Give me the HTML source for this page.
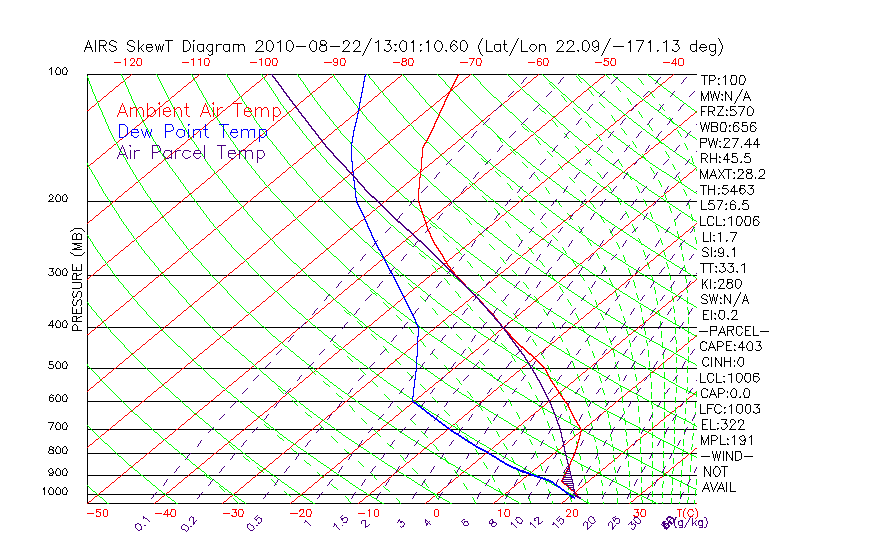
<!DOCTYPE html>
<html><head><meta charset="utf-8"><title>AIRS SkewT Diagram 2010-08-22/13:01:10.60 (Lat/Lon 22.09/-171.13 deg)</title>
<style>html,body{margin:0;padding:0;background:#fff;font-family:"Liberation Sans",sans-serif;}svg{display:block}</style>
</head><body>
<svg role="img" aria-label="AIRS SkewT Diagram" width="870" height="560" viewBox="0 0 870 560" shape-rendering="crispEdges" fill="none" stroke-width="1">
<rect width="870" height="560" fill="#fff" stroke="none"/>
<path id="frame-and-text" stroke="#000000" d="M99 40.5h6m6 0h3m15 0h4m32 0h8m10 0h5m5 0h2m63 0h3m7 0h3m17 0h3m21 0h2m7 0h4m20 0h3m7 0h3m27 0h6m11 0h2m33 0h2m14 0h2m7 0h3m94 0h3m7 0h3m12 0h3m8 0h2m39 0h8m29 0h6m-565 1h2m140 0h2m3 0h2m16 0h2m33 0h2m27 0h2m13 0h2m17 0h2m25 0h2m6 0h2m13 0h2m10 0h2m14 0h2m100 0h2m8 0h2m3 0h2m19 0h2m34 0h2m18 0h2m14 0h2m-390 1h2m96 0h2m34 0h3m12 0h3m199 0h3m17 0h3m12 0h2m-556 2h2m16 0h2m18 0h5m46 0h6m4 0h5m5 0h4m2 0h6m3 0h6m1 0h4m76 0h3m1 0h2m61 0h3m4 0h3m23 0h2m31 0h2m40 0h6m2 0h4m24 0h4m6 0h4m130 0h3m13 0h6m4 0h4m5 0h6m-617 1h7m5 0h2m16 0h2m85 0h2m20 0h2m81 0h5m213 0h2m-428 1h3m15 0h3m162 0h10m24 0h10m110 0h2m144 0h3m14 0h11m-539 1h7m54 0h7m441 0h2m103 0h8m-569 1h2m-26 2h2m71 0h2m13 0h2m7 0h2m15 0h2m37 0h2m18 0h2m36 0h2m57 0h2m8 0h3m23 0h2m23 0h2m14 0h2m36 0h2m76 0h2m4 0h2m11 0h2m59 0h2m13 0h2m21 0h2m7 0h2m8 0h2m-605 1h3m15 0h4m15 0h3m32 0h4m12 0h3m7 0h2m14 0h3m27 0h9m5 0h2m18 0h2m21 0h3m6 0h4m17 0h8m3 0h8m25 0h3m13 0h3m32 0h3m13 0h2m8 0h2m21 0h7m3 0h3m7 0h2m13 0h7m4 0h2m22 0h8m2 0h9m10 0h2m7 0h2m78 0h3m15 0h3m7 0h2m7 0h3m-503 3h2m-4 1h2m500 0h3m-657 12h2m5 0h2m-16 1h2m4 6h4m3 0h4m20 0h34m1 0h9m1 0h24m1 0h34m1 0h7m1 0h26m1 0h34m1 0h5m1 0h3m2 0h24m1 0h34m3 0h30m3 0h34m1 0h34m1 0h20m1 0h11m3 0h34m1 0h30m1 0h3m1 0h34m1 0h27m1 0h6m1 0h34m1 0h25m1 0h23m4 1h7m1 0h6m16 0h5m4 0h4m-20 1h2m-8 2h2m-11 2h5m4 4h2m11 0h5m4 0h4m-19 8h2m-26 1h2m4 0h2m5 0h2m9 0h2m-26 1h2m4 0h2m12 0h2m-22 1h2m41 2h6m-34 1h2m12 0h2m-11 1h2m7 0h2m-31 7h6m1 0h5m4 0h7m6 0h6m2 0h7m4 0h2m-38 1h2m17 2h2m-21 1h2m11 0h2m2 0h2m-31 1h4m3 0h5m4 4h7m2 0h2m2 0h5m13 0h4m-41 7h6m4 0h5m8 0h5m3 0h5m4 0h5m-52 2h2m23 1h2m4 0h2m5 0h5m5 0h2m-43 1h6m16 0h2m15 0h2m-36 1h2m-16 2h2m7 2h6m4 0h5m3 0h2m3 0h4m4 0h5m4 0h4m-55 7h7m17 0h5m3 0h7m9 1h2m6 0h2m-46 1h2m42 0h2m-39 1h2m-21 1h6m38 2h8m1 0h7m-50 1h2m7 1h2m2 1h7m-29 6h5m26 0h5m8 0h5m-24 1h2m-2 1h2m4 1h4m10 0h3m-30 1h2m23 0h2m-45 1h5m4 0h7m6 1h7m1 2h2m-14 1h2m11 0h5m3 0h2m3 0h5m-26 7h8m6 0h5m4 0h5m8 0h4m-64 2h2m4 0h2m-8 1h2m4 0h2m25 0h2m7 0h2m3 0h2m1 0h2m-46 1h2m39 0h4m-41 2h6m44 1h2m-29 2h2m2 0h7m3 0h5m6 0h7m-65 7h7m16 0h5m12 0h5m3 0h6m-21 1h2m-2 1h2m-17 1h2m2 0h5m12 0h5m6 0h3m-45 1h7m24 0h2m-2 1h2m-11 1h8m-20 2h2m2 0h2m16 0h2m-692 1h2m5 0h2m5 0h2m658 0h2m23 0h3m-702 5h2m657 1h5m3 0h6m9 0h2m9 0h5m-700 1h6m2 0h4m3 0h4m20 0h22m1 0h3m2 0h37m1 0h28m1 0h13m1 0h42m1 0h9m2 0h30m1 0h35m2 0h5m1 0h32m1 0h9m1 0h10m2 0h5m2 0h23m1 0h2m1 0h5m1 0h32m2 0h34m1 0h6m1 0h13m1 0h10m2 0h2m1 0h13m2 0h15m1 0h2m1 0h22m1 0h2m1 0h3m2 0h14m1 0h15m1 0h2m2 0h10m1 0h9m1 0h10m2 0h9m1 0h22m1 0h7m13 2h3m31 0h3m-39 1h2m15 0h2m3 0h5m7 0h2m-43 5h6m2 0h5m11 0h2m4 0h4m3 0h2m3 0h5m-40 7h5m24 0h4m4 0h5m4 0h5m-30 1h3m-9 2h2m30 0h2m-4 1h2m-55 5h6m2 0h5m3 0h6m1 0h2m12 0h4m4 0h5m4 0h4m-684 3h8m-11 2h2m657 2h7m-663 1h2m2 0h2m638 0h3m-645 1h2m2 0h2m631 1h2m-643 4h10m631 1h2m11 0h2m-25 1h6m-637 2h10m-8 1h3m0 1h3m0 1h2m-5 1h3m624 0h3m-633 1h3m642 0h2m12 0h2m-663 1h10m650 0h3m-32 2h3m8 0h2m-10 1h2m10 0h2m2 0h2m-653 1h2m647 0h2m-648 2h8m621 1h5m6 0h2m3 0h4m4 0h2m-29 7h14m6 0h5m3 0h6m8 1h3m-30 2h2m5 0h2m6 0h3m-684 2h5m3 0h2m5 0h2m6 2h10m-31 1h2m662 0h2m2 0h2m2 0h2m7 0h2m2 0h2m-17 1h2m6 0h3m-659 1h4m2 1h2m-32 1h4m3 0h4m3 0h4m9 0h3m8 0h4m2 0h22m1 0h43m1 0h3m1 0h47m1 0h15m1 0h31m1 0h35m1 0h11m1 0h47m1 0h6m2 0h28m2 0h5m1 0h4m1 0h25m1 0h20m6 0h22m1 0h18m3 0h16m1 0h29m1 0h3m1 0h14m1 0h14m1 0h13m1 0h37m2 0h9m1 0h6m1 0h17m1 0h21m2 0h4m-625 4h10m637 0h5m3 0h5m4 0h4m-668 3h9m623 0h2m8 0h2m11 0h5m-5 1h2m-27 1h2m-624 3h2m632 0h2m15 0h2m-661 1h8m638 0h7m3 0h3m6 0h2m-661 3h3m622 3h3m18 1h2m-651 1h2m647 0h2m-653 1h2m627 1h2m16 0h2m-643 1h2m623 0h3m-630 1h2m664 0h5m-19 1h2m-2 1h2m-29 1h5m13 0h2m-649 2h3m627 5h6m10 0h5m8 0h5m-665 3h10m632 0h2m-13 1h4m-634 2h4m3 0h2m-4 1h2m-4 1h2m636 0h2m3 0h2m6 0h2m-26 1h6m12 0h2m8 0h7m-681 1h2m5 0h2m-15 1h2m19 0h10m-8 3h2m-28 1h6m656 1h7m10 0h7m3 0h5m3 0h6m-695 1h4m3 0h4m20 0h9m1 0h10m1 0h51m1 0h4m1 0h46m1 0h20m1 0h31m1 0h35m1 0h15m1 0h26m1 0h19m1 0h3m2 0h34m1 0h4m1 0h9m3 0h14m1 0h13m1 0h2m1 0h18m2 0h9m1 0h19m4 0h18m1 0h12m1 0h17m1 0h5m1 0h9m1 0h4m2 0h4m1 0h13m1 0h8m1 0h16m1 0h5m1 0h9m1 0h3m1 0h16m1 0h15m1 0h4m2 0h6m1 0h8m35 2h2m-662 1h10m628 0h7m10 0h5m13 0h4m-50 1h9m52 0h9m-50 1h6m13 3h3m4 0h6m2 0h6m-57 6h3m12 0h5m4 0h6m17 0h2m5 0h5m-60 1h2m2 0h2m34 0h2m-2 1h2m-17 2h4m4 0h2m22 0h3m-44 1h5m-13 1h6m23 0h7m-43 3h4m20 0h6m2 0h2m12 0h4m4 0h4m-56 7h4m31 0h4m-28 1h2m-2 1h2m-668 2h4m4 0h2m5 0h2m658 0h7m-682 3h4m667 0h2m-19 1h2m2 0h2m11 0h2m-17 1h2m33 0h2m-693 2h4m3 0h4m3 0h4m20 0h3m1 0h23m2 0h30m1 0h35m2 0h18m1 0h47m1 0h6m2 0h54m1 0h3m2 0h40m1 0h8m2 0h15m2 0h29m1 0h7m1 0h22m1 0h5m2 0h25m1 0h40m1 0h9m2 0h2m1 0h8m2 0h3m1 0h38m4 0h5m1 0h19m1 0h16m1 0h11m2 0h8m2 0h5m1 0h12m1 0h10m1 0h9m11 5h5m24 0h4m4 0h5m4 0h5m-31 1h4m-9 2h2m28 0h5m-35 5h2m20 0h2m7 0h2m-56 1h6m3 0h3m4 0h6m16 0h2m7 0h2m-46 6h3m12 0h5m10 0h2m10 0h3m-42 1h2m10 4h5m-666 1h2m5 0h2m644 0h6m-664 1h2m-5 2h4m649 0h5m25 0h4m3 0h2m3 0h5m-699 4h3m3 0h4m3 0h4m20 0h35m1 0h19m2 0h37m1 0h28m1 0h25m1 0h2m1 0h37m3 0h13m1 0h3m2 0h43m1 0h2m2 0h9m2 0h35m1 0h18m4 0h9m1 0h10m1 0h11m1 0h25m1 0h6m2 0h24m3 0h22m1 0h5m1 0h4m1 0h4m2 0h14m2 0h4m1 0h15m1 0h3m2 0h13m1 0h3m1 0h6m2 0h4m1 0h8m1 0h6m1 0h10m2 0h10m1 0h13m1 0h8m3 0h10m10 3h7m2 0h4m17 0h5m4 0h4m4 0h6m-30 1h2m-8 2h2m30 0h2m-51 1h5m46 0h2m-45 4h2m2 0h2m3 0h2m11 0h2m14 0h2m2 0h3m-60 1h6m11 0h3m19 0h2m6 0h2m6 0h2m-55 6h6m13 0h6m4 0h3m6 0h2m-4 1h2m2 0h2m-696 2h6m3 0h2m5 0h2m651 1h2m5 0h3m-25 1h4m11 4h2m-663 1h4m3 0h4m20 0h4m1 0h17m1 0h42m1 0h23m2 0h33m1 0h2m1 0h29m1 0h10m1 0h14m1 0h3m1 0h37m1 0h6m1 0h4m1 0h10m1 0h34m1 0h9m1 0h16m1 0h5m1 0h23m1 0h19m4 0h7m1 0h2m1 0h25m1 0h27m1 0h3m2 0h3m2 0h25m1 0h8m1 0h11m2 0h6m4 0h7m2 0h20m1 0h11m1 0h13m5 0h7m1 0h15m1 0h6m1 0h9m3 0h10m5 0h6m2 0h6m6 0h3m4 0h7m2 0h7m-34 6h5m26 0h2m-11 1h2m5 0h2m8 0h2m-51 1h2m4 0h2m-8 1h2m4 0h2m-8 1h2m24 0h2m15 0h2m-35 1h5m27 0h3m-26 4h6m1 0h2m11 0h5m-695 2h2m5 0h2m5 0h2m-14 1h2m-5 2h4m-1 1h2m681 1h6m-15 1h2m-679 1h5m2 0h4m3 0h4m20 0h29m1 0h30m2 0h31m1 0h9m1 0h23m2 0h19m1 0h7m2 0h37m2 0h13m3 0h7m1 0h41m4 0h17m2 0h13m1 0h23m1 0h8m2 0h14m1 0h9m1 0h24m1 0h7m1 0h7m6 0h6m2 0h8m1 0h27m2 0h16m2 0h2m1 0h3m1 0h3m1 0h8m2 0h3m1 0h18m1 0h22m2 0h2m1 0h2m1 0h11m1 0h11m1 0h10m1 0h8m2 0h8m1 0h5m3 0h6m29 0h2m-27 3h9m34 0h9m-22 2h2m-2 1h2m6 0h2m-6 1h4m-24 6h3m3 0h7m-24 1h2m-656 1h2m5 0h2m5 0h2m638 0h2m-654 4h2m-4 1h2m657 1h2m-662 1h4m3 0h4m3 0h4m20 0h34m1 0h19m2 0h45m1 0h16m4 0h47m1 0h16m1 0h46m2 0h2m1 0h14m1 0h33m1 0h18m1 0h11m2 0h51m3 0h10m2 0h19m1 0h28m1 0h6m1 0h3m7 0h26m8 0h23m1 0h6m1 0h26m1 0h22m1 0h10m1 0h3m2 0h12m1 0h15m12 0h2m4 1h3m-668 11h2m5 0h2m5 0h2m-23 1h2m658 0h6m9 0h6m-681 1h2m685 2h6m-687 3h4m3 0h4m3 0h4m20 0h10m2 0h55m1 0h10m1 0h34m1 0h31m2 0h32m1 0h20m2 0h11m2 0h18m1 0h33m1 0h12m3 0h9m1 0h35m1 0h18m3 0h4m1 0h37m1 0h21m4 0h3m1 0h21m1 0h18m2 0h17m9 0h26m2 0h24m2 0h7m3 0h8m1 0h2m1 0h9m1 0h8m1 0h8m3 0h12m-607 9h19m2 0h45m1 0h21m2 0h44m1 0h15m1 0h6m1 0h44m1 0h22m2 0h43m1 0h23m2 0h16m1 0h24m1 0h24m2 0h23m1 0h17m1 0h11m1 0h13m2 0h31m1 0h8m1 0h26m2 0h13m1 0h13m1 0h11m2 0h21m1 0h3m2 0h4m1 0h8m1 0h7m1 0h14M44.5 487v1m0 2v5m4-221v1m0 92v1m0 83v2m0 17v2m0 18v3m1-424v1m0 125v2m0 3v1m0 123v1m0 37v2m0 32v1m0 1v3m0 46v2m0 1v1m0 18v1m0 2v1m0 1v1m0 13v2m0 3v1m1-172v2m0 71v1m0 32v2m1-363v1m0 1v6m0 319v1m0 31v2m1-233v1m0 1v2m0 70v2m0 49v1m0 1v3m0 1v2m0 96v2m0 43v2m0 3v1m0 13v1m1-293v1m0 75v3m0 90v3m0 30v3m0 22v1m0 24v1m0 2v2m0 18v1m0 1v1m0 15v5m2-424v3m0 124v3m0 71v3m0 49v3m0 38v3m0 30v3m0 25v3m0 21v3m0 19v3m0 16v3m1-425v2m0 3v1m0 121v2m0 3v1m0 68v2m0 3v1m0 46v2m0 3v1m0 35v2m0 3v1m0 27v2m0 3v1m0 22v2m0 3v1m0 18v2m0 3v1m0 16v2m0 3v1m0 13v2m0 3v1m3-426v1m0 126v1m0 73v1m0 51v1m0 40v1m0 32v1m0 27v1m0 23v1m0 21v1m0 18v1m1-420v5m0 122v5m0 69v5m0 47v5m0 36v5m0 28v5m0 23v5m0 19v5m0 17v5m0 14v5m2-425v5m0 122v5m0 69v5m0 47v5m0 36v5m0 28v5m0 23v5m0 19v5m0 17v5m0 14v5m1-426v1m0 126v1m0 73v1m0 51v1m0 40v1m0 32v1m0 27v1m0 23v1m0 21v1m0 18v1m3-421v2m0 2v2m0 121v2m0 2v2m0 68v2m0 2v2m0 46v2m0 2v2m0 35v2m0 2v2m0 27v2m0 2v2m0 22v2m0 2v2m0 18v2m0 2v2m0 16v2m0 2v2m0 13v2m0 2v2m1-424v2m0 125v2m0 72v2m0 50v2m0 39v2m0 31v2m0 26v2m0 22v2m0 20v2m0 17v2m3-261v1m0 20v1m2-18v4m0 25v6m0 5v4m0 14v3m0 5v3m0 3v6m0 4v4m0 5v4m1-101v1m0 4v1m0 19v1m0 19v1m0 16v2m0 3v1m0 2v2m0 3v1m0 20v1m3-91v4m0 28v3m0 4v1m0 1v3m0 15v2m0 6v3m0 4v4m0 4v1m0 1v2m0 4v1m1-34v2m0 7v1m0 24v4m3-33v1m0 7v1m1-71v4m0 25v6m0 3v1m0 9v4m0 5v5m0 3v5m0 2v6m1-84v1m0 24v1m1-25v1m0 22v1m1-204v2m0 179v1m0 20v1m1-205v2m1-5v2m1-5v3m0 30v1m0 2v32m0 1v52m0 2v2m0 1v33m0 1v21m0 1v11m0 1v39m0 1v3m0 1v22m0 1v24m0 1v6m0 1v29m0 2v2m0 1v22m0 1v9m0 1v23m0 1v3m0 1v17m0 1v5m0 1v21m0 1v9m0 1v8m0 1v8m1-463v2m1 0v3m1 0v2m1 1v2m1 0v2m3-12v12m4-11v4m0 1v6m4-6v2m1 0v1m1-8v1m0 2v1m0 4v2m1-9v2m0 7v1m3-10v2m0 5v1m1-9v1m0 8v1m5-4v1m1-6v1m0 5v2m11-8v2m0 5v1m1-9v1m0 8v1m5-10v1m0 8v1m1-9v1m0 4v3m4-10v8m0 1v3m2-5v1m1-2v1m0 1v2m1-5v1m0 4v1m1-7v1m0 6v1m3-7v2m0 1v2m1 0v1m4-6v1m0 4v1m1-5v1m0 2v1m3-6v2m1 0v4m1 0v2m1-6v4m1-6v2m1 0v4m1 0v2m1-6v4m1-6v2m5-5v11m15-11v10m5-10v1m1 0v2m0 4v2m1-6v4m3-7v1m0 2v8m4-7v5m1 0v1m5-6v5m0 1v1m3-5v2m0 426v1m1-431v2m0 2v1m1 0v1m0 3v1m4-10v5m0 1v3m4-10v1m0 1v6m7-7v5m1 0v1m5-6v5m0 1v1m4-7v7m5-6v6m5-7v1m1 0v6m12-10v2m0 6v1m1-2v1m1-2v1m1-2v1m1-2v1m1-2v1m1-4v3m4-3v8m1-9v1m4-1v1m0 8v1m1-9v2m0 4v2m1-6v4m7-8v1m0 1v10m6-10v8m1-9v1m4-1v1m0 8v1m1-9v2m0 4v2m1-6v4m5 405v1m11-410v4m1-6v2m0 4v2m1-9v1m0 8v1m4-1v1m1-9v8m3-3v3m1-9v3m0 2v1m0 3v1m5-10v1m1 0v2m0 2v4m7 24v1m10-33v2m0 6v1m1-2v1m1-2v1m1-2v1m1-2v1m1-6v1m0 2v2m1-4v2m4-2v2m1-3v1m0 8v1m1-2v1m1-2v1m1-2v1m1-2v1m1-5v4m3 9v1m1-3v2m1-4v2m1-4v2m1-4v2m0 25v1m1-30v2m1-4v2m1-4v2m1-4v2m1-3v1m7 1v1m0 1v10m6-3v1m4-7v1m1-3v2m0 7v1m1-6v2m0 2v1m1-3v2m4-4v1m0 5v1m4-8v4m1-6v2m0 4v2m1-9v1m0 8v1m4-1v1m1-9v8m7-10v1m0 2v9m6 275v1m1-283v1m0 5v1m8-12v1m0 2v9m6-8v4m1-6v2m0 4v2m1-9v1m0 8v1m4-1v1m1-9v2m0 4v2m1-6v4m4 3v1m4-8v2m0 1v2m1-7v2m0 5v1m1-9v1m0 3v1m0 4v1m1 224v1m2-231v1m0 4v1m1-9v1m0 3v1m0 2v1m1-3v2m1 426v1m2-434v8m1-9v1m4-1v1m0 8v1m1-9v2m0 4v2m1-6v4m4 26v1m7-30v4m1-6v2m0 4v3m1-11v2m0 9v2m1-15v2m0 13v1m1-17v1m0 16v1m4-16v11m1 402v1m7-409v5m1 0v1m5-6v5m0 1v1m2 442v1m2-455v4m0 1v5m0 277v1m1-278v1m3 350v1m1-347v1m1-3v2m1-4v2m1-4v2m1-4v2m1-4v2m1-4v2m1-4v2m1-4v2m1-3v1m3 1v11m8-4v2m1-4v2m0 2v1m1 0v1m3-1v1m1-6v1m0 3v1m1-4v3m3-5v1m0 1v6m5-7v1m1 0v6m12-10v2m0 6v1m1-2v1m1-2v1m1-2v1m1-2v1m1-6v1m0 2v2m1-4v2m4-2v2m0 6v1m1-2v1m1-2v1m1-2v1m0 446v1m1-449v1m1-2v1m1-4v3m5 6v1m4-10v8m0 379v1m1-389v1m4-1v1m0 8v1m1-9v2m0 4v2m1-6v4m1 320v1m2-327v4m0 3v1m1-4v1m0 3v1m4-10v1m1 0v4m0 1v3m3 5v1m1-3v2m1-4v2m1-4v2m1-4v2m1-4v2m1-4v2m1-4v2m1-4v2m1-3v1m20 1v1m0 2v9m8-2v2m1-4v2m1-4v2m0 381v1m1-386v2m1-4v2m1-3v1m7-2v1m0 2v9m7-1v1m9-12v1m0 1v10m6-3v1m4-7v1m1-3v2m0 7v1m1-6v2m0 2v1m1-3v2m2 445v1m4-66v1m5-385v5m1 0v1m4 452v1m1-464v4m0 1v5m0 1v1m0 442v1m3-447v1m1-4v2m0 2v1m0 72v3m0 14v3m0 1v5m0 21v2m0 2v6m0 37v9m0 118v6m0 24v9m0 22v9m1-363v1m0 40v2m0 3v5m0 6v4m0 1v4m0 9v4m0 25v4m0 1v4m0 37v9m0 87v2m0 4v1m0 46v1m0 40v6m0 39v2m0 3v5m1-315v2m0 41v2m0 74v2m0 4v1m0 23v5m0 1v4m0 6v1m0 64v4m0 25v1m0 6v1m0 23v4m0 1v4m0 61v2m1-396v3m0 28v2m0 46v2m0 9v9m0 37v9m0 7v1m0 15v9m0 38v3m0 1v4m0 39v2m0 4v1m0 75v3m0 46v1m1-414v9m0 14v2m0 24v2m0 50v2m0 104v1m0 159v2m0 21v1m0 2v8m0 9v2m1-443v1m0 51v2m0 23v2m0 35v2m0 13v3m0 104v1m0 2v2m0 155v2m0 41v2m1-440v1m0 2v1m0 45v2m0 28v4m0 10v3m0 12v1m0 2v1m0 3v1m0 118v1m0 5v2m0 7v1m0 4v1m0 42v1m0 4v2m0 89v2m0 28v2m0 11v2m1-355v3m0 23v2m0 5v1m0 6v2m0 3v5m0 39v6m0 24v1m0 4v1m0 25v1m0 8v1m0 7v1m0 4v2m0 72v5m0 10v1m0 4v2m0 8v3m0 1v5m0 57v1m0 12v3m1-396v2m0 2v6m0 6v4m0 1v4m0 9v4m0 9v3m0 44v4m0 1v5m0 8v1m0 4v1m0 8v1m0 6v1m0 24v1m0 4v2m0 93v2m0 7v2m0 4v1m0 9v1m0 5v2m0 53v2m0 2v6m0 27v2m0 13v1m0 1v1m1-445v5m0 26v4m0 1v4m0 37v3m0 16v4m0 32v2m0 22v2m0 91v3m0 49v1m0 1v1m0 47v2m0 92v2m1-442v1m0 3v1m0 36v3m0 52v2m0 5v5m0 1v4m0 13v1m0 55v10m0 22v9m0 6v10m0 8v4m0 26v3m0 1v5m0 7v3m0 47v1m0 1v1m0 23v10m0 37v8m0 2v1m0 5v2m1-390v4m0 25v3m0 1v4m0 12v2m0 28v2m0 72v10m0 44v3m0 6v10m0 21v2m0 14v10m0 23v3m0 43v4m0 1v4m0 39v3m1-389v3m0 11v2m0 27v2m0 28v2m0 124v4m0 42v2m0 36v1m0 6v2m0 61v3m0 33v3m1-396v4m0 16v1m0 23v2m0 29v2m0 33v1m0 12v2m0 4v2m0 69v3m0 48v2m0 27v2m0 3v2m0 9v2m0 62v4m0 11v5m0 16v2m1-438v1m0 21v1m0 2v1m0 11v2m0 15v2m0 5v1m0 25v4m0 26v3m0 11v4m0 1v5m0 10v4m0 32v1m0 46v1m0 8v4m0 47v1m0 43v2m0 13v4m0 47v3m0 7v1m0 5v1m0 13v2m1-445v5m0 1v3m0 23v2m0 15v2m0 49v3m0 26v1m0 1v1m0 73v1m0 4v1m0 45v3m0 10v1m0 4v1m0 29v2m0 6v1m0 2v7m0 28v1m0 9v2m0 4v1m0 42v4m0 9v1m0 7v1m0 10v2m1-392v2m0 43v4m0 8v5m0 1v4m0 14v2m0 37v9m0 42v1m0 4v1m0 24v4m0 26v3m0 43v9m0 14v2m0 38v1m0 2v1m0 11v3m0 30v2m1-387v2m0 22v3m0 2v3m0 7v3m0 153v3m0 45v4m0 1v4m0 9v1m0 68v1m0 7v2m0 15v4m0 24v2m0 6v2m1-454v1m0 16v1m0 23v1m0 3v1m0 10v4m0 15v2m0 54v1m0 8v1m0 15v1m0 13v2m0 39v3m0 3v1m0 24v2m0 32v3m0 17v2m0 25v2m0 26v4m0 1v4m0 60v3m0 6v1m0 7v1m0 13v1m1-451v2m0 13v1m0 36v3m0 18v1m0 43v1m0 4v1m0 8v2m0 4v2m0 28v2m0 62v1m0 16v1m0 23v3m0 3v1m0 15v1m0 29v1m0 90v4m0 10v2m0 3v2m0 11v2m1-447v2m0 9v2m0 56v2m0 12v7m0 16v1m0 24v1m0 2v1m0 28v2m0 26v1m0 1v8m0 43v2m0 10v1m0 4v1m0 27v2m0 73v1m0 29v9m0 7v3m0 16v3m0 11v2m1-443v2m0 4v3m0 57v1m0 13v1m0 49v2m0 27v2m0 43v1m0 36v1m0 43v2m0 27v7m0 2v1m0 39v1m0 4v1m0 15v2m0 53v2m1-439v4m0 46v1m0 4v1m0 6v2m0 63v1m0 2v1m0 11v1m0 4v1m0 8v1m0 46v1m0 34v1m0 42v2m0 14v1m0 2v1m0 138v3m1-410v1m0 92v2m0 4v2m0 8v1m0 62v3m0 1v3m0 8v2m0 14v3m0 35v1m0 9v3m0 12v2m0 44v1m0 2v1m0 58v10m0 26v1m0 1v1m1-351v2m0 5v1m0 10v2m0 19v1m0 41v1m0 3v1m0 42v1m0 26v1m0 2v7m0 7v7m0 13v1m0 1v1m0 23v4m0 1v5m0 15v1m0 7v2m0 16v1m0 4v1m0 53v10m0 13v2m1-417v1m0 1v8m0 6v1m0 2v7m0 22v2m0 3v3m0 13v2m0 10v1m0 111v3m0 63v2m0 85v2m0 5v1m1-320v1m0 4v1m0 10v3m0 15v1m0 49v1m0 9v1m0 4v1m0 32v1m0 43v2m0 10v1m0 44v3m0 1v4m0 70v1m0 3v1m0 2v1m0 23v1m0 2v7m0 21v10m1-398v1m0 47v1m0 10v1m0 2v3m0 1v3m0 26v1m0 2v1m0 62v1m0 14v1m0 9v2m0 2v1m0 2v1m0 10v2m0 27v3m0 1v5m0 55v2m0 3v2m0 27v2m0 11v1m0 4v1m1-349v2m0 44v1m0 28v9m0 11v2m0 26v1m0 52v1m0 28v1m0 18v1m0 134v1m1-358v1m0 28v1m0 3v1m0 8v2m0 265v1m0 48v2m1-378v3m0 25v3m0 4v1m0 87v2m0 1v4m0 85v7m0 2v1m0 53v4m0 1v5m0 25v3m0 25v3m0 5v1m0 28v1m0 24v9m1-415v3m0 3v2m0 7v7m0 2v1m0 88v2m0 10v1m0 14v1m0 1v8m0 39v1m0 17v1m0 28v1m0 18v2m0 40v1m0 1v8m0 7v2m0 3v2m0 7v1m0 1v8m0 12v2m1-274v2m0 1v1m0 30v1m0 51v2m0 22v1m0 15v2m0 2v3m0 24v1m0 6v1m0 14v2m0 54v1m0 35v1m0 11v1m0 13v7m0 2v1m1-337v2m0 1v4m0 16v1m0 90v2m0 27v4m0 35v1m0 10v1m0 9v2m0 6v1m0 88v1m1-322v1m0 6v1m0 12v1m0 21v2m0 26v1m0 3v1m0 7v1m0 2v3m0 1v3m0 6v1m0 34v2m0 9v1m0 2v7m0 47v2m0 10v1m0 27v1m0 4v1m0 10v2m0 3v2m0 53v1m0 2v1m0 11v1m0 1v8m1-362v1m0 17v2m0 8v1m0 2v1m0 28v2m0 57v1m0 2v4m0 25v2m0 44v7m0 15v2m0 11v1m0 73v1m0 6v1m0 24v2m0 29v8m1-384v7m0 16v2m0 11v2m0 27v2m0 14v1m0 60v7m0 8v1m0 53v1m0 12v2m0 9v4m0 12v7m0 40v7m0 9v6m0 10v6m1-315v2m0 27v1m0 12v2m0 17v4m0 55v1m0 54v1m0 25v2m0 34v1m0 26v3m0 17v1m0 23v1m1-310v1m0 26v1m0 3v1m0 1v2m0 39v2m0 5v1m0 118v2m0 61v2m0 3v1m0 56v2m1-346v7m0 10v2m0 32v1m0 47v1m0 14v1m0 16v1m0 78v1m0 6v2m0 49v2m0 11v1m0 6v1m0 62v1m0 8v2m1-363v1m0 15v2m0 20v2m0 59v1m0 10v2m0 4v1m0 31v1m0 55v1m0 4v2m0 5v2m0 50v1m0 36v1m0 14v1m0 29v2m0 11v1m0 3v1m0 8v1m1-363v2m0 20v2m0 15v1m0 16v2m0 13v1m0 12v1m0 42v2m0 3v2m0 41v1m0 15v4m0 42v1m0 5v2m0 39v1m0 4v2m0 31v1m0 12v1m0 14v1m0 12v6m1-370v1m0 20v2m0 11v2m0 1v1m0 3v1m0 39v1m0 2v1m0 20v1m0 8v1m0 4v1m0 10v3m0 80v2m0 24v1m0 3v1m0 8v1m0 2v3m0 1v3m0 14v1m0 9v4m0 26v7m0 12v1m0 16v1m1-359v1m0 15v2m0 7v2m0 61v1m0 21v1m0 7v2m0 96v1m0 1v1m0 56v7m0 27v3m0 26v3m1-348v2m0 3v2m0 13v1m0 1v1m0 8v1m0 48v1m0 4v1m0 24v1m0 2v1m0 2v1m0 27v3m0 40v1m0 1v8m0 23v3m0 77v4m0 9v3m0 3v2m0 39v2m0 4v2m1-366v3m0 12v3m0 47v1m0 10v2m0 34v2m0 25v3m0 3v2m0 69v2m0 31v3m0 1v4m0 39v2m0 4v1m0 25v6m0 26v1m0 2v1m1-351v2m0 49v1m0 27v2m0 2v4m0 118v3m0 46v3m0 57v1m0 6v1m1-320v2m0 13v7m0 11v5m0 9v2m0 50v1m0 11v1m0 94v1m0 1v1m0 41v2m0 3v2m1-255v2m0 10v1m0 85v1m0 11v4m0 93v2m0 38v1m0 46v1m0 6v1m1-299v1m0 39v1m0 1v4m0 1v3m0 9v1m0 66v1m0 156v1m0 8v6m0 16v1m0 24v1m1-339v2m0 23v2m0 1v4m0 27v4m0 55v7m0 150v7m0 24v7m1-305v1m0 15v1m0 46v2m0 2v1m0 2v1m0 9v1m0 154v1m0 92v1m0 1v8m1-337v1m0 4v2m0 60v2m0 9v1m0 6v1m0 149v7m1-241v4m0 76v4m0 25v2m0 1v4m0 101v9m0 39v2m0 1v4m0 30v1m1-286v1m0 15v2m0 73v1m1-95v1m0 3v1m0 1v2m0 10v1m0 35v2m0 170v1m1-222v1m0 253v1m1-245v1m0 2v3m0 1v3m0 72v1m0 160v1m0 24v1m1-190v1m0 3v1m0 1v2m0 149v1m0 2v1m0 2v1m0 24v1m1-236v2m0 5v1m0 44v1m0 120v2m0 33v2m0 29v3m1-70v1m0 3v1m0 2v1m1-3v2m1-174v1m1-2v1m1-5v4"/>
<path id="isotherms-ambient" stroke="#ff0000" d="M131 58.5h3m3 0h4m64 0h4m57 0h4m3 0h4m57 0h3m4 0h4m57 0h4m3 0h4m56 0h6m2 0h4m57 0h3m3 0h4m56 0h5m2 0h4m64 0h4m-559 1h2m65 0h3m4 0h3m58 0h3m412 0h2m-271 1h2m197 0h3m-205 1h4m131 0h4m66 0h2m-495 1h7m61 0h7m61 0h7m67 0h8m2 0h4m55 0h7m60 0h8m60 0h7m60 0h7m61 0h7m1 1h6m-276 1h2m200 0h2m-475 1h5m2 0h4m64 0h4m57 0h4m3 0h4m57 0h3m4 0h4m57 0h4m3 0h4m64 0h4m57 0h3m3 0h4m56 0h4m3 0h4m64 0h4m-226 10h2m-332 2h2m66 0h2m133 0h2m66 0h2m56 0h2m8 0h2m66 0h2m65 0h2m66 0h2m-216 2h2m-3 2h2m-335 1h2m66 0h2m66 0h2m65 0h2m66 0h2m66 0h2m66 0h2m65 0h2m66 0h2m-212 1h2m-3 2h2m-338 1h2m66 0h2m66 0h2m133 0h2m66 0h2m66 0h2m133 0h2m-342 1h2m131 0h2m136 0h2m-141 2h3m-3 1h2m-342 1h2m66 0h2m66 0h2m65 0h2m134 0h2m66 0h2m65 0h2m66 0h2m-206 1h2m-3 1h3m-3 2h2m-345 1h2m66 0h2m133 0h2m66 0h2m66 0h2m66 0h2m65 0h2m66 0h2m-202 1h2m-3 2h2m-349 2h2m66 0h2m66 0h2m65 0h2m66 0h2m66 0h2m5 0h2m59 0h2m133 0h2m-484 2h2m52 0h2m18 0h10m201 1h2m-353 2h2m66 0h2m66 0h2m133 0h2m66 0h2m9 0h2m122 0h2m-435 1h3m3 0h3m8 0h3m13 0h3m8 0h3m4 0h5m31 0h3m23 0h3m9 0h3m3 0h3m8 0h3m-148 1h3m25 0h2m4 0h2m83 0h2m22 0h2m166 0h2m-307 1h2m9 0h2m25 0h2m41 0h2m36 0h2m4 0h2m-176 1h2m65 0h3m66 0h2m201 0h2m12 0h2m187 0h2m-477 1h2m7 0h8m73 0h8m37 0h2m269 0h2m-443 1h7m76 0h7m230 0h2m-278 2h2m-18 1h4m66 0h2m26 0h2m26 0h2m77 0h2m66 0h2m16 0h2m48 0h2m133 0h2m66 0h2m-546 1h2m1 0h3m13 0h3m19 0h2m57 0h3m25 0h3m5 0h2m269 0h2m-119 1h2m-3 2h2m-295 1h2m66 0h2m65 0h2m66 0h2m66 0h2m66 0h2m65 0h2m66 0h2m66 0h2m-252 1h2m-3 2h2m-299 2h2m133 0h2m66 0h2m66 0h2m66 0h2m65 0h2m66 0h2m66 0h2m-248 1h2m-3 2h2m-234 1h2m133 0h2m66 0h2m66 0h2m201 0h2m-245 1h2m104 0h2m-109 2h2m-238 2h2m133 0h2m66 0h2m30 0h2m34 0h2m133 0h2m66 0h2m-410 1h2m269 0h2m-105 1h2m-3 2h2m-309 1h2m66 0h2m133 0h2m66 0h2m66 0h2m133 0h2m66 0h2m-410 1h2m170 0h2m97 0h2m-102 2h2m-3 1h2m-312 1h2m66 0h2m65 0h2m66 0h2m66 0h2m66 0h2m65 0h2m66 0h2m66 0h2m-235 1h2m-3 2h2m-315 1h2m66 0h2m133 0h2m66 0h2m66 0h2m133 0h2m66 0h2m-410 1h2m269 0h2m-413 4h2m201 0h2m66 0h2m66 0h2m133 0h2m66 0h2m-410 1h2m269 0h2m-89 3h2m-326 1h2m201 0h2m66 0h2m66 0h2m133 0h2m66 0h2m-410 1h2m269 0h2m-413 4h2m66 0h2m133 0h2m66 0h2m66 0h2m133 0h2m66 0h2m-410 1h2m269 0h2m-344 3h2m133 0h2m66 0h2m66 0h2m201 0h2m-411 2h2m199 0h2m68 0h2m-72 2h2m-274 1h2m133 0h2m66 0h2m201 0h2m134 0h2m-207 1h2m-345 4h2m133 0h2m66 0h2m66 0h2m4 0h2m195 0h2m66 0h2m-478 1h2m269 0h2m-345 4h2m133 0h2m66 0h2m66 0h2m133 0h2m66 0h2m-410 1h2m-74 4h2m133 0h2m66 0h2m66 0h2m133 0h2m66 0h2m66 0h2m-478 1h2m220 0h2m47 0h2m-344 3h2m133 0h2m66 0h2m66 0h2m133 0h2m66 0h2m66 0h2m-479 2h2m269 0h2m-344 3h2m133 0h2m66 0h2m66 0h2m133 0h2m66 0h2m66 0h2m-478 1h2m269 0h2m-345 4h2m133 0h2m66 0h2m66 0h2m133 0h2m66 0h2m-410 1h2m237 0h2m-1 3h2m-314 1h2m201 0h2m66 0h2m133 0h2m66 0h2m66 0h2m-478 1h2m269 0h2m-26 1h2m-320 2h2m133 0h2m66 0h2m66 0h2m133 0h2m66 0h2m66 0h2m-225 1h2m-256 1h2m269 0h2m-18 2h2m-328 1h2m133 0h2m66 0h2m66 0h2m133 0h2m66 0h2m66 0h2m-479 2h2m260 0h2m7 0h2m-344 3h2m133 0h2m66 0h2m66 0h2m61 0h2m70 0h2m66 0h2m66 0h2m-479 2h2m268 0h3m-3 1h2m-208 2h2m66 0h2m66 0h2m133 0h2m66 0h2m66 0h2m-478 1h2m269 0h2m3 0h2m-214 3h2m66 0h2m66 0h2m75 0h2m124 0h2m66 0h2m-479 2h2m269 0h2m11 0h2m256 0h2m-259 2h2m-223 1h2m66 0h2m66 0h2m133 0h2m66 0h2m66 0h2m-479 2h2m269 0h2m19 0h2m248 0h2m-251 2h2m-231 1h2m134 0h2m133 0h2m66 0h2m66 0h2m-179 1h2m-302 1h2m269 0h2m269 0h2m-243 1h2m-239 2h2m66 0h2m66 0h2m100 0h2m31 0h2m66 0h2m66 0h2m-170 1h2m-311 1h2m269 0h2m269 0h2m-234 1h2m-247 1h2m66 0h2m66 0h2m108 0h2m23 0h2m66 0h2m66 0h2m-479 2h2m269 0h2m44 0h2m-1 1h2m-256 2h2m66 0h2m66 0h2m117 0h2m14 0h2m66 0h2m66 0h2m-153 1h2m-328 1h2m269 0h2m269 0h2m-217 1h2m-265 2h2m66 0h2m66 0h2m126 0h2m5 0h2m66 0h2m66 0h2m-479 2h2m269 0h2m62 0h2m205 0h2m-208 1h3m-275 2h2m66 0h2m66 0h2m133 0h4m64 0h2m66 0h2m-479 2h2m269 0h2m71 0h2m196 0h2m-199 1h2m-1 1h2m-284 1h2m66 0h2m66 0h2m133 0h2m66 0h2m66 0h2m-126 1h2m-355 1h2m269 0h2m81 0h2m186 0h2m-189 1h2m-292 1h2m66 0h2m66 0h2m133 0h2m18 0h2m46 0h2m66 0h2m-480 3h2m269 0h2m269 0h2m-479 2h2m66 0h2m66 0h2m133 0h2m66 0h2m66 0h2m-208 2h2m269 0h2m-480 3h2m134 0h2m133 0h2m66 0h2m201 0h2m-343 2h2m269 0h2m-480 3h2m66 0h2m66 0h2m133 0h2m134 0h2m-208 2h2m-208 2h2m66 0h2m201 0h2m66 0h2m66 0h2m133 0h2m-344 3h2m269 0h2m-479 2h2m66 0h2m66 0h2m133 0h2m66 0h2m66 0h2m133 0h2m-73 3h2m-479 2h2m66 0h2m66 0h2m133 0h2m66 0h2m66 0h2m133 0h2m-343 2h2m269 0h2m-480 3h2m66 0h2m66 0h2m201 0h2m66 0h2m133 0h2m-343 2h2m269 0h2m-479 2h2m66 0h2m66 0h2m133 0h2m66 0h2m66 0h2m-209 3h2m269 0h2m-479 2h2m66 0h2m66 0h2m133 0h2m66 0h2m66 0h2m133 0h2m-344 3h2m269 0h2m-479 2h2m66 0h2m66 0h2m133 0h2m66 0h2m66 0h2m133 0h2m-73 3h2m-479 2h2m66 0h2m66 0h2m133 0h2m66 0h2m201 0h2m-73 3h2m-479 2h2m66 0h2m66 0h2m133 0h2m66 0h2m66 0h2m133 0h2m-343 2h2m269 0h2m-58 1h2m-423 1h2m66 0h2m66 0h2m133 0h2m66 0h2m81 0h2m118 0h2m-121 2h2m-225 1h2m222 0h2m45 0h2m-48 1h2m-365 1h2m66 0h2m133 0h2m66 0h2m91 0h2m108 0h2m66 0h2m-179 1h2m-1 1h2m-1 1h2m34 0h2m-37 1h2m-376 1h2m66 0h2m133 0h2m66 0h2m66 0h2m34 0h2m97 0h2m66 0h2m-168 1h2m-1 1h3m-248 1h2m244 0h3m22 0h2m-25 1h2m-388 1h2m66 0h2m133 0h2m66 0h2m66 0h2m46 0h2m85 0h2m66 0h2m-156 1h2m-1 1h2m-259 1h2m256 0h2m-397 1h2m66 0h2m133 0h2m134 0h2m55 0h3m75 0h2m-79 1h3m-1 1h2m-269 1h2m266 0h2m1 0h2m-4 1h2m-409 1h2m66 0h2m133 0h2m66 0h2m134 0h3m64 0h2m66 0h2m-135 1h2m-1 1h2m-280 1h2m269 0h2m6 0h2m-1 1h2m-420 1h2m66 0h2m133 0h2m66 0h2m66 0h2m78 0h2m53 0h2m-56 1h2m-1 1h2m-291 1h2m269 0h2m17 0h2m-1 1h2m-431 1h2m66 0h2m133 0h2m66 0h2m66 0h2m89 0h2m42 0h2m66 0h2m-113 2h2m-301 1h2m269 0h2m-410 1h2m66 0h2m201 0h2m66 0h2m96 0h2m35 0h2m66 0h2m-106 2h2m-309 2h2m269 0h2m35 0h2m-447 1h2m66 0h2m133 0h2m66 0h2m173 1h2m-1 2h2m-318 1h2m269 0h2m44 0h2m-456 1h2m66 0h2m133 0h2m66 0h2m66 0h2m133 0h2m66 0h2m-89 1h2m-1 1h2m-326 1h2m269 0h2m52 1h2m-465 1h2m66 0h2m133 0h2m66 0h2m66 0h2m123 0h2m76 0h2m-79 2h2m-335 1h2m269 0h2m61 0h2m-405 1h2m133 0h2m66 0h2m66 0h2m201 0h2m-72 1h2m-2 1h3m-344 2h2m269 0h2m70 0h2m-414 1h2m133 0h2m66 0h2m66 0h2m133 0h2m5 0h2m127 0h2m-130 2h2m-1 1h2m-354 1h2m269 0h2m-342 1h2m133 0h2m66 0h2m217 0h2m50 0h2m-53 1h2m-1 1h2m-363 2h2m269 0h2m89 0h2m-433 1h2m133 0h2m66 0h2m66 0h2m133 0h2m66 0h2m66 0h2m-112 1h2m-370 2h2m269 0h2m96 0h2m-441 2h2m133 0h2m66 0h2m201 0h2m32 0h2m32 0h2m66 0h2m-103 2h2m-379 1h2m269 0h2m-342 1h2m133 0h2m66 0h2m66 0h2m133 0h2m39 0h2m93 0h2m-96 2h2m-387 2h2m269 0h2m113 0h2m-457 1h2m133 0h2m134 0h2m133 0h2m48 0h2m16 0h2m66 0h2m-87 2h2m-396 2h2m269 0h2m122 0h2m-466 1h2m133 0h2m66 0h2m66 0h2m133 0h2m57 0h2m7 0h2m66 0h2m-78 2h2m-405 2h2m269 0h2m131 0h2m-475 1h2m133 0h2m66 0h2m66 0h2m133 0h2m134 0h2m-71 1h2m-3 1h2m-479 2h2m66 0h2m65 0h2m66 0h2m66 0h2m66 0h2m65 0h2m66 0h2m66 0h2m-67 1h2m-416 3h2m269 0h2m-342 1h2m133 0h2m66 0h2m66 0h2m133 0h2m66 0h2m6 0h2m58 0h2m-63 3h2m-420 1h2m269 0h2m-342 1h2m133 0h2m134 0h2m133 0h2m66 0h2m66 0h2m-58 2h2m-425 2h2m269 0h2m269 0h2m-478 1h2m66 0h2m66 0h2m201 0h2m15 0h2m49 0h2m-54 3h2m-429 1h2m65 0h2m66 0h2m66 0h2m66 0h2m65 0h2m66 0h2m66 0h2m-50 1h2m-3 3h2m-433 1h2m65 0h2m66 0h2m66 0h2m66 0h2m65 0h2m66 0h2m66 0h2m66 0h2m-114 1h2m-3 2h2m-436 1h2m269 0h2m269 0h2m-478 1h2m66 0h2m66 0h2m133 0h2m66 0h2m66 0h2m-42 1h2m-441 3h2m269 0h2m269 0h2m-478 1h2m66 0h2m66 0h2m133 0h2m66 0h2m30 0h2m34 0h2m-39 2h2m-444 2h2m65 0h2m66 0h2m66 0h2m133 0h2m101 0h2m31 0h2m66 0h2m-104 2h2m-3 2h2m-447 1h2m65 0h2m66 0h2m66 0h2m66 0h2m65 0h2m66 0h2m66 0h2m66 0h2m-100 1h2m-3 2h2m-451 2h2m65 0h2m66 0h2m66 0h2m66 0h2m65 0h2m66 0h2m42 0h2m22 0h2m-24 2h3m0 2h2m-463 1h2m65 0h2m66 0h2m66 0h2m66 0h2m65 0h2m66 0h2m66 0h2m66 0h2m-81 1h2m0 2h3m-473 1h2m269 0h2m269 0h2m-478 1h2m66 0h2m66 0h2m133 0h2m66 0h2m67 1h2m-482 3h2m65 0h2m66 0h2m66 0h2m66 0h2m65 0h2m66 0h2m134 0h2m-550 5h2m65 0h2m66 0h2m66 0h2m66 0h2m65 0h2m66 0h2m66 0h2m66 0h2m-537 8h5m3 0h3m64 0h4m57 0h5m2 0h4m57 0h4m3 0h4m64 0h3m57 0h3m67 0h4m58 0h3m4 0h3m57 0h5m2 0h4m32 0h5m7 0h4m-527 1h2m131 0h2m67 0h2m128 0h3m-405 1h3m0 1h2m133 0h3m399 0h3m-552 1h7m61 0h7m61 0h7m60 0h8m60 0h7m-202 1h8m60 1h2m400 0h2m-539 1h4m4 0h3m64 0h4m57 0h4m3 0h4m56 0h6m2 0h4m64 0h3m57 0h3m67 0h4m57 0h5m3 0h3m57 0h4m3 0h4m44 0h4M87.5 167v1m0 55v1m0 55v1m0 111v1m0 55v1m0 55v1m1-282v1m0 55v1m0 111v1m0 55v1m0 55v1m1-394v1m0 55v1m0 55v1m0 55v1m0 55v1m0 55v1m0 55v1m1-338v1m0 55v1m0 111v1m0 55v1m0 55v1m1-282v1m0 223v1m0 168v1m1-282v1m0 223v1m0 55v1m1-338v1m0 55v1m0 55v1m0 111v1m0 55v1m0 55v1m1-394v1m0 55v1m0 55v1m0 55v1m0 55v1m0 55v1m0 55v1m0 55v1m1-394v1m0 55v1m0 55v1m0 55v1m0 55v1m0 55v1m0 55v1m1-338v1m0 55v1m0 111v1m0 55v1m0 55v1m0 126v1m0 1v1m0 2v1m1-190v1m0 168v1m1-282v1m0 223v1m0 55v1m1-338v1m0 55v1m0 55v1m0 111v1m0 111v1m1-394v1m0 55v1m0 55v1m0 55v1m0 55v1m0 55v1m0 55v1m0 55v1m0 20v3m1-417v1m0 55v1m0 55v1m0 55v1m0 55v1m0 55v1m0 55v1m1-338v1m0 55v1m0 111v1m0 55v1m0 55v1m1-282v1m0 223v1m0 168v1m0 19v6m1-307v1m0 223v1m0 55v1m1-338v1m0 55v1m0 55v1m0 111v1m0 55v1m0 55v1m1-394v1m0 55v1m0 55v1m0 111v1m0 55v1m0 55v1m1-338v1m0 55v1m0 111v1m0 55v1m0 55v1m0 135v6m1-423v1m0 55v1m0 111v1m0 55v1m0 55v1m0 112v1m1-395v1m0 112v1m0 110v1m0 112v1m0 55v1m1-282v1m0 223v1m0 55v1m1-338v1m0 55v1m0 55v1m0 111v1m0 55v1m0 55v1m1-394v1m0 55v1m0 55v1m0 55v1m0 55v1m0 55v1m0 55v1m1-338v1m0 55v1m0 111v1m0 55v1m0 55v1m1-282v1m0 167v1m0 55v1m0 168v1m1-395v1m0 112v1m0 110v1m0 112v1m0 55v1m1-282v1m0 167v1m0 55v1m0 55v1m1-365v2m0 25v1m0 55v1m0 55v1m0 111v1m0 55v1m0 55v1m1-394v1m0 27v2m0 26v1m0 55v1m0 55v1m0 55v1m0 55v1m0 55v1m1-338v1m0 25v2m0 28v1m0 111v1m0 55v1m0 55v1m1-282v1m0 23v3m0 141v1m0 55v1m0 168v1m1-372v2m0 88v1m0 223v1m0 55v1m1-373v2m0 33v1m0 55v1m0 167v1m0 55v1m0 55v1m1-394v1m0 23v2m0 86v1m0 55v1m0 55v1m0 55v1m0 55v1m0 55v1m1-367v3m0 82v1m0 55v1m0 55v1m0 55v1m0 55v1m1-359v1m0 1v6m0 13v1m0 30v2m0 23v1m0 111v1m0 55v1m0 55v1m1-282v1m0 34v2m0 19v1m0 167v1m0 168v1m1-357v2m0 73v1m0 223v1m0 55v1m1-338v1m0 55v1m0 55v1m0 111v1m0 55v1m0 55v1m1-394v1m0 55v1m0 55v1m0 55v1m0 55v1m0 55v1m0 55v1m0 55v1m1-410v2m0 14v1m0 31v1m0 1v8m0 14v1m0 111v1m0 55v1m0 55v1m1-292v1m0 9v1m0 167v1m0 55v1m0 55v1m1-292v1m0 122v1m0 223v1m0 55v1m1-405v1m0 122v1m0 223v1m0 55v1m1-407v3m0 66v1m0 55v1m0 55v1m0 111v1m0 55v1m0 55v1m1-338v1m0 55v1m0 111v1m0 55v1m0 55v1m0 55v1m1-403v3m0 44v1m0 1v7m0 9v1m0 111v1m0 55v1m0 55v1m1-292v2m0 3v1m0 172v1m0 55v1m1-186v1m0 183v1m0 112v1m0 55v1m1-338v1m0 55v1m0 167v1m0 55v1m0 55v1m1-338v1m0 55v1m0 55v1m0 111v1m0 55v1m0 55v1m1-401v6m0 57v1m0 55v1m0 55v1m0 55v1m0 55v1m0 55v1m1-295v2m0 11v1m0 111v1m0 55v1m0 55v1m1-236v7m0 115v1m0 55v1m0 168v1m1-282v1m0 223v1m0 55v1m1-338v1m0 55v1m0 167v1m0 55v1m0 55v1m1-338v1m0 55v1m0 55v1m0 55v1m0 55v1m0 55v1m0 55v1m1-352v6m0 1v5m0 2v1m0 55v1m0 55v1m0 55v1m0 55v1m0 55v1m1-170v1m0 55v1m0 55v1m1-233v1m0 118v1m0 55v1m0 168v1m1-282v1m0 223v1m0 55v1m1-338v1m0 55v1m0 167v1m0 55v1m0 55v1m1-338v1m0 55v1m0 55v1m0 55v1m0 55v1m0 55v1m0 55v1m1-342v1m0 3v1m0 2v1m0 52v1m0 55v1m0 55v1m0 55v1m0 55v1m1-284v1m0 4v1m0 108v1m0 55v1m0 55v1m0 167v1m1-392v2m0 164v1m0 168v1m0 54v1m1-337v1m0 223v1m0 55v1m1-338v1m0 55v1m0 55v1m0 111v1m0 55v1m0 55v1m1-282v1m0 55v1m0 55v1m0 55v1m0 55v1m0 55v1m0 55v1m1-399v1m0 1v1m0 2v1m0 1v8m0 102v1m0 55v1m0 55v1m0 167v1m1-282v1m0 55v1m0 223v1m1-337v1m0 110v1m0 112v1m0 55v1m0 54v1m1-393v1m0 55v1m0 167v1m0 55v1m0 55v1m1-338v1m0 4v2m0 1v2m0 46v1m0 55v1m0 111v1m0 55v1m0 55v1m1-338v1m0 55v1m0 55v1m0 55v1m0 55v1m0 55v1m0 111v1m0 17v1m1-412v1m0 12v1m0 42v1m0 55v1m0 55v1m0 55v1m0 184v2m1-300v1m0 55v1m0 223v1m1-337v1m0 223v1m0 55v1m0 71v1m0 1v3m0 1v2m1-417v1m0 55v1m0 167v1m0 55v1m0 55v1m1-329v2m0 5v1m0 39v1m0 55v1m0 55v1m0 55v1m0 55v1m0 55v1m0 55v1m1-394v1m0 11v1m0 3v1m0 39v1m0 55v1m0 55v1m0 55v1m0 55v1m0 111v1m0 21v2m1-417v1m0 111v1m0 55v1m0 55v1m0 167v1m0 20v2m0 3v1m1-363v1m0 54v1m0 55v1m0 168v1m0 54v1m1-337v1m0 223v1m0 55v1m1-338v1m0 11v2m0 1v7m0 34v1m0 167v1m0 55v1m0 55v1m1-338v1m0 111v1m0 55v1m0 55v1m0 55v1m0 55v1m0 55v1m0 23v6m1-423v1m0 14v1m0 40v1m0 55v1m0 55v1m0 55v1m0 55v1m0 111v1m1-394v1m0 111v1m0 55v1m0 55v1m0 167v1m1-282v1m0 55v1m0 168v1m0 54v1m1-337v1m0 223v1m0 55v1m1-338v1m0 17v2m0 36v1m0 167v1m0 55v1m0 55v1m1-338v1m0 20v7m0 28v1m0 55v1m0 55v1m0 55v1m0 55v1m0 55v1m0 55v1m1-394v1m0 111v1m0 55v1m0 55v1m0 167v1m1-394v1m0 111v1m0 55v1m0 55v1m0 167v1m1-337v1m0 54v1m0 55v1m0 112v1m0 55v1m0 54v1m1-337v1m0 223v1m0 55v1m1-338v1m0 17v4m0 1v7m0 26v1m0 167v1m0 55v1m0 55v1m1-338v1m0 30v1m0 24v1m0 55v1m0 55v1m0 55v1m0 55v1m0 55v1m0 55v1m1-394v1m0 111v1m0 55v1m0 55v1m0 167v1m1-282v1m0 279v1m1-337v1m0 110v1m0 112v1m0 55v1m0 54v1m1-393v1m0 55v1m0 167v1m0 55v1m0 55v1m1-338v1m0 55v1m0 55v1m0 111v1m0 55v1m0 55v1m1-359v1m0 1v6m0 13v1m0 111v1m0 55v1m0 55v1m0 55v1m0 55v1m0 55v1m1-394v1m0 111v1m0 55v1m0 55v1m0 167v1m1-282v1m0 55v1m0 223v1m1-337v1m0 223v1m0 55v1m1-338v1m0 55v1m0 167v1m0 55v1m0 55v1m1-338v1m0 55v1m0 55v1m0 55v1m0 55v1m0 55v1m0 55v1m0 55v1m1-394v1m0 111v1m0 55v1m0 55v1m0 55v1m0 55v1m0 55v1m1-409v1m0 1v6m0 49v2m0 68v1m0 55v1m0 55v1m0 167v1m1-353v2m0 69v1m0 55v1m0 223v1m1-355v2m0 16v1m0 223v1m0 55v1m1-302v3m0 17v1m0 167v1m0 55v1m0 55v1m1-349v6m0 40v2m0 19v1m0 55v1m0 55v1m0 55v1m0 55v1m0 55v1m0 55v1m1-360v2m0 76v1m0 55v1m0 55v1m0 167v1m1-357v2m0 18v1m0 54v1m0 55v1m0 55v1m0 167v1m1-354v3m0 14v1m0 54v1m0 55v1m0 112v1m0 55v1m0 54v1m1-401v1m0 3v2m0 45v2m0 11v1m0 223v1m0 55v1m1-344v3m0 50v2m0 7v1m0 167v1m0 55v1m0 55v1m1-288v2m0 4v1m0 55v1m0 55v1m0 55v1m0 55v1m0 55v1m0 55v1m1-282v1m0 55v1m0 55v1m0 167v1m1-282v1m0 55v1m0 223v1m1-354v1m0 1v1m0 2v10m0 2v1m0 54v1m0 55v1m0 112v1m0 55v1m0 54v1m1-337v1m0 54v1m0 112v1m0 55v1m0 55v1m1-282v1m0 167v1m0 55v1m0 55v1m1-226v1m0 111v1m0 55v1m0 55v1m0 55v1m1-346v2m0 1v5m0 1v1m0 54v1m0 55v1m0 55v1m0 167v1m1-282v1m0 55v1m0 223v1m1-343v1m0 5v1m0 167v1m0 55v1m0 55v1m1-282v1m0 167v1m0 55v1m0 55v1m1-282v1m0 55v1m0 55v1m0 55v1m0 111v1m0 55v1m1-338v1m0 55v1m0 55v1m0 55v1m0 55v1m0 55v1m0 55v1m0 55v1m1-338v1m0 55v1m0 55v1m0 167v1m0 55v1m1-338v1m0 55v1m0 223v1m1-337v1m0 223v1m1-226v1m0 167v1m0 55v1m0 55v1m0 111v1m1-394v1m0 55v1m0 55v1m0 55v1m0 55v1m0 55v1m0 55v1m0 55v1m1-338v1m0 55v1m0 55v1m0 111v1m0 55v1m0 55v1m1-338v1m0 55v1m0 55v1m0 167v1m0 55v1m1-393v1m0 54v1m0 55v1m0 112v1m0 110v1m1-337v1m0 223v1m0 55v1m1-114v1m0 55v1m0 55v1m0 111v1m1-394v1m0 111v1m0 55v1m0 55v1m0 55v1m0 55v1m1-226v1m0 55v1m0 167v1m0 55v1m1-282v1m0 223v1m0 73v2m1-412v1m0 54v1m0 55v1m0 112v1m0 55v1m0 54v1m0 77v3m1-417v1m0 4v13m0 150v1m0 55v1m0 55v1m0 111v1m1-394v1m0 167v1m0 55v1m0 55v1m0 111v1m0 19v6m1-419v1m0 111v1m0 55v1m0 55v1m0 55v1m0 55v1m0 55v1m1-282v1m0 55v1m0 167v1m0 55v1m1-393v1m0 54v1m0 55v1m0 223v1m1-337v1m0 223v1m0 55v1m0 134v1m0 3v2m1-422v1m0 111v1m0 55v1m0 55v1m0 55v1m0 111v1m0 24v3m1-421v1m0 15v2m0 1v3m0 90v1m0 55v1m0 55v1m0 55v1m0 55v1m0 55v1m1-394v1m0 15v1m0 39v1m0 55v1m0 111v1m0 55v1m0 55v1m0 55v1m1-338v1m0 55v1m0 55v1m0 167v1m0 55v1m1-338v1m0 55v1m0 223v1m1-337v1m0 54v1m0 168v1m0 55v1m1-282v1m0 167v1m0 111v1m0 111v1m1-394v1m0 20v1m0 5v1m0 84v1m0 55v1m0 55v1m0 55v1m0 55v1m0 55v1m1-394v1m0 22v1m0 3v1m0 28v1m0 55v1m0 55v1m0 55v1m0 55v1m0 55v1m0 55v1m1-338v1m0 55v1m0 55v1m0 167v1m0 55v1m1-338v1m0 55v1m0 223v1m1-337v1m0 223v1m1-226v1m0 22v2m0 1v7m0 135v1m0 55v1m0 55v1m0 111v1m1-394v1m0 55v1m0 55v1m0 55v1m0 55v1m0 55v1m0 55v1m0 55v1m1-368v1m0 29v1m0 55v1m0 55v1m0 111v1m0 55v1m0 55v1m1-338v1m0 55v1m0 55v1m0 167v1m0 55v1m1-393v1m0 110v1m0 112v1m0 110v1m1-337v1m0 223v1m0 55v1m1-303v1m0 1v6m0 13v1m0 28v1m0 1v7m0 130v1m0 55v1m0 55v1m0 111v1m1-394v1m0 55v1m0 55v1m0 55v1m0 55v1m0 55v1m0 55v1m0 55v1m1-363v1m0 24v1m0 55v1m0 55v1m0 111v1m0 55v1m0 55v1m1-393v1m0 110v1m0 223v1m1-354v6m0 11v1m0 54v1m0 168v1m1-226v1m0 167v1m0 55v1m0 55v1m0 111v1m1-394v1m0 33v2m0 20v1m0 111v1m0 55v1m0 55v1m0 55v1m0 55v1m1-357v7m0 12v1m0 55v1m0 55v1m0 55v1m0 55v1m0 55v1m0 55v1m1-407v1m0 3v2m0 63v1m0 55v1m0 55v1m0 167v1m0 55v1m1-405v3m0 64v1m0 55v1m0 55v1m0 167v1m1-282v1m0 168v1m0 55v1m1-293v6m0 173v1m0 55v1m0 55v1m0 111v1m1-356v1m0 1v6m0 1v5m0 60v1m0 55v1m0 55v1m0 55v1m0 55v1m0 55v1m1-338v1m0 55v1m0 55v1m0 55v1m0 55v1m0 55v1m0 55v1m1-338v1m0 55v1m0 55v1m0 167v1m0 55v1m1-401v1m0 3v2m0 57v1m0 55v1m0 223v1m1-343v3m0 58v1m0 168v1m0 55v1m1-239v1m0 6v1m0 117v1m0 55v1m0 55v1m0 111v1m1-349v2m0 3v1m0 61v1m0 55v1m0 55v1m0 55v1m0 55v1m0 55v1m1-346v3m0 5v1m0 55v1m0 55v1m0 111v1m0 55v1m0 55v1m1-338v1m0 55v1m0 55v1m0 167v1m0 55v1m1-338v1m0 55v1m0 112v1m0 55v1m0 54v1m1-113v1m0 55v1m1-114v1m0 55v1m0 55v1m0 111v1m1-338v1m0 55v1m0 55v1m0 55v1m0 55v1m0 55v1m0 55v1m1-338v1m0 55v1m0 55v1m0 111v1m0 55v1m0 55v1m1-338v1m0 55v1m1-58v1m0 55v1m0 112v1m0 110v1m1-169v1m0 55v1m0 55v1m0 111v1m1-226v1m0 55v1m0 55v1m0 111v1m0 55v1m1-394v1m0 111v1m0 55v1m0 55v1m0 55v1m0 55v1m0 55v1m1-394v1m0 55v1m0 55v1m0 111v1m0 55v1m0 55v1m1-338v1m0 55v1m0 223v1m0 55v1m1-338v1m0 168v1m0 223v1m1-282v1m0 55v1m0 55v1m0 111v1m0 55v1m1-394v1m0 55v1m0 111v1m0 55v1m0 55v1m0 55v1m0 55v1m1-394v1m0 55v1m0 55v1m0 55v1m0 55v1m0 55v1m0 55v1m0 55v1m1-394v1m0 55v1m0 55v1m0 111v1m0 55v1m0 55v1m1-338v1m0 55v1m0 223v1m0 127v1m1-410v1m0 168v1m0 223v1m0 19v1m1-302v1m0 55v1m0 167v1m0 55v1m0 19v1m1-358v1m0 55v1m0 55v1m0 111v1m0 55v1m0 55v1m0 19v1m1-414v1m0 55v1m0 55v1m0 167v1m0 55v1m0 73v3m1-414v1m0 55v1m0 55v1m0 167v1m0 55v1m1-338v1m0 55v1m0 112v1m0 55v1m0 54v1m0 112v1m1-395v1m0 168v1m0 55v1m0 167v1m0 19v6m1-307v1m0 55v1m0 55v1m0 111v1m0 55v1m1-338v1m0 55v1m0 55v1m0 111v1m0 55v1m0 55v1m1-394v1m0 55v1m0 55v1m0 111v1m0 55v1m0 55v1m1-338v1m0 55v1m0 223v1m0 135v1m0 3v2m1-423v1m0 55v1m0 112v1m0 110v1m0 112v1m0 24v3m1-422v1m0 112v1m0 55v1m0 55v1m0 54v1m0 56v1m0 55v1m1-282v1m0 55v1m0 55v1m0 111v1m0 55v1m1-338v1m0 55v1m0 55v1m0 55v1m0 55v1m0 55v1m0 55v1m1-394v1m0 55v1m0 55v1m0 111v1m0 111v1m1-338v1m0 55v1m0 223v1m1-282v1m0 168v1m0 223v1m1-282v1m0 55v1m0 55v1m0 111v1m0 55v1m1-338v1m0 55v1m0 55v1m0 55v1m0 55v1m0 55v1m0 55v1m1-394v1m0 55v1m0 111v1m0 55v1m0 55v1m0 55v1m0 55v1m1-394v1m0 55v1m0 55v1m0 111v1m0 55v1m0 55v1m1-338v1m0 279v1m0 55v1m1-338v1m0 168v1m0 223v1m1-282v1m0 55v1m0 55v1m0 111v1m0 55v1m1-338v1m0 55v1m0 55v1m0 55v1m0 55v1m0 55v1m0 55v1m1-394v1m0 55v1m0 55v1m0 55v1m0 55v1m0 55v1m0 55v1m0 55v1m1-394v1m0 55v1m0 55v1m0 111v1m0 55v1m0 55v1m1-338v1m0 55v1m0 223v1m1-282v1m0 168v1m0 223v1m1-282v1m0 55v1m0 55v1m0 111v1m0 55v1m1-338v1m0 55v1m0 55v1m0 55v1m0 55v1m0 55v1m0 55v1m1-394v1m0 55v1m0 55v1m0 111v1m0 55v1m0 55v1m1-354v3m0 2v1m0 66v1m0 167v1m0 55v1m1-282v1m0 55v1m0 112v1m0 110v1m0 112v1m1-282v1m0 55v1m0 55v1m0 111v1m0 55v1m1-282v1m0 55v1m0 55v1m0 111v1m0 55v1m1-407v3m0 1v2m0 119v1m0 55v1m0 55v1m0 55v1m0 55v1m0 55v1m1-338v1m0 55v1m0 111v1m0 55v1m0 55v1m1-282v1m0 223v1m1-292v6m0 173v1m0 223v1m1-282v1m0 55v1m0 55v1m0 111v1m0 55v1m1-338v1m0 55v1m0 55v1m0 55v1m0 111v1m0 55v1m1-338v1m0 55v1m0 55v1m0 55v1m0 55v1m0 55v1m0 55v1m1-401v1m0 3v2m0 57v1m0 55v1m0 111v1m0 55v1m0 55v1m1-343v3m0 58v1m0 223v1m1-113v1m0 223v1m1-282v1m0 55v1m0 55v1m0 111v1m0 55v1m1-338v1m0 55v1m0 55v1m0 55v1m0 55v1m0 55v1m0 55v1m1-338v1m0 55v1m0 55v1m0 55v1m0 55v1m0 55v1m0 55v1m1-338v1m0 167v1m0 55v1m0 55v1m1-282v1m0 223v1m1-113v1m0 223v1m1-226v1m0 55v1m0 111v1m0 55v1m1-338v1m0 55v1m0 55v1m0 55v1m0 55v1m0 55v1m0 55v1m1-338v1m0 55v1m0 111v1m0 55v1m0 55v1m1-282v1m0 55v1m0 111v1m0 55v1m0 55v1m1-282v1m0 112v1m0 110v1m0 112v1m1-226v1m0 223v1m0 55v1m1-394v1m0 55v1m0 55v1m0 55v1m0 111v1m0 55v1m0 55v1m1-394v1m0 55v1m0 55v1m0 55v1m0 55v1m0 55v1m0 55v1m1-338v1m0 55v1m0 111v1m0 55v1m0 55v1m1-282v1m0 223v1m0 168v1m1-282v1m0 223v1m0 55v1m1-338v1m0 111v1m0 111v1m0 55v1m0 55v1m1-394v1m0 55v1m0 55v1m0 55v1m0 55v1m0 55v1m0 55v1m0 55v1m1-394v1m0 111v1m0 55v1m0 55v1m0 55v1m0 55v1m1-338v1m0 55v1m0 111v1m0 55v1m0 55v1m1-282v1m0 223v1m0 168v1m1-282v1m0 223v1m0 55v1m0 14v1m0 1v6m1-360v1m0 55v1m0 55v1m0 111v1m0 55v1m0 55v1m1-394v1m0 55v1m0 55v1m0 55v1m0 55v1m0 55v1m0 55v1m0 55v1m1-394v1m0 55v1m0 55v1m0 55v1m0 55v1m0 55v1m0 55v1m1-338v1m0 55v1m0 111v1m0 55v1m0 55v1m1-282v1m0 223v1m0 168v1m0 19v6m1-83v1m0 55v1m1-338v1m0 55v1m0 55v1m0 111v1m0 111v1m1-394v1m0 55v1m0 55v1m0 55v1m0 55v1m0 55v1m0 55v1m1-338v1m0 55v1m0 111v1m0 55v1m0 55v1m0 135v6m1-423v1m0 55v1m0 111v1m0 55v1m0 55v1m0 112v1m1-395v1m0 112v1m0 110v1m0 112v1m0 55v1m1-58v1m0 55v1m1-394v1m0 55v1m0 55v1m0 55v1m0 111v1m0 55v1m0 55v1m1-394v1m0 55v1m0 55v1m0 111v1m0 55v1m0 55v1m1-338v1m0 55v1m0 111v1m0 55v1m0 55v1m1-282v1m0 167v1m0 55v1m0 168v1m1-395v1m0 112v1m0 110v1m0 112v1m0 55v1m1-338v1m0 55v1m0 167v1m0 55v1m0 55v1m1-338v1m0 55v1m0 55v1m0 111v1m0 55v1m0 55v1m1-394v1m0 55v1m0 55v1m0 55v1m0 55v1m0 55v1m0 55v1m1-338v1m0 55v1m0 111v1m0 55v1m0 55v1m1-282v1m0 167v1m0 55v1m0 168v1m1-282v1m0 223v1m0 55v1m1-338v1m0 55v1m0 111v1m0 55v1m0 55v1m0 55v1m1-394v1m0 55v1m0 55v1m0 55v1m0 55v1m0 55v1m0 55v1m0 55v1m1-394v1m0 55v1m0 55v1m0 55v1m0 55v1m0 55v1m0 55v1m1-338v1m0 55v1m0 111v1m0 55v1m0 55v1m0 112v1m1-395v1m0 223v1m0 168v1m1-282v1m0 223v1m0 55v1m1-338v1m0 55v1m0 55v1m0 111v1m0 55v1m0 55v1m1-394v1m0 55v1m0 55v1m0 55v1m0 55v1m0 55v1m0 55v1m0 55v1m1-406v1m0 11v1m0 55v1m0 111v1m0 55v1m0 55v1m0 55v1m1-353v2m0 1v1m0 67v1m0 111v1m0 55v1m0 55v1m1-169v1m0 223v1m0 55v1m1-282v1m0 167v1m0 55v1m0 55v1m1-338v1m0 55v1m0 55v1m0 111v1m0 55v1m0 55v1m1-406v1m0 2v3m0 62v1m0 55v1m0 55v1m0 55v1m0 55v1m0 55v1m0 55v1m1-338v1m0 111v1m0 55v1m0 55v1m1-292v6m0 172v1m0 55v1m1-113v1m0 110v1m0 112v1m0 55v1m1-282v1m0 167v1m0 55v1m0 55v1m1-338v1m0 55v1m0 55v1m0 111v1m0 55v1m0 55v1m1-401v1m0 3v2m0 57v1m0 55v1m0 111v1m0 55v1m0 55v1m1-343v3m0 58v1m0 111v1m0 55v1m0 55v1m1-114v1m0 55v1m0 112v1m0 55v1m1-282v1m0 223v1m0 55v1m1-338v1m0 55v1m0 167v1m0 55v1m0 55v1m1-338v1m0 55v1m0 55v1m0 167v1m0 55v1m1-338v1m0 55v1m0 15v13m0 27v1m0 55v1m0 55v1m0 55v1m1-282v1m0 61v10m0 15v2m0 23v1m0 55v1m0 55v1m1-171v1m0 1v5m0 29v2m0 19v1m0 55v1m0 168v1m1-295v11m0 40v2m0 184v1m0 55v1m1-338v1m0 33v9m0 13v1m0 41v2m0 124v1m0 55v1m0 55v1m1-338v1m0 32v1m0 22v1m0 45v2m0 8v1m0 55v1m0 55v1m0 55v1m0 55v1m1-338v1m0 31v1m0 23v1m0 49v2m0 4v1m0 55v1m0 55v1m0 55v1m1-282v1m0 109v1m0 57v1m0 55v1m0 167v1m1-363v1m0 82v2m0 52v1m0 168v1m0 54v1m1-364v1m0 26v1m0 60v2m0 161v1m0 55v1m1-338v1m0 27v1m0 27v1m0 55v1m0 8v1m0 158v1m0 55v1m1-338v1m0 26v1m0 28v1m0 55v1m0 11v1m0 43v1m0 55v1m0 55v1m0 55v1m0 55v1m1-394v1m0 25v1m0 85v1m0 14v2m0 39v1m0 55v1m0 167v1m1-369v1m0 86v1m0 18v1m0 36v1m0 223v1m1-370v1m0 32v1m0 76v1m0 33v1m0 112v1m0 55v1m0 54v1m1-393v1m0 21v1m0 33v1m0 79v1m0 87v1m0 55v1m0 55v1m1-338v1m0 19v2m0 34v1m0 55v1m0 26v1m0 84v1m0 55v1m0 55v1m0 69v6m1-413v1m0 18v1m0 36v1m0 55v1m0 55v1m0 55v1m0 55v1m0 55v1m1-338v1m0 17v1m0 93v1m0 31v1m0 79v1m1-209v1m0 94v1m0 55v1m0 223v1m1-378v1m0 40v1m0 91v1m0 131v1m0 55v1m0 72v6m1-416v1m0 12v2m0 41v1m0 167v1m0 55v1m0 55v1m1-338v1m0 11v1m0 43v1m0 55v1m0 40v1m0 14v1m0 55v1m0 111v1m0 55v1m1-394v1m0 10v1m0 44v1m0 55v1m0 55v1m0 55v1m0 55v1m0 111v1m1-394v1m0 9v1m0 101v1m0 45v1m0 9v1m0 55v1m0 55v1m0 111v1m1-385v1m0 102v1m0 48v1m0 175v1m0 54v1m1-387v2m0 48v1m0 106v1m0 172v1m1-338v1m0 4v1m0 50v1m0 167v1m0 111v1m1-338v1m0 3v1m0 51v1m0 55v1m0 55v1m0 55v1m0 55v1m0 55v1m0 55v1m1-391v1m0 52v1m0 55v1m0 58v1m0 52v1m0 55v1m1-280v1m0 109v1m0 55v1m0 55v1m1-114v1m0 55v1m0 223v1m1-337v1m0 54v1m0 65v1m0 102v1m0 55v1m1-340v1m0 57v1m0 167v1m0 55v1m0 55v1m1-341v1m0 58v1m0 111v1m0 111v1m0 111v1m1-398v1m0 3v1m0 167v1m0 55v1m0 167v1m1-399v1m0 4v1m0 167v1m0 17v1m0 37v1m0 167v1m1-400v1m0 62v1m0 54v1m0 55v1m0 19v1m0 92v1m0 110v1m1-401v1m0 63v1m0 132v1m0 90v1m0 55v1m1-347v1m0 8v1m0 55v1m0 134v1m0 32v1m0 55v1m0 55v1m1-348v1m0 9v1m0 55v1m0 55v1m0 55v1m0 24v1m0 30v1m0 55v1m0 55v1m1-338v1m0 111v1m0 82v1m0 28v1m0 167v1m1-282v1m0 55v1m0 28v1m0 194v1m1-337v1m0 110v1m0 30v1m0 81v1m0 55v1m0 54v1m1-393v1m0 55v1m0 143v1m0 23v1m0 55v1m0 55v1m1-338v1m0 55v1m0 55v1m0 89v1m0 21v1m0 55v1m0 55v1m1-338v1m0 55v1m0 55v1m0 55v1m0 35v1m0 19v1m0 55v1m0 55v1m1-338v1m0 111v1m0 55v1m0 37v1m0 17v1m0 167v1m1-282v1m0 55v1m0 112v1m0 110v1m1-337v1m0 223v1m0 55v1m1-338v1m0 55v1m0 167v1m0 55v1m0 55v1m1-338v1m0 55v1m0 55v1m0 55v1m0 55v1m0 55v1m0 55v1m0 55v1m1-403v1m0 8v1m0 55v1m0 55v1m0 55v1m0 55v1m0 55v1m0 55v1m0 55v1m1-404v2m0 176v1m0 55v1m0 167v1m1-405v2m0 121v1m0 55v1m0 223v1m1-406v2m0 67v1m0 223v1m0 55v1m1-282v1m0 55v1m0 167v1m0 55v1m1-282v1m0 55v1m0 55v1m0 55v1m0 55v1m0 55v1m0 55v1m1-404v6m0 116v1m0 55v1m0 223v1m1-282v1m0 55v1m0 55v1m0 167v1m1-337v1m0 54v1m0 55v1m0 112v1m0 110v1m1-337v1m0 223v1m0 55v1m1-345v1m0 3v2m0 57v1m0 167v1m0 9v1m0 45v1m0 55v1m1-343v3m0 58v1m0 55v1m0 55v1m0 55v1m0 11v1m0 43v1m0 55v1m0 55v1m1-282v1m0 111v1m0 13v1m0 153v1m1-282v1m0 111v1m0 15v1m0 151v1m1-337v1m0 54v1m0 168v1m0 55v1m0 54v1m1-337v1m0 223v1m0 55v1m1-282v1m0 111v1m0 111v1m0 55v1m1-282v1m0 55v1m0 55v1m0 55v1m0 55v1m0 55v1m1-226v1m0 55v1m0 55v1m0 25v1m0 29v1m0 111v1m1-282v1m0 55v1m0 83v1m0 139v1m1-337v1m0 196v1m0 26v1m0 55v1m0 54v1m1-337v1m0 167v1m0 30v1m0 24v1m0 55v1m1-282v1m0 55v1m0 55v1m0 55v1m0 32v1m0 22v1m0 55v1m0 55v1m1-338v1m0 55v1m0 55v1m0 55v1m0 34v1m0 20v1m0 55v1m0 55v1m0 55v1m1-394v1m0 111v1m0 55v1m0 36v1m0 130v1m0 55v1m1-338v1m0 55v1m0 95v1m0 16v1m0 110v1m1-128v1m0 14v1m0 55v1m1-114v1m0 42v1m0 12v1m0 55v1m0 111v1m1-338v1m0 55v1m0 55v1m0 55v1m0 55v1m0 55v1m0 55v1m1-338v1m0 55v1m0 55v1m0 167v1m0 55v1m1-393v1m0 54v1m0 55v1m0 55v1m0 167v1m0 55v1m0 11v1m0 1v6m1-412v1m0 54v1m0 55v1m0 107v1m0 4v1m0 110v1m1-113v1m0 55v1m1-282v1m0 167v1m0 223v1m1-394v1m0 55v1m0 55v1m0 55v1m0 55v1m0 55v1m0 55v1m0 73v3m1-358v1m0 55v1m0 55v1m0 55v1m0 3v1m0 107v1m0 55v1m0 16v2m0 3v1m1-360v1m0 55v1m0 117v1m0 105v1m1-337v1m0 54v1m0 175v1m0 48v1m0 54v1m1-337v1m0 167v1m0 55v1m0 8v1m0 46v1m0 111v1m1-394v1m0 167v1m0 55v1m0 55v1m0 111v1m0 19v6m1-419v1m0 55v1m0 55v1m0 55v1m0 55v1m0 13v1m0 41v1m0 55v1m0 55v1m1-338v1m0 55v1m0 55v1m0 167v1m0 55v1m1-282v1m0 223v1m1-337v1m0 54v1m0 224v1m1-282v1m0 167v1m0 55v1m0 55v1m0 111v1m1-394v1m0 111v1m0 55v1m0 55v1m0 55v1m0 55v1m0 55v1m1-394v1m0 55v1m0 55v1m0 55v1m0 55v1m0 55v1m0 55v1m0 55v1m1-338v1m0 55v1m0 55v1m0 167v1m0 55v1m1-338v1m0 55v1m0 223v1m1-337v1m0 54v1m0 168v1m0 55v1m1-282v1m0 167v1m0 55v1m0 167v1m1-282v1m0 111v1m0 55v1m0 55v1m0 55v1m1-394v1m0 55v1m0 55v1m0 55v1m0 55v1m0 55v1m0 55v1m0 55v1m1-338v1m0 55v1m0 55v1m0 167v1m0 55v1m1-338v1m0 55v1m0 223v1m1-337v1m0 223v1m0 55v1m1-282v1m0 167v1m0 55v1m0 55v1m0 111v1m1-394v1m0 55v1m0 55v1m0 55v1m0 55v1m0 111v1m0 55v1m1-338v1m0 111v1m0 167v1m0 55v1m1-338v1m0 55v1m0 55v1m0 167v1m1-337v1m0 54v1m0 55v1m0 112v1m0 110v1m0 55v1m1-393v1m0 223v1m0 55v1m1-282v1m0 167v1m0 55v1m0 55v1m0 111v1m1-394v1m0 55v1m0 55v1m0 55v1m0 55v1m0 111v1m0 55v1m1-282v1m0 55v1m0 167v1m0 55v1m1-338v1m0 55v1m0 223v1m1-337v1m0 54v1m0 168v1m1-242v2m0 1v3m0 10v1m0 167v1m0 55v1m0 55v1m0 111v1m1-394v1m0 111v1m0 55v1m0 55v1m0 55v1m0 55v1m0 55v1m1-338v1m0 55v1m0 55v1m0 55v1m0 55v1m0 55v1m0 55v1m1-338v1m0 55v1m0 55v1m0 167v1m1-350v1m0 2v3m0 62v1m0 55v1m0 168v1m0 54v1m1-282v1m0 168v1m0 55v1m1-293v6m0 173v1m0 55v1m0 55v1m0 111v1m1-282v1m0 55v1m0 55v1m0 55v1m0 55v1m0 55v1m1-338v1m0 55v1m0 55v1m0 55v1m0 55v1m0 20v1m0 34v1m0 55v1m1-338v1m0 55v1m0 55v1m0 135v1m0 31v1m0 55v1m1-401v1m0 3v2m0 57v1m0 55v1m0 194v1m0 28v1m1-343v3m0 58v1m0 168v1m0 55v1m0 28v1m0 25v1m1-225v1m0 55v1m0 55v1m0 55v1m0 31v1m0 79v1m1-282v1m0 55v1m0 55v1m0 55v1m0 34v1m0 20v1m0 55v1m1-338v1m0 55v1m0 55v1m0 111v1m0 55v1m0 55v1m1-338v1m0 55v1m0 55v1m0 151v1m0 15v1m0 55v1m1-338v1m0 55v1m0 112v1m0 110v1m1-113v1m0 55v1m0 43v1m1-158v1m0 55v1m0 55v1m0 111v1m1-338v1m0 55v1m0 55v1m0 55v1m0 55v1m0 48v1m0 6v1m0 55v1m1-338v1m0 55v1m0 55v1m0 111v1m0 55v1m1-282v1m0 55v1m0 221v1m1-280v1m0 55v1m0 112v1m1-58v1m0 55v1m0 113v1m0 53v1m1-282v1m0 55v1m0 55v1m0 55v1m0 55v1m0 55v1m0 33v1m0 21v1m1-394v1m0 55v1m0 55v1m0 55v1m0 55v1m0 55v1m0 6v1m0 48v1m0 55v1m1-394v1m0 55v1m0 55v1m0 111v1m0 55v1m0 93v1m1-376v1m0 55v1m0 223v1m0 11v1m1-294v1m0 168v1m0 110v1m0 112v1m1-282v1m0 55v1m0 55v1m0 111v1m0 55v1m0 10v2m1-350v1m0 55v1m0 55v1m0 55v1m0 55v1m0 17v1m0 37v1m0 55v1m0 16v1m1-411v1m0 55v1m0 55v1m0 55v1m0 55v1m0 55v1m0 20v1m0 34v1m0 55v1m0 16v1m1-411v1m0 55v1m0 55v1m0 167v1m0 23v1m0 31v1m0 24v2m0 46v1m1-411v1m0 55v1m0 223v1m0 26v1m0 51v2m0 25v1m0 20v3m1-411v1m0 168v1m0 55v1m0 84v1m0 47v1m1-191v1m0 55v1m0 87v1m0 23v1m0 19v1m1-358v1m0 55v1m0 111v1m0 111v1m0 34v1m0 20v1m0 17v2m0 53v6m1-416v1m0 55v1m0 55v1m0 111v1m0 55v1m0 37v1m0 17v1m0 16v1m1-355v1m0 55v1m0 55v1m0 167v1m0 55v1m0 14v2m0 40v1m1-395v1m0 55v1m0 112v1m0 110v1m0 42v1m0 25v2m0 42v1m0 2v1m1-398v1m0 168v1m0 55v1m0 54v1m0 45v1m0 19v3m0 44v1m0 4v1m0 14v6m1-307v1m0 55v1m0 55v1m0 111v1m0 6v2m0 47v1m1-338v1m0 55v1m0 111v1m0 55v1m0 49v1m0 9v3m0 49v1m1-394v1m0 55v1m0 55v1m0 111v1m0 55v1m0 52v1m0 4v2m1-341v1m0 55v1m0 223v1m0 55v1m1-338v1m0 55v1m0 112v1m0 110v1m0 112v1m1-395v1m0 112v1m0 55v1m0 55v1m0 111v1m0 55v1m1-226v1m0 55v1m0 111v1m0 55v1m1-338v1m0 55v1m0 55v1m0 55v1m0 55v1m0 55v1m0 55v1m1-394v1m0 55v1m0 55v1m0 111v1m0 55v1m0 55v1m1-338v1m0 279v1m1-282v1m0 168v1m0 223v1m1-282v1m0 55v1m0 55v1m0 111v1m0 55v1m1-338v1m0 55v1m0 55v1m0 55v1m0 111v1m0 55v1m1-338v1m0 55v1m0 55v1m0 55v1m0 55v1m0 55v1m0 55v1m1-394v1m0 55v1m0 55v1m0 111v1m0 55v1m0 55v1m1-338v1m0 55v1m0 223v1m1-282v1m0 168v1m0 223v1m1-282v1m0 55v1m0 167v1m0 55v1m1-338v1m0 55v1m0 55v1m0 55v1m0 111v1m0 55v1m1-394v1m0 55v1m0 55v1m0 55v1m0 167v1m0 55v1m1-394v1m0 111v1m0 111v1m0 55v1m0 55v1m1-338v1m0 55v1m0 223v1m1-282v1m0 336v1m1-226v1m0 55v1m0 55v1m0 111v1m0 55v1m1-338v1m0 55v1m0 55v1m0 55v1m0 55v1m0 55v1m0 55v1m1-394v1m0 55v1m0 55v1m0 111v1m0 55v1m0 55v1m1-354v1m0 1v1m0 13v1m0 55v1m0 223v1m1-226v1m0 112v1m0 110v1m0 112v1m1-282v1m0 55v1m0 55v1m0 167v1m1-338v1m0 111v1m0 55v1m0 111v1m0 55v1m1-404v3m0 63v1m0 55v1m0 55v1m0 55v1m0 55v1m0 55v1m0 55v1m1-338v1m0 55v1m0 111v1m0 55v1m0 55v1m1-347v3m0 62v1m0 223v1m1-292v2m0 3v1m0 173v1m0 223v1m1-282v1m0 55v1m0 55v1m0 111v1m0 55v1m1-338v1m0 55v1m0 55v1m0 55v1m0 55v1m0 55v1m0 55v1m1-338v1m0 55v1m0 55v1m0 55v1m0 55v1m0 55v1m1-345v6m0 57v1m0 55v1m0 111v1m0 55v1m0 55v1m1-282v1m0 167v1m0 55v1m1-113v1m0 223v1m1-282v1m0 55v1m0 55v1m0 111v1m0 55v1m1-338v1m0 55v1m0 55v1m0 55v1m0 55v1m0 55v1m0 55v1m1-338v1m0 55v1m0 55v1m0 55v1m0 55v1m0 55v1m0 55v1m1-338v1m0 55v1m0 111v1m0 55v1m0 55v1m1-282v1m0 55v1m0 167v1m1-113v1m0 167v1m1-226v1m0 55v1m0 55v1m0 111v1m0 55v1m1-282v1m0 55v1m0 55v1m0 55v1m0 55v1m0 55v1m1-338v1m0 55v1m0 111v1m0 55v1m0 55v1m1-282v1m0 55v1m0 111v1m0 55v1m0 55v1m1-282v1m0 112v1m0 223v1m1-226v1m0 223v1m0 55v1m1-338v1m0 55v1m0 55v1m0 111v1m0 55v1m1-338v1m0 55v1m0 55v1m0 55v1m0 55v1m0 55v1m0 55v1m1-338v1m0 55v1m0 111v1m0 55v1m0 55v1m1-58v1m0 168v1m1-282v1m0 279v1m1-394v1m0 55v1m0 55v1m0 55v1m0 111v1m0 111v1m1-394v1m0 111v1m0 55v1m0 55v1m0 111v1m0 55v1m1-394v1m0 111v1m0 55v1m0 55v1m0 55v1m0 55v1m0 69v2m1-409v1m0 223v1m0 55v1m0 129v3m1-414v1m0 223v1m0 168v1m1-282v1m0 279v1m0 17v3m1-358v1m0 111v1m0 111v1m0 55v1m0 55v1m0 16v2m0 3v1m1-416v1m0 55v1m0 55v1m0 55v1m0 55v1m0 55v1m0 55v1m0 55v1m1-282v1m0 55v1m0 111v1m0 55v1m1-338v1m0 55v1m0 111v1m0 55v1m0 55v1m1-282v1m0 223v1m0 55v1m0 112v1m0 19v6m1-307v1m0 223v1m0 55v1m1-338v1m0 55v1m0 55v1m0 223v1m1-394v1m0 55v1m0 55v1m0 55v1m0 55v1m0 111v1m1-338v1m0 55v1m0 111v1m0 55v1m0 55v1m1-282v1m0 55v1m0 111v1m0 55v1m0 168v1m1-395v1m0 112v1m0 110v1m0 112v1m0 55v1m1-282v1m0 223v1m1-282v1m0 55v1m0 55v1m0 111v1m0 55v1m0 55v1m1-394v1m0 55v1m0 55v1m0 55v1m0 55v1m0 55v1m0 55v1m0 55v1m1-394v1m0 55v1m0 55v1m0 55v1m0 55v1m0 55v1m1-282v1m0 167v1m0 55v1m1-226v1m0 223v1m0 112v1m0 55v1m1-338v1m0 223v1m0 55v1m0 55v1m1-338v1m0 55v1m0 55v1m0 55v1m0 55v1m0 55v1m0 55v1m1-394v1m0 167v1m0 55v1m0 55v1m0 55v1m1-338v1m0 55v1m0 111v1m0 55v1m0 55v1m1-282v1m0 167v1m0 55v1m0 55v1m0 112v1m1-282v1m0 223v1m1-282v1m0 111v1m0 111v1m0 55v1m0 55v1m1-394v1m0 55v1m0 55v1m0 55v1m0 55v1m0 55v1m0 55v1m0 55v1m1-394v1m0 55v1m0 55v1m0 55v1m0 55v1m0 55v1m0 55v1m1-338v1m0 55v1m0 111v1m0 55v1m0 55v1m1-282v1m0 223v1m0 168v1m1-282v1m0 223v1m0 55v1m1-338v1m0 55v1m0 55v1m0 111v1m0 55v1m0 55v1m1-394v1m0 55v1m0 55v1m0 55v1m0 55v1m0 55v1m0 55v1m0 55v1m1-407v1m0 12v1m0 55v1m0 111v1m0 55v1m0 55v1m1-296v2m0 12v1m0 55v1m0 111v1m0 55v1m0 55v1m1-169v1m0 110v1m0 112v1m0 55v1m1-409v1m0 1v3m0 1v2m0 119v1m0 279v1m1-338v1m0 55v1m0 55v1m0 167v1m0 55v1m1-338v1m0 55v1m0 55v1m0 111v1m0 55v1m0 55v1m1-405v6m0 117v1m0 111v1m0 55v1m1-114v1m0 55v1m0 216v7m1-225v1m0 112v1m0 55v1m1-338v1m0 55v1m0 167v1m0 55v1m0 55v1m1-338v1m0 55v1m0 55v1m0 111v1m0 111v1m1-401v6m0 57v1m0 55v1m0 55v1m0 55v1m0 55v1m0 164v6m1-396v1m0 111v1m0 55v1m0 55v1m0 163v2m0 6v1m1-286v1m0 55v1m0 112v1m0 55v1m0 50v1m0 9v1m1-343v1m0 279v1m1-338v1m0 55v1m0 111v1m0 55v1m0 55v1m0 55v1m0 56v2m1-396v1m0 55v1m0 55v1m0 55v1m0 111v1m0 55v1m0 55v2m0 2v2m1-399v1m0 55v1m0 55v1m0 55v1m0 55v1m0 55v1m1-282v1m0 111v1m0 55v1m0 55v1m0 112v1m1-227v1m0 55v1m0 168v1m1-282v1m0 54v1m0 168v1m0 55v1m0 58v1m0 4v1m1-402v1m0 55v1m0 167v1m0 55v1m0 55v1m0 60v1m0 2v1m1-402v1m0 55v1m0 55v1m0 55v1m0 55v1m0 55v1m0 55v1m1-338v1m0 55v1m0 55v1m0 55v1m0 55v1m0 55v1m0 115v1m0 9v1m1-408v1m0 111v1m0 55v1m0 55v1m0 167v1m0 5v2m0 6v1m1-7v6"/>
<path id="adiabats" stroke="#00ff00" d="M649 76.5h2m-36 1h2m-36 1h2m71 2h2m-106 2h2m69 0h2m36 2h2m-71 2h2m35 1h2m35 1h2m2 3h2m-73 1h2m34 0h2m-108 2h2m34 0h2m72 1h2m-145 2h2m107 0h2m71 0h2m-36 2h2m36 1h2m-147 1h2m34 0h2m36 1h2m35 0h2m36 1h2m-72 3h2m35 0h2m35 0h2m-112 1h2m-37 1h2m110 1h2m35 0h2m-75 1h2m-79 1h2m-34 1h2m72 0h2m73 0h2m-37 2h2m37 1h2m-113 1h2m36 1h2m37 1h2m36 0h2m0 1h2m0 2h2m-77 1h2m36 0h2m36 0h2m-1 1h2m-152 1h2m36 0h2m112 0h2m-77 1h2m36 0h2m-152 2h2m189 0h2m-156 2h2m78 0h2m36 0h2m38 1h2m-154 1h2m76 1h2m36 0h2m2 3h2m37 0h2m-195 1h2m76 0h2m37 0h2m-118 1h2m38 0h2m153 0h2m-196 1h3m153 0h3m-40 1h2m37 0h2m-79 1h2m76 0h2m-1 1h2m-234 1h2m37 0h2m76 0h2m76 0h2m36 0h2m-1 1h3m-79 1h2m39 1h2m-119 1h2m155 0h2m-118 1h2m38 1h2m38 0h2m38 1h2m-78 2h2m38 0h2m-120 1h2m38 0h2m-79 2h2m117 0h2m38 0h2m37 0h2m1 2h2m-160 1h2m38 0h2m38 0h2m38 0h3m-1 1h2m37 0h2m-79 2h2m38 0h2m-164 1h2m42 1h2m38 0h2m40 1h2m38 0h2m38 0h2m-120 2h2m39 0h2m38 0h2m38 0h2m-202 1h2m38 0h2m-82 1h2m161 0h2m38 0h2m-244 1h2m160 0h2m-41 1h2m80 0h2m38 0h2m-163 1h2m79 0h2m81 1h2m-205 1h2m80 0h2m80 0h2m39 0h2m-164 1h2m79 0h2m42 1h2m38 0h2m-247 1h2m121 0h2m39 0h2m41 1h2m39 0h2m-207 1h2m40 0h2m121 0h2m-83 1h2m39 0h2m40 0h2m-41 2h2m40 0h2m39 0h2m-166 1h2m39 0h2m124 1h3m-210 1h2m123 0h2m40 0h2m-84 1h2m123 0h2m-42 1h2m-252 1h2m40 0h2m82 0h2m81 0h2m82 0h2m-125 2h2m124 0h2m-85 1h2m-127 1h2m167 0h2m40 0h2m-169 1h2m40 0h2m41 1h2m41 0h2m40 0h2m-126 2h2m40 0h2m41 0h2m-171 1h2m41 0h2m-86 1h2m168 0h2m41 0h2m-86 1h2m-171 1h2m126 0h2m82 0h3m41 0h2m-172 1h2m84 0h2m85 1h2m-129 1h2m83 0h2m43 1h2m-173 1h2m127 0h2m-86 1h2m41 0h2m84 0h2m-44 1h2m43 1h2m-303 1h2m41 0h2m41 0h2m41 0h2m42 0h2m41 0h2m41 0h2m43 1h2m-222 1h2m176 0h2m-87 1h2m41 0h2m85 0h2m-175 1h2m129 0h2m-44 1h2m85 0h2m-219 1h2m86 0h2m85 0h2m43 1h2m-176 1h2m86 0h2m-176 1h2m130 0h2m41 0h2m86 0h2m-89 1h3m-133 1h2m174 0h2m42 0h2m-177 1h2m43 0h2m129 0h2m-88 1h2m42 0h2m42 0h2m-176 2h2m43 0h2m42 0h2m42 0h2m-222 1h2m42 0h2m133 1h2m42 0h2m-267 1h2m131 0h2m43 0h2m87 0h2m-227 1h2m46 0h2m132 0h2m-45 1h2m87 0h2m-313 1h2m87 0h2m87 0h2m88 0h2m44 1h2m-180 1h2m88 0h2m43 0h2m-91 1h2m133 0h2m-270 1h2m223 0h2m43 0h2m-226 1h2m43 0h2m44 1h2m89 0h2m43 0h2m-91 1h2m-46 1h2m89 0h2m43 0h2m-227 1h2m43 0h2m180 0h2m-92 1h2m44 0h2m43 0h2m-273 1h2m134 0h2m135 0h2m-183 1h2m89 0h2m44 0h2m-273 2h2m89 0h2m89 0h2m90 0h2m-47 1h2m90 0h2m-279 1h2m93 0h2m135 0h3m-93 1h2m44 0h2m90 0h2m-276 1h2m228 0h2m44 0h2m-231 1h2m44 0h2m45 1h2m44 0h2m45 0h2m44 0h2m-184 2h2m44 0h2m44 0h2m45 0h2m-232 1h2m44 0h2m184 0h2m-279 1h2m183 0h2m44 0h2m-93 1h2m91 0h2m45 0h2m-187 1h2m91 0h2m-140 1h2m91 0h2m91 0h2m45 0h2m-327 1h2m86 0h2m237 0h2m-188 1h2m91 0h2m45 0h2m-94 1h2m139 0h2m-235 1h2m138 0h2m45 0h2m-141 1h2m45 0h2m44 0h2m46 0h2m45 0h2m-96 1h3m93 0h2m-48 1h2m-331 1h2m93 0h2m45 0h2m45 0h2m45 0h2m45 0h2m93 0h2m-48 1h2m-48 1h2m93 0h2m-190 1h2m45 0h2m93 0h2m46 0h2m-238 1h2m140 0h2m46 0h2m-96 1h2m141 0h2m-286 1h2m93 0h2m93 0h2m46 0h2m47 1h3m-240 1h2m93 0h2m94 0h2m46 0h2m-97 1h2m-48 1h2m94 0h2m46 0h2m-288 1h2m189 0h2m47 0h2m-193 1h2m46 0h2m190 0h2m-145 1h2m46 0h2m47 0h2m46 0h2m-240 2h2m46 0h2m46 0h3m45 0h2m47 0h2m-291 1h2m47 0h2m143 0h2m46 0h2m47 0h3m-99 1h2m96 0h2m-341 1h2m192 0h2m95 0h2m-49 1h2m96 0h2m-244 1h2m95 0h2m95 0h2m-244 1h2m193 0h2m47 0h2m47 0h2m-147 1h2m96 0h2m-50 1h2m47 0h2m47 0h2m-245 1h2m243 0h2m-344 1h2m194 0h2m47 0h2m47 0h2m-246 1h2m244 0h2m47 0h2m-197 1h2m47 0h2m47 0h2m97 0h2m-395 1h2m146 0h2m195 0h2m-148 1h2m47 0h2m47 0h2m97 0h2m-300 1h2m1 0h2m245 0h2m48 0h2m-100 1h2m48 0h2m-298 1h2m147 0h2m47 0h2m147 0h2m-100 1h2m48 0h2m48 0h2m-150 1h2m-150 1h2m98 0h2m97 0h2m48 0h2m48 0h2m-250 1h2m98 0h2m98 0h2m-51 1h2m98 0h2m-200 1h2m148 0h2m48 0h2m-351 1h2m198 0h2m48 0h2m98 0h2m-301 1h2m48 0h2m199 0h2m48 0h2m-201 1h2m48 0h2m48 0h2m49 0h2m48 0h2m-251 2h2m49 0h2m48 0h2m48 0h2m49 0h2m48 0h2m-353 1h2m48 0h2m200 0h2m49 0h2m-355 1h2m251 0h2m-102 1h2m100 0h2m48 0h2m49 0h2m-254 1h2m100 0h2m99 0h2m49 0h2m-204 1h2m100 0h2m100 0h2m-408 1h2m100 0h2m252 0h2m-306 1h2m46 0h2m52 0h2m100 0h2m49 0h2m100 0h2m-205 1h2m151 0h2m50 0h2m-154 1h2m49 0h2m49 0h2m49 0h2m-256 1h2m49 0h2m101 0h2m100 0h2m-308 1h2m152 0h2m100 0h2m50 0h2m-103 1h2m49 0h2m50 0h2m-361 1h2m101 0h2m49 0h2m50 0h2m51 1h2m49 0h2m50 0h2m-310 1h2m153 0h2m101 0h2m50 0h2m-259 1h2m49 0h2m102 0h2m-52 1h2m50 0h2m49 0h2m50 0h3m-209 1h2m206 0h2m-364 1h2m206 0h2m50 0h2m102 0h2m-417 1h2m102 0h2m258 0h2m-157 1h2m103 0h2m-157 1h2m102 0h2m102 0h2m51 0h2m-210 1h2m103 0h2m50 0h2m-314 1h2m207 0h2m51 0h3m101 0h2m-315 1h2m51 0h2m156 0h2m49 0h2m51 0h2m-211 1h2m51 0h2m51 0h2m50 0h2m50 0h3m-315 2h2m51 0h2m50 0h2m51 0h2m51 0h2m50 0h2m51 0h2m-369 1h2m209 0h2m51 0h2m50 0h2m51 0h2m-476 1h2m51 0h2m157 0h2m50 0h2m105 0h2m50 0h2m-265 1h2m104 0h2m51 0h2m104 0h2m-318 1h2m104 0h2m104 0h2m51 0h2m51 0h2m-266 1h2m104 0h2m105 0h2m-160 1h2m104 0h2m-267 1h2m211 0h2m105 0h2m51 0h2m-427 1h2m105 0h2m51 0h2m52 0h2m104 0h2m52 0h2m51 0h2m-161 1h2m52 0h2m52 0h2m51 0h2m-268 1h2m52 0h2m212 0h2m-162 1h2m52 0h2m52 0h2m-430 1h2m105 0h2m52 0h2m159 0h2m52 0h2m52 0h2m51 0h2m-327 1h2m56 0h2m52 0h2m212 0h3m-162 1h2m52 0h2m52 0h2m52 0h2m-432 1h2m106 0h2m52 0h2m52 0h2m106 0h2m52 0h2m52 0h2m-163 1h2m107 0h2m52 0h2m-380 1h2m161 0h2m106 0h2m107 0h2m-272 1h2m106 0h2m107 0h2m-272 1h2m107 0h2m106 0h2m53 0h2m52 0h2m-272 1h2m106 0h2m53 0h3m106 0h2m-436 1h2m216 0h2m52 0h2m107 0h2m53 0h2m-383 1h2m53 0h2m216 0h2m53 0h2m53 0h2m-274 1h2m53 0h2m52 0h2m53 0h2m53 0h2m53 0h2m-328 2h2m53 0h2m53 0h2m52 0h2m53 0h2m53 0h2m53 0h2m-385 1h2m218 0h2m53 0h2m53 0h2m53 0h2m-440 1h2m218 0h2m217 0h3m-331 1h2m163 0h2m53 0h2m109 0h2m-221 1h2m108 0h2m53 0h2m54 0h2m-388 1h2m109 0h2m219 0h2m-443 1h2m164 0h2m219 0h2m54 0h2m-56 1h2m54 0h2m-334 1h2m165 0h2m53 0h2m54 0h2m-334 1h2m109 0h2m276 0h2m-223 1h2m54 0h2m53 0h2m54 0h2m54 0h2m-112 1h2m54 0h2m54 0h2m-336 1h2m54 0h2m54 0h2m54 0h2m55 1h2m54 0h2m54 0h2m-224 1h2m54 0h2m54 0h2m54 0h2m54 0h2m-393 1h2m110 0h2m279 0h2m-338 1h2m167 0h3m53 0h2m54 0h2m-169 1h2m167 0h2m54 0h2m-282 1h2m111 0h2m167 0h3m-453 1h2m111 0h2m111 0h2m54 0h2m55 0h2m111 0h2m-170 1h2m111 0h2m55 0h2m-284 1h2m55 0h2m111 0h2m55 0h2m-341 1h2m225 0h2m168 0h2m-341 1h2m224 0h3m55 0h2m55 0h2m-285 1h2m55 0h2m55 0h2m55 0h2m55 0h2m55 0h2m-349 1h2m6 1h2m55 0h2m55 0h2m55 0h2m55 0h2m55 0h2m55 0h2m-400 1h2m227 0h2m55 0h2m54 0h3m55 0h2m-458 1h2m170 0h2m55 0h2m113 0h2m55 0h2m55 0h2m-516 1h2m170 0h2m113 0h2m55 0h2m113 0h2m55 0h2m-287 1h2m113 0h2m55 0h2m56 0h2m55 0h2m-403 1h2m286 0h2m113 0h2m-346 1h2m171 0h2m113 0h2m56 0h2m-462 1h2m171 0h2m56 0h2m56 0h2m55 0h2m56 0h2m56 0h2m-405 1h2m56 0h2m229 0h2m56 0h2m56 0h2m-290 1h2m56 0h2m56 0h2m56 0h2m56 0h2m56 0h3m-233 1h2m56 0h2m114 0h2m-301 1h2m8 0h2m56 0h2m172 0h2m57 0h2m-466 1h2m56 0h2m56 0h2m173 0h2m56 0h2m56 0h2m-233 1h2m56 0h2m173 0h2m56 0h2m-175 1h2m56 0h2m115 0h2m-234 1h2m57 0h2m56 0h2m56 0h2m57 0h2m-352 1h2m57 0h2m291 0h2m-411 1h2m174 0h2m57 0h2m56 0h2m57 0h2m57 0h2m-118 1h2m-236 1h2m57 0h2m116 0h2m115 0h2m57 0h2m-236 1h2m116 0h2m57 0h2m57 0h2m-472 1h2m175 0h2m116 0h2m57 0h2m116 0h2m-414 1h2m175 0h2m58 0h2m115 0h2m58 0h2m-356 1h2m234 0h3m57 0h2m58 0h3m-298 1h2m57 0h2m58 0h2m57 0h2m57 0h2m58 0h2m-356 2h2m58 0h2m57 0h2m58 0h2m57 0h2m57 0h2m58 0h2m-417 1h2m237 0h2m57 0h2m57 0h2m58 0h2m-477 1h2m177 0h2m57 0h2m118 0h2m57 0h2m58 0h2m-538 1h2m177 0h2m118 0h2m58 0h2m117 0h2m58 0h2m-367 1h2m66 0h2m237 0h2m-360 1h2m298 0h2m58 0h2m58 0h2m-361 1h2m179 0h2m118 0h2m58 0h2m-481 1h2m178 0h2m58 0h2m59 0h2m58 0h2m58 0h2m58 0h2m-422 1h2m58 0h2m300 0h2m58 0h3m-303 1h2m58 0h2m59 0h2m58 0h2m58 0h2m59 0h2m-242 1h2m59 0h2m58 0h2m57 0h3m59 0h2m-364 1h2m59 0h2m180 0h3m57 0h2m59 0h2m-546 1h2m59 0h2m58 0h2m180 0h2m59 0h2m119 0h2m-304 1h2m59 0h2m180 0h2m59 0h2m58 0h3m-244 1h2m59 0h2m59 0h2m59 0h2m58 0h2m-304 1h2m59 0h2m59 0h2m59 0h2m59 0h2m-371 1h2m2 0h2m59 0h2m304 0h2m-245 1h2m59 0h2m59 0h2m59 0h2m59 0h2m-122 1h2m120 0h2m-368 1h2m59 0h2m244 0h2m59 0h2m-246 1h2m183 0h2m59 0h2m-492 1h2m182 0h2m121 0h2m60 0h2m121 0h2m-431 1h2m182 0h2m60 0h2m183 0h2m-371 1h2m245 0h2m60 0h2m60 0h2m-310 1h2m60 0h2m60 0h2m60 0h2m60 0h3m58 0h3m-371 2h2m60 0h2m60 0h2m60 0h2m60 0h2m60 0h2m60 0h2m-434 1h2m54 0h2m190 0h2m60 0h2m60 0h2m60 0h2m-497 1h2m184 0h2m60 0h2m123 0h2m60 0h2m60 0h2m-374 1h2m123 0h2m60 0h2m123 0h2m60 0h2m-312 1h2m185 0h2m61 0h2m59 0h3m-437 1h2m60 0h2m373 0h2m-563 1h2m248 0h2m123 0h2m61 0h2m61 0h2m60 0h2m-501 1h2m123 0h2m123 0h2m61 0h2m61 0h2m61 0h2m60 0h2m-439 1h2m249 0h2m186 0h2m-284 1h2m30 0h2m124 0h2m61 0h2m61 0h2m-378 1h2m61 0h2m61 0h2m61 0h2m61 0h2m61 0h2m61 0h2m-189 1h2m61 0h2m61 0h2m61 0h2m-505 1h2m61 0h2m61 0h2m61 0h2m61 0h2m188 0h2m61 0h2m-190 1h2m61 0h3m61 0h2m61 0h2m-390 1h2m8 0h2m61 0h2m61 0h2m62 0h2m61 0h2m62 0h2m60 0h3m-339 1h2m83 0h2m124 0h3m62 0h2m61 0h2m-445 1h2m125 0h2m125 0h2m189 0h2m-509 1h2m125 0h2m125 0h2m62 0h2m61 0h2m126 0h2m-319 1h2m253 0h2m61 0h3m-575 1h2m126 0h2m62 0h2m125 0h2m62 0h2m126 0h2m62 0h2m-320 1h2m190 0h2m62 0h2m-320 1h2m125 0h2m63 0h2m126 0h2m-449 1h2m57 0h2m131 0h2m62 0h3m190 0h2m-386 1h2m191 0h2m62 0h2m62 0h2m63 0h2m-322 1h2m62 0h2m62 0h2m63 0h3m61 0h2m63 0h2m-195 1h2m64 0h2m126 0h2m-387 1h2m49 0h2m12 0h2m62 0h2m61 0h3m63 0h2m62 0h2m63 0h2m-452 1h2m256 0h2m63 0h2m62 0h2m63 0h2m-518 1h2m193 0h2m62 0h2m63 0h2m63 0h2m61 0h3m63 0h2m-389 1h2m128 0h2m128 0h2m62 0h2m63 0h2m-324 1h2m127 0h2m128 0h2m63 0h2m-455 1h2m193 0h2m128 0h2m128 0h2m-391 1h2m259 0h2m63 0h2m63 0h2m-522 1h2m123 0h2m69 0h2m128 0h2m64 0h2m63 0h2m63 0h2m-457 1h2m63 0h2m194 0h2m64 0h2m63 0h2m63 0h2m-327 1h2m63 0h2m64 0h2m129 0h2m-197 1h2m129 0h2m64 0h3m62 0h2m-394 1h2m64 0h2m129 0h2m64 0h2m64 0h2m63 0h2m-526 1h2m64 0h2m111 0h2m82 0h2m64 0h2m195 0h2m-395 1h2m64 0h2m130 0h2m129 0h2m64 0h2m-464 1h2m198 0h2m196 0h2m64 0h2m-330 1h2m64 0h2m64 0h2m130 0h2m63 0h3m-198 1h2m130 0h2m64 0h2m-530 1h2m197 0h2m64 0h2m65 0h2m196 0h2m-132 1h2m64 0h2m64 0h3m-466 1h2m64 0h2m131 0h2m65 0h2m65 0h2m64 0h2m64 0h2m-333 1h2m132 0h2m131 0h2m64 0h2m-400 1h2m131 0h2m132 0h2m65 0h2m64 0h2m-534 1h2m198 0h2m132 0h2m132 0h2m-402 1h2m266 0h2m132 0h2m63 0h3m-402 1h2m43 0h2m20 0h2m65 0h2m66 0h2m132 0h2m64 0h2m0 1h3m-471 1h2m65 0h2m65 0h2m25 0h2m38 0h2m66 0h2m132 0h2m-471 1h2m200 0h2m65 0h2m66 0h2m132 0h2m-539 1h2m200 0h2m201 0h3m131 0h2m-405 1h2m133 0h2m65 0h2m67 0h2m132 0h2m-473 1h2m133 0h2m133 0h2m66 0h2m66 0h2m65 0h2m-406 1h2m53 0h2m78 0h2m65 0h3m66 0h2m66 0h2m65 0h2m-339 1h2m66 0h2m134 0h2m66 0h2m65 0h2m-407 1h2m270 0h2m133 0h2m-544 1h2m66 0h2m134 0h2m66 0h2m66 0h2m67 0h2m133 0h2m-272 1h2m-137 1h2m66 0h2m134 0h2m67 0h2m67 0h2m65 0h2m-478 1h2m203 0h2m66 0h2m67 0h2m134 0h3m-411 1h2m66 0h2m135 0h2m67 0h2m66 0h2m66 0h2m-274 1h2m204 0h3m65 0h2m-549 1h2m67 0h2m135 0h2m67 0h2m66 0h2m67 0h2m67 0h2m66 0h2M87.5 76v2m0 85v2m0 70v1m0 66v1m0 61v2m0 59v1m0 59v1m1-408v3m0 84v2m0 69v2m0 65v2m0 61v1m0 59v1m0 59v1m1-406v3m0 83v2m0 69v1m0 66v1m0 61v1m0 59v1m0 59v1m1-404v2m0 83v1m0 69v2m0 65v1m0 61v1m0 59v1m0 59v1m1-403v3m0 81v2m0 69v1m0 65v2m0 60v1m0 59v1m0 59v1m1-401v3m0 80v2m0 68v2m0 65v1m0 60v1m0 59v1m0 59v1m1-399v2m0 80v1m0 69v2m0 64v1m0 60v1m0 59v1m1-338v2m0 79v2m0 69v1m0 64v1m0 60v1m0 59v1m1-337v3m0 78v2m0 68v2m0 63v1m0 60v1m0 59v1m0 58v1m1-394v2m0 78v1m0 69v1m0 63v2m0 59v1m0 59v1m0 58v1m1-393v2m0 77v2m0 68v2m0 63v1m0 59v1m0 59v1m0 58v1m1-392v3m0 76v2m0 68v1m0 63v1m0 59v1m0 59v1m0 58v1m1-390v2m0 76v2m0 67v1m0 63v1m0 59v2m0 58v1m0 58v1m1-389v2m0 76v1m0 67v2m0 62v1m0 60v1m0 58v1m1-329v2m0 75v2m0 67v1m0 62v2m0 59v1m0 58v1m1-328v3m0 74v2m0 66v2m0 62v1m0 59v1m0 58v1m0 57v1m1-384v2m0 74v2m0 66v1m0 62v1m0 59v1m0 58v1m0 57v1m1-383v2m0 74v1m0 66v1m0 62v1m0 59v1m0 58v1m0 57v1m1-382v3m0 72v2m0 65v2m0 61v2m0 58v1m0 116v1m1-380v2m0 72v1m0 66v1m0 62v1m0 58v1m0 116v1m1-379v2m0 71v2m0 65v2m0 61v1m0 58v1m0 57v1m1-319v3m0 70v1m0 66v1m0 61v1m0 58v1m0 57v1m1-317v2m0 69v2m0 65v1m0 61v1m0 58v1m0 57v1m1-316v2m0 69v2m0 64v2m0 60v2m0 57v1m0 57v1m1-315v2m0 69v1m0 65v1m0 61v1m0 57v1m0 57v1m1-314v2m0 68v2m0 64v2m0 60v1m0 57v1m0 57v1m1-313v2m0 68v1m0 65v1m0 60v1m0 57v1m0 57v1m1-312v2m0 67v2m0 64v1m0 60v1m0 57v1m0 57v1m1-311v1m0 68v1m0 64v2m0 59v1m0 57v1m0 57v1m1-311v2m0 67v2m0 64v1m0 59v1m0 57v1m0 57v1m1-310v2m0 67v1m0 64v1m0 59v1m0 57v1m0 57v1m1-309v2m0 66v2m0 63v2m0 58v1m0 57v1m0 57v1m1-308v2m0 66v2m0 63v1m0 58v1m0 57v1m1-181v1m0 63v1m0 58v1m0 57v1m1-326v2m0 75v2m0 66v2m0 62v1m0 58v1m0 57v1m0 56v1m1-382v2m0 75v1m0 67v1m0 62v1m0 58v1m0 57v1m0 56v1m1-381v2m0 75v2m0 65v2m0 61v2m0 57v1m0 57v1m0 56v1m1-380v2m0 75v1m0 66v1m0 62v1m0 57v2m0 56v1m0 56v1m1-379v3m0 73v2m0 65v1m0 62v1m0 58v1m0 56v1m0 56v1m1-377v2m0 73v2m0 64v2m0 61v1m0 58v1m0 56v1m0 56v1m1-376v2m0 73v2m0 64v1m0 61v1m0 58v1m0 56v1m0 56v1m1-375v3m0 72v1m0 64v2m0 60v2m0 57v1m0 56v1m0 56v1m1-373v2m0 71v2m0 64v1m0 61v1m0 57v1m0 56v1m1-315v2m0 71v2m0 63v1m0 61v1m0 57v1m0 56v1m1-314v3m0 70v1m0 63v2m0 60v1m0 57v1m0 56v1m0 55v1m1-368v2m0 69v2m0 63v1m0 60v2m0 56v1m0 56v1m0 55v1m1-367v2m0 69v2m0 62v2m0 60v1m0 56v1m0 56v1m0 55v1m1-366v2m0 69v1m0 63v1m0 60v1m0 56v1m0 56v1m0 55v1m1-365v2m0 68v2m0 62v1m0 60v1m0 56v1m1-251v1m0 69v2m0 61v2m0 59v1m0 56v1m1-249v1m0 68v1m0 62v1m0 59v2m0 55v1m0 55v1m0 55v1m1-361v2m0 67v2m0 61v2m0 59v1m0 55v1m0 55v1m0 55v1m1-360v2m0 67v1m0 62v1m0 59v1m0 55v1m0 55v1m0 55v1m1-359v2m0 66v2m0 61v1m0 59v1m0 55v1m0 55v1m0 55v1m1-358v2m0 66v1m0 61v2m0 58v1m0 55v1m0 55v1m1-301v2m0 65v2m0 61v1m0 58v1m0 55v1m0 55v1m1-300v2m0 65v2m0 60v1m0 58v1m0 55v1m0 55v1m0 54v1m1-354v2m0 65v1m0 60v2m0 57v1m0 55v1m0 55v1m0 54v1m1-353v2m0 64v2m0 60v1m0 57v1m0 55v1m0 110v1m1-352v1m0 65v1m0 60v1m0 57v2m0 54v1m0 110v1m1-352v2m0 64v2m0 59v1m0 58v1m0 54v1m0 54v1m1-295v2m0 64v1m0 59v1m0 58v1m0 54v1m0 54v1m1-294v2m0 63v1m0 59v2m0 57v1m0 54v1m0 54v1m0 54v1m1-284v2m0 59v1m0 57v1m0 54v1m0 54v1m0 54v1m1-348v2m0 63v1m0 59v1m0 57v1m0 54v1m0 54v1m0 54v1m1-347v2m0 62v2m0 58v1m0 57v1m0 54v1m0 54v1m0 54v1m1-346v2m0 62v1m0 58v1m0 57v1m0 54v1m0 54v1m1-290v1m0 62v1m0 58v2m0 56v1m0 54v1m0 54v1m1-290v2m0 61v2m0 58v1m0 56v1m0 54v1m0 108v1m1-413v1m0 69v1m0 62v1m0 58v1m0 56v1m0 54v1m0 108v1m1-413v2m0 69v2m0 60v2m0 57v1m0 56v1m0 54v1m0 53v1m0 54v1m1-412v2m0 69v2m0 60v1m0 57v2m0 55v1m0 54v1m0 53v1m0 54v1m1-411v2m0 69v1m0 60v1m0 58v1m0 55v2m0 53v1m0 53v1m1-355v2m0 68v2m0 59v2m0 57v1m0 56v1m0 53v1m0 53v1m1-354v2m0 68v1m0 60v1m0 57v1m0 56v1m0 53v1m0 53v1m0 53v1m1-407v2m0 67v2m0 59v2m0 56v1m0 56v1m0 53v1m0 53v1m0 53v1m1-406v2m0 67v1m0 60v1m0 56v2m0 55v1m0 53v1m1-297v2m0 66v2m0 59v1m0 57v1m0 55v1m0 53v1m1-296v2m0 66v2m0 58v2m0 56v1m0 55v1m0 53v1m0 52v1m0 53v1m1-402v2m0 66v1m0 59v1m0 56v1m0 55v1m0 106v1m0 53v1m1-401v2m0 65v2m0 58v1m0 56v1m0 55v1m0 106v1m0 53v1m1-400v2m0 65v1m0 58v2m0 55v1m0 55v1m0 52v1m0 53v1m1-345v2m0 64v2m0 58v1m0 55v2m0 54v1m0 52v1m1-290v2m0 64v1m0 58v1m0 56v1m0 54v1m0 52v1m0 106v1m1-396v2m0 63v1m0 58v1m0 56v1m0 54v1m0 52v1m0 52v1m0 53v1m1-395v2m0 62v2m0 57v2m0 55v1m0 54v1m0 52v1m0 52v1m1-340v2m0 62v1m0 58v1m0 55v1m0 54v1m0 52v1m0 52v1m1-276v1m0 58v1m0 55v1m0 54v1m0 52v1m0 52v1m0 52v1m1-391v1m0 61v2m0 57v2m0 54v1m0 54v1m0 52v1m0 105v1m1-391v2m0 61v1m0 58v1m0 54v1m0 54v1m1-231v2m0 60v1m0 58v1m0 54v1m0 54v1m0 104v1m1-335v2m0 59v2m0 57v1m0 54v2m0 105v1m0 52v1m1-334v2m0 59v1m0 57v2m0 54v1m0 105v1m0 52v1m1-333v1m0 59v2m0 57v1m0 54v1m0 52v1m0 52v1m0 52v1m1-333v2m0 59v1m0 57v1m0 54v1m0 52v1m0 52v1m1-279v2m0 58v1m0 57v1m0 54v1m0 52v1m0 52v1m1-278v2m0 57v2m0 56v2m0 53v1m0 52v1m0 52v1m0 51v1m1-329v1m0 58v1m0 57v1m0 53v1m0 52v1m0 52v1m0 51v1m1-329v2m0 57v2m0 56v1m0 53v1m0 52v1m0 52v1m0 51v1m1-328v2m0 57v1m0 56v2m0 52v2m0 51v1m1-222v2m0 56v1m0 57v1m0 53v1m0 51v1m1-164v2m0 56v1m0 53v1m0 51v1m0 51v1m1-273v2m0 56v1m0 56v1m0 53v1m0 51v1m0 51v1m0 51v1m1-324v1m0 56v1m0 56v1m0 53v1m0 51v1m0 51v1m0 51v1m1-388v1m0 63v2m0 55v2m0 55v1m0 53v1m0 51v1m0 51v1m0 51v1m1-388v2m0 63v1m0 56v1m0 55v2m0 52v1m0 51v1m0 51v1m0 51v1m1-387v2m0 62v1m0 56v1m0 56v1m0 52v1m0 51v1m0 51v1m1-334v2m0 61v2m0 55v2m0 55v1m0 52v1m0 51v1m1-281v1m0 62v1m0 56v1m0 55v1m0 52v1m0 51v1m0 102v1m1-384v2m0 61v2m0 55v1m0 55v1m0 52v1m0 51v1m0 50v1m0 51v1m1-383v2m0 61v1m0 55v2m0 54v1m0 52v1m0 51v1m0 50v1m0 51v1m1-382v2m0 60v2m0 55v1m0 54v1m0 52v1m0 102v1m1-329v2m0 116v1m0 54v1m0 52v1m0 102v1m1-328v1m0 116v2m0 53v1m0 52v1m0 50v1m0 102v1m1-379v2m0 60v1m0 55v1m0 53v2m0 51v1m0 50v1m0 102v1m1-378v2m0 59v2m0 54v1m0 54v1m0 51v1m0 50v1m0 50v1m1-325v2m0 59v1m0 54v2m0 53v1m0 51v1m0 50v1m0 50v1m1-324v1m0 115v1m0 53v1m0 51v2m0 49v1m0 50v1m0 50v1m0 1v1m1-377v2m0 59v2m0 53v1m0 53v1m0 52v1m0 49v1m0 50v1m0 50v1m0 1v1m1-376v2m0 59v1m0 53v2m0 52v1m0 52v1m0 49v1m0 101v1m0 1v1m1-375v2m0 58v2m0 53v1m0 52v1m0 52v1m0 49v1m1-270v1m0 59v1m0 53v1m0 52v1m0 52v1m0 49v1m0 49v1m1-320v2m0 58v1m0 53v2m0 51v2m0 51v1m0 49v1m0 49v1m0 50v1m0 1v1m1-372v1m0 58v2m0 53v1m0 52v1m0 51v1m0 49v1m0 49v1m0 50v1m0 1v1m1-372v2m0 58v1m0 53v1m0 52v1m0 51v1m0 49v1m0 49v1m0 50v1m1-369v2m0 57v1m0 53v1m0 52v1m0 51v1m0 150v1m1-310v1m0 53v2m0 51v1m0 51v1m0 98v1m1-316v2m0 56v2m0 53v1m0 51v1m0 51v1m0 48v1m0 49v1m0 50v1m1-366v1m0 57v1m0 53v1m0 51v1m0 51v1m0 48v1m0 49v1m0 50v1m1-366v2m0 56v1m0 53v1m0 51v1m0 51v1m0 48v1m0 49v1m1-314v2m0 55v1m0 53v1m0 51v1m0 51v1m0 48v1m0 49v1m1-313v1m0 55v2m0 52v1m0 51v1m0 51v1m0 48v1m0 99v1m1-363v2m0 55v1m0 52v2m0 50v1m0 51v1m0 48v1m0 99v1m0 1v1m1-364v1m0 55v1m0 53v1m0 50v1m0 100v1m0 48v1m0 50v1m0 1v1m1-363v1m0 54v1m0 53v1m0 50v1m0 100v1m0 48v1m0 52v1m1-363v1m0 54v2m0 52v1m0 50v1m0 50v1m0 98v1m0 52v1m1-307v1m0 52v1m0 50v1m0 50v1m0 98v1m0 49v1m0 2v1m1-362v2m0 53v1m0 52v1m0 50v1m0 50v1m0 48v1m0 99v1m0 2v1m1-361v1m0 53v1m0 52v2m0 49v1m0 50v1m0 48v1m1-316v1m0 57v2m0 52v2m0 52v1m0 49v1m0 50v1m0 48v1m0 48v1m1-365v2m0 57v1m0 53v1m0 52v1m0 49v2m0 98v1m0 48v1m0 49v1m1-414v1m0 57v2m0 52v1m0 52v1m0 50v1m0 147v1m0 49v1m1-414v2m0 57v1m0 52v2m0 51v1m0 50v1m0 48v1m0 100v1m1-365v2m0 56v2m0 52v1m0 51v1m0 50v1m0 48v1m0 48v1m0 51v1m1-364v1m0 57v1m0 52v1m0 51v2m0 49v1m0 48v1m0 48v1m0 48v1m0 2v1m0 46v1m1-411v2m0 56v1m0 52v1m0 52v1m0 49v1m0 48v1m0 48v1m0 48v1m0 2v1m1-363v1m0 56v2m0 51v2m0 51v1m0 49v1m0 48v1m0 48v1m0 51v1m0 49v1m1-413v2m0 56v1m0 52v1m0 51v1m0 49v1m0 48v1m0 100v1m0 45v1m0 3v1m1-412v2m0 55v2m0 51v1m0 51v1m0 49v1m0 145v1m0 53v1m1-411v1m0 56v1m0 51v1m0 51v1m0 49v1m0 96v1m0 48v1m0 53v1m1-411v2m0 55v2m0 50v1m0 51v1m0 49v1m0 47v1m0 48v1m0 48v1m0 48v1m0 4v1m1-410v1m0 56v1m0 50v2m0 50v1m0 49v1m0 47v1m0 48v1m0 97v1m0 4v1m1-410v2m0 107v1m0 50v1m0 49v1m0 47v1m0 48v1m1-306v1m0 55v2m0 50v1m0 50v1m0 49v1m0 47v1m0 96v1m1-354v2m0 55v1m0 50v1m0 50v1m0 49v1m0 47v1m0 96v1m0 48v1m1-402v2m0 54v1m0 50v1m0 50v1m0 49v1m0 95v1m0 48v1m1-352v1m0 54v1m0 50v2m0 49v1m0 49v1m0 95v1m0 51v1m1-355v2m0 53v2m0 50v1m0 49v1m0 49v1m0 46v1m0 48v1m0 51v1m0 44v1m1-399v1m0 54v1m0 50v1m0 49v1m0 49v1m0 46v1m0 48v1m0 47v1m0 3v1m0 44v1m1-399v2m0 53v1m0 50v1m0 49v1m0 49v1m0 46v1m0 96v1m1-295v2m0 49v2m0 48v1m0 96v1m1-252v2m0 53v1m0 50v1m0 48v2m0 95v1m0 47v1m0 51v1m1-351v1m0 53v1m0 50v1m0 49v1m0 47v1m0 95v1m0 47v1m0 3v1m1-350v1m0 52v1m0 50v1m0 49v1m0 47v1m0 95v1m0 47v1m1-346v1m0 52v2m0 49v1m0 49v1m0 47v1m0 46v1m0 48v1m0 47v1m1-345v1m0 52v1m0 49v2m0 48v1m0 47v1m0 46v1m1-248v2m0 51v1m0 50v1m0 48v1m0 47v1m0 46v1m1-247v2m0 50v1m0 50v1m0 48v1m0 47v1m0 46v1m0 47v1m0 47v1m1-342v1m0 50v2m0 49v1m0 48v1m0 47v1m0 46v1m0 47v1m0 47v1m1-342v2m0 50v1m0 49v1m0 48v1m0 47v1m0 46v1m0 47v1m1-293v1m0 50v1m0 49v1m0 48v1m0 47v1m0 145v1m1-344v1m0 50v1m0 49v1m0 48v1m0 47v1m0 141v1m0 3v1m1-344v2m0 49v2m0 48v1m0 48v1m0 47v1m0 45v1m0 47v1m0 47v1m0 3v1m1-343v1m0 50v1m0 48v1m0 48v1m0 47v1m0 45v1m0 47v1m1-345v1m0 53v1m0 50v1m0 48v2m0 47v1m0 47v1m0 45v1m1-297v2m0 53v1m0 49v1m0 49v1m0 47v1m0 93v1m0 94v1m0 3v1m1-395v1m0 53v1m0 49v1m0 49v1m0 47v1m0 93v1m0 46v1m0 47v1m0 3v1m1-395v2m0 52v2m0 48v2m0 48v1m0 47v1m0 46v1m0 93v1m0 2v1m1-345v1m0 53v1m0 49v1m0 48v1m0 47v1m0 46v1m0 93v1m0 2v1m1-345v1m0 103v1m0 48v1m0 47v1m0 46v1m0 45v1m0 50v1m0 43v1m1-389v2m0 52v2m0 48v1m0 48v1m0 47v1m0 46v1m0 45v1m1-293v1m0 53v1m0 48v1m0 48v1m0 47v1m0 46v1m0 45v1m0 46v1m1-340v2m0 52v1m0 48v1m0 48v1m0 47v1m0 46v1m0 45v1m0 46v1m0 2v1m0 43v1m1-386v1m0 52v1m0 48v2m0 47v1m0 47v1m0 46v1m0 45v1m0 46v1m0 2v1m0 43v1m1-386v2m0 51v1m0 49v1m0 47v1m0 47v1m0 46v1m0 45v1m0 98v1m1-390v1m0 51v2m0 48v1m0 47v1m0 47v1m0 46v1m0 144v1m1-390v2m0 51v1m0 48v1m0 47v1m0 47v1m0 138v1m0 46v1m0 5v1m1-389v1m0 51v1m0 48v1m0 47v2m0 46v1m0 91v1m0 46v1m0 52v1m1-389v2m0 50v1m0 48v1m0 48v1m0 92v1m0 45v1m1-288v1m0 50v2m0 47v1m0 48v1m0 92v1m0 45v1m0 92v1m0 6v1m1-388v2m0 50v1m0 47v1m0 48v1m0 45v1m0 46v1m0 45v1m0 45v1m0 3v1m0 42v1m1-380v2m0 49v1m0 47v1m0 48v1m0 45v1m0 46v1m0 47v1m0 43v1m0 3v1m1-336v1m0 49v1m0 47v1m0 48v1m0 45v1m0 94v1m0 43v1m0 3v1m0 41v1m1-378v2m0 48v2m0 46v2m0 47v1m0 45v1m0 91v1m0 2v1m0 89v1m1-377v1m0 49v1m0 47v1m0 47v1m0 45v1m0 45v1m0 45v1m0 2v1m0 89v1m1-377v1m0 49v1m0 47v1m0 47v1m0 45v1m0 45v1m0 45v1m0 2v1m0 42v1m0 3v1m1-334v2m0 48v1m0 47v1m0 47v1m0 45v1m0 45v1m0 48v1m0 42v1m0 3v1m1-333v1m0 48v2m0 46v1m0 47v1m0 45v1m0 45v1m0 137v1m0 7v1m1-383v1m0 49v1m0 46v1m0 47v1m0 45v1m0 90v1m0 100v1m1-383v2m0 48v1m0 46v1m0 47v1m0 45v1m0 136v1m0 54v1m1-382v1m0 48v2m0 45v1m0 47v1m0 45v1m0 44v1m0 91v1m0 45v1m1-373v1m0 49v1m0 45v1m0 47v1m0 45v1m0 44v1m0 137v1m1-373v2m0 48v1m0 45v1m0 47v1m0 45v1m0 44v1m0 44v1m0 100v1m1-380v1m0 48v1m0 45v1m0 47v1m0 45v1m0 44v1m0 44v1m0 45v1m0 54v1m1-380v1m0 48v1m0 45v1m0 47v1m0 45v1m0 89v1m0 51v1m0 39v1m1-371v2m0 47v1m0 45v1m0 47v1m0 45v1m0 92v1m0 48v1m1-330v1m0 47v1m0 45v2m0 46v1m0 89v1m0 48v1m0 41v1m0 6v1m1-330v1m0 47v1m0 46v1m0 136v1m0 44v1m0 3v1m0 87v1m1-369v2m0 46v1m0 46v1m0 91v1m0 44v1m0 44v1m0 3v1m1-280v1m0 46v2m0 45v1m0 45v1m0 45v1m0 44v1m0 44v1m0 3v1m0 40v1m0 6v1m1-379v1m0 50v1m0 47v1m0 45v1m0 45v1m0 45v1m0 93v1m0 40v1m0 6v1m0 38v1m1-418v2m0 49v1m0 47v1m0 45v1m0 45v1m0 45v1m1-236v1m0 49v2m0 46v1m0 45v1m0 45v1m0 89v1m0 44v1m1-325v2m0 49v1m0 46v1m0 45v1m0 45v1m0 89v1m0 44v1m0 44v1m0 45v1m1-415v1m0 49v1m0 46v1m0 45v1m0 45v1m0 44v1m0 44v1m1-279v1m0 49v2m0 45v1m0 45v1m0 45v1m0 44v1m1-234v2m0 49v1m0 45v1m0 45v1m0 45v1m0 44v1m0 88v1m0 44v1m0 45v1m1-413v1m0 49v1m0 45v1m0 45v1m0 45v1m0 44v1m0 43v1m0 44v1m0 53v1m1-376v2m0 48v1m0 45v1m0 45v1m0 45v1m0 44v1m0 43v1m0 44v1m0 4v1m0 48v1m1-375v1m0 48v2m0 44v2m0 44v1m0 45v1m0 88v1m0 49v1m0 38v1m0 9v1m0 35v1m1-411v2m0 48v1m0 45v1m0 44v1m0 45v1m0 138v1m0 38v1m1-364v1m0 48v1m0 45v1m0 44v1m0 45v1m0 43v1m0 88v1m1-319v2m0 47v1m0 45v1m0 44v1m0 45v1m0 43v1m0 43v1m0 44v1m0 53v1m0 35v1m1-408v1m0 47v1m0 45v1m0 44v1m0 45v1m0 43v1m0 43v1m0 2v1m0 46v1m0 38v1m0 9v1m1-372v1m0 47v2m0 44v1m0 44v1m0 45v1m0 43v1m0 46v1m0 46v1m1-323v2m0 47v1m0 44v2m0 43v1m0 45v1m0 43v1m0 46v1m0 40v1m0 89v1m1-406v1m0 47v1m0 45v1m0 43v1m0 132v1m0 3v1m0 40v1m0 43v1m1-360v2m0 46v1m0 45v1m0 43v1m0 132v1m0 3v1m1-274v1m0 46v2m0 44v1m0 43v1m0 44v1m0 43v1m0 43v1m0 3v1m1-274v1m0 47v1m0 44v1m0 43v1m0 44v1m0 43v1m0 87v1m0 43v1m1-358v2m0 46v1m0 44v1m0 43v1m0 44v1m0 43v1m0 87v1m0 43v1m0 11v1m1-369v1m0 46v1m0 44v1m0 43v1m0 44v1m0 43v1m0 42v1m0 100v1m1-369v1m0 46v1m0 44v1m0 43v1m0 44v1m0 86v1m0 50v1m0 49v1m1-369v2m0 45v2m0 43v1m0 43v1m0 44v1m0 86v1m0 43v1m0 6v1m0 36v1m1-355v1m0 46v1m0 43v1m0 43v1m0 87v1m0 94v1m1-318v1m0 46v1m0 43v1m0 43v1m0 87v1m0 94v1m0 48v1m1-367v1m0 46v1m0 43v1m0 43v1m0 43v1m0 43v1m0 42v1m0 4v1m0 38v1m0 7v1m0 35v1m0 12v1m1-367v1m0 46v1m0 43v1m0 43v1m0 43v1m0 43v1m0 42v1m0 4v1m0 38v1m0 7v1m1-318v2m0 45v1m0 43v1m0 43v1m0 43v1m0 91v1m1-270v1m0 45v2m0 42v1m0 43v1m0 43v1m0 173v1m1-352v1m0 46v1m0 42v1m0 43v1m0 43v1m0 42v1m0 42v1m0 43v1m1-308v1m0 46v1m0 42v1m0 43v1m0 43v1m0 42v1m0 42v1m0 4v1m1-269v2m0 45v1m0 42v1m0 43v1m0 129v1m0 4v1m0 81v1m1-350v1m0 45v1m0 42v1m0 43v1m0 172v1m0 43v1m1-350v1m0 45v1m0 42v1m0 43v1m0 42v1m0 42v1m0 86v1m0 9v1m0 47v1m1-411v1m0 46v1m0 45v1m0 42v1m0 43v1m0 42v1m0 42v1m0 42v1m0 53v1m0 47v1m1-411v1m0 46v2m0 44v1m0 42v1m0 43v1m0 42v1m0 42v1m0 2v1m0 39v1m0 53v1m0 32v1m0 14v1m1-411v2m0 46v1m0 44v1m0 42v1m0 86v1m0 45v1m0 82v1m0 10v1m1-362v1m0 46v1m0 44v1m0 42v1m0 86v1m0 45v1m0 82v1m0 10v1m1-362v1m0 46v1m0 44v1m0 42v1m0 42v1m0 43v1m0 41v1m0 42v1m0 6v1m0 47v1m0 31v1m0 14v1m1-409v2m0 45v2m0 43v1m0 42v1m0 42v1m0 85v1m0 42v1m0 6v1m0 47v1m0 46v1m1-408v1m0 46v1m0 43v1m0 42v1m0 42v1m0 85v1m0 2v1m0 46v1m0 35v1m1-349v1m0 46v1m0 43v1m0 42v1m0 42v1m0 42v1m0 45v1m0 125v1m1-392v2m0 45v2m0 42v1m0 42v1m0 42v1m0 42v1m0 84v1m1-304v1m0 46v1m0 42v1m0 42v1m0 42v1m0 42v1m0 41v1m0 42v1m0 6v1m0 35v1m1-347v1m0 46v1m0 42v1m0 42v1m0 42v1m0 42v1m0 41v1m0 49v1m0 35v1m0 42v1m1-390v2m0 45v1m0 42v1m0 42v1m0 42v1m1-175v1m0 45v1m0 42v1m0 42v1m0 42v1m0 44v1m0 81v1m0 56v1m1-359v1m0 45v1m0 42v1m0 42v1m0 42v1m0 41v1m0 2v1m0 38v1m0 85v1m0 13v1m0 28v1m0 16v1m1-405v2m0 44v1m0 42v1m0 42v1m0 42v1m0 41v1m0 2v1m0 38v1m0 99v1m0 45v1m1-404v1m0 44v1m0 42v1m0 42v1m0 42v1m0 41v1m0 41v1m0 3v1m0 37v1m0 103v1m1-404v1m0 44v1m0 42v1m0 42v1m0 42v1m0 41v1m0 45v1m0 37v1m0 42v1m0 42v1m0 17v2m1-405v1m0 44v1m0 42v1m0 42v1m0 42v1m0 43v1m0 43v1m0 46v1m0 47v1m0 28v1m0 18v1m1-405v2m0 43v2m0 41v1m0 129v1m0 38v1m0 4v1m0 46v1m0 47v1m0 47v1m1-404v1m0 86v1m0 84v1m0 41v1m0 41v1m0 4v1m0 36v1m0 9v1m0 32v1m1-341v1m0 44v1m0 41v1m0 41v1m0 42v1m0 41v1m0 46v1m0 46v2m0 74v1m1-384v2m0 43v1m0 41v1m0 41v1m0 42v1m0 41v1m0 94v1m1-308v1m0 43v1m0 41v1m0 41v1m0 42v1m0 41v1m0 40v1m0 41v1m0 11v1m0 30v1m1-339v1m0 43v1m0 83v1m0 42v1m0 82v1m0 41v1m0 85v1m1-382v1m0 43v1m0 41v1m0 41v1m0 42v1m1-171v2m0 42v1m0 41v1m0 41v1m0 42v1m0 40v1m0 2v1m0 122v1m1-294v1m0 41v1m0 41v1m0 42v1m0 40v1m0 2v1m0 37v1m0 41v1m0 42v1m0 15v1m0 26v1m1-380v1m0 42v1m0 41v1m0 41v1m0 83v1m0 2v1m0 37v1m0 6v1m0 34v1m0 58v1m1-353v1m0 42v1m0 41v1m0 41v1m0 86v1m0 44v1m0 76v1m0 16v1m1-353v1m0 42v1m0 41v1m0 41v1m0 41v1m0 44v1m0 44v1m0 47v1m0 45v1m1-353v2m0 41v1m0 41v1m0 41v1m0 41v1m0 40v1m0 3v1m0 36v1m0 7v1m0 33v1m0 13v1m0 45v1m1-352v1m0 41v1m0 41v1m0 41v1m0 41v1m0 40v1m0 3v1m0 36v1m0 7v1m0 47v1m0 27v1m0 17v1m0 24v1m1-377v1m0 41v2m0 40v1m0 41v1m0 41v1m0 40v1m0 48v1m0 47v1m1-306v1m0 42v1m0 40v1m0 124v1m0 48v1m0 32v1m0 14v1m1-306v2m0 41v1m0 40v1m0 164v1m0 41v1m0 14v1m0 26v1m0 42v1m1-420v1m0 44v1m0 41v1m0 40v1m0 40v1m0 41v1m0 81v1m1-293v1m0 44v1m0 41v1m0 40v1m0 40v1m0 41v1m0 40v1m1-252v2m0 43v1m0 41v1m0 40v1m0 40v1m0 41v1m0 40v1m0 81v1m0 41v1m1-375v1m0 43v1m0 41v1m0 40v1m0 40v1m0 41v1m0 1v1m0 38v1m0 39v1m1-291v1m0 43v1m0 41v1m0 40v1m0 40v1m0 43v1m0 38v1m0 3v1m0 35v1m0 102v1m0 22v1m1-417v1m0 43v1m0 41v1m0 81v1m0 43v1m0 42v1m0 45v1m0 30v1m0 41v1m0 19v1m1-394v1m0 43v1m0 41v1m0 81v1m0 40v1m0 45v1m0 45v1m0 92v1m1-394v2m0 42v1m0 41v1m0 39v1m0 41v1m0 40v1m0 40v1m0 4v1m0 34v1m0 10v1m0 46v1m0 45v2m1-394v1m0 42v2m0 40v1m0 39v1m0 41v1m0 40v1m0 1v1m0 38v1m0 4v1m0 34v1m0 10v1m0 29v1m0 16v1m0 24v1m0 21v1m1-394v1m0 43v1m0 40v1m0 39v1m0 84v1m0 43v1m0 45v1m0 46v1m0 46v1m0 19v1m1-414v1m0 43v1m0 40v1m0 39v1m0 174v1m0 46v1m1-347v2m0 42v1m0 40v1m0 39v1m0 40v1m0 40v1m0 40v1m0 39v1m0 40v1m0 17v1m0 23v1m1-370v1m0 42v1m0 40v1m0 39v1m0 40v1m0 40v1m0 40v1m0 39v1m0 40v1m0 17v1m0 65v1m1-412v1m0 42v1m0 40v1m0 39v1m0 40v1m0 40v1m0 139v1m1-346v1m0 42v1m0 40v1m0 39v1m0 40v1m0 40v1m0 162v1m1-369v1m0 42v1m0 40v1m0 39v1m0 40v1m0 80v1m0 39v1m0 40v1m1-327v2m0 41v1m0 40v1m0 39v1m0 84v1m0 43v1m0 32v1m0 106v1m1-392v1m0 41v1m0 40v1m0 39v1m0 80v1m0 3v1m0 43v1m0 46v1m0 67v1m0 24v1m1-392v1m0 41v1m0 40v1m0 39v1m0 39v1m0 40v1m0 3v1m0 35v1m0 7v1m0 46v1m0 25v1m0 66v1m1-392v1m0 41v1m0 40v1m0 39v1m0 39v1m0 40v1m0 3v1m0 35v1m0 7v2m0 30v1m0 14v1m1-299v1m0 41v1m0 40v1m0 39v1m0 39v1m0 40v1m0 3v1m0 44v1m0 30v1m0 14v1m0 45v1m0 20v1m1-366v1m0 41v1m0 40v1m0 39v1m0 39v1m0 44v1m0 44v1m0 45v1m0 24v1m0 20v1m0 45v1m1-391v2m0 40v2m0 39v1m0 39v1m0 84v1m0 34v1m0 55v1m0 45v1m0 45v1m1-390v1m0 41v1m0 39v1m0 39v1m0 79v1m0 79v1m1-282v1m0 41v1m0 39v1m0 78v1m0 40v1m0 119v1m1-322v1m0 41v1m0 118v1m0 40v1m0 38v1m0 101v1m0 19v1m1-363v1m0 41v1m0 78v1m0 39v1m0 79v1m0 39v1m0 61v1m1-343v1m0 41v1m0 38v1m0 39v1m0 199v1m1-321v1m0 41v1m0 38v1m0 39v1m0 39v1m0 2v1m0 36v1m0 50v1m0 109v1m1-362v2m0 40v1m0 38v1m0 39v1m0 42v1m0 36v1m0 5v1m0 32v1m0 11v1m0 27v1m0 109v1m1-389v1m0 40v1m0 38v1m0 39v1m0 42v1m0 42v1m0 44v1m0 44v1m0 22v1m0 40v1m0 28v1m1-389v1m0 40v1m0 38v1m0 39v1m0 38v1m0 3v1m0 42v1m0 44v1m0 44v1m0 22v1m0 40v1m0 28v1m1-389v1m0 40v1m0 38v1m0 78v1m0 3v1m0 35v1m0 6v1m0 31v1m0 12v1m0 26v1m0 17v1m0 92v2m1-390v1m0 40v1m0 38v1m0 78v1m0 3v1m0 35v1m0 6v1m0 31v1m0 12v1m0 26v1m0 17v1m0 45v1m0 47v1m1-390v1m0 40v1m0 38v1m0 38v1m0 39v1m0 46v1m0 89v1m0 21v1m0 23v1m1-383v1m0 40v1m0 40v1m0 38v1m0 38v1m0 176v1m0 45v1m1-383v1m0 40v2m0 39v1m0 38v1m0 38v1m0 78v1m0 38v1m0 39v1m0 64v2m0 14v1m1-399v1m0 41v1m0 39v1m0 38v1m0 38v1m0 38v1m0 39v1m0 118v1m0 25v1m1-384v1m0 41v1m0 39v1m0 77v1m0 38v1m0 184v1m1-384v2m0 40v1m0 39v1m0 77v1m0 2v1m0 35v1m0 77v1m0 39v1m0 80v1m1-397v1m0 40v1m0 39v1m0 37v1m0 42v1m0 35v1m0 38v1m0 38v1m0 15v1m0 63v1m1-356v1m0 40v1m0 39v1m0 37v1m0 42v1m0 39v1m0 34v1m0 8v1m0 45v1m1-292v1m0 40v1m0 39v1m0 37v1m0 38v1m0 43v1m0 43v1m0 45v1m0 22v1m1-315v1m0 40v1m0 39v1m0 37v1m0 38v1m0 38v1m0 4v1m0 43v1m0 28v1m0 16v1m0 62v1m1-355v1m0 40v1m0 39v1m0 76v1m0 2v1m0 35v1m0 4v1m0 33v1m0 9v2m0 44v1m0 43v1m0 58v1m1-395v1m0 40v1m0 39v1m0 37v1m0 38v1m0 2v1m0 35v1m0 4v1m0 33v1m0 10v1m0 44v1m0 43v1m0 46v1m1-383v2m0 39v2m0 38v1m0 37v1m0 38v1m0 43v1m0 44v1m0 26v1m0 61v1m0 46v1m1-382v1m0 40v1m0 76v1m0 154v1m0 61v1m0 46v1m0 10v1m1-393v1m0 40v1m0 153v1m0 38v1m0 38v1m0 38v1m0 22v1m0 16v1m0 29v1m1-382v1m0 40v1m0 37v1m0 115v1m0 186v1m1-382v1m0 40v1m0 37v1m0 37v1m0 38v1m0 38v1m0 76v1m0 78v1m0 30v1m0 9v1m1-392v1m0 40v1m0 37v1m0 37v1m0 38v1m0 76v1m0 77v1m0 39v1m1-351v2m0 39v1m0 37v1m0 37v1m0 38v1m0 3v1m0 72v1m0 77v1m1-310v1m0 39v1m0 75v1m0 38v1m0 3v1m0 33v1m0 7v1m0 30v1m0 12v1m0 24v1m0 18v1m0 100v1m1-390v1m0 39v1m0 37v1m0 37v1m0 42v1m0 33v1m0 7v1m0 43v1m0 43v1m0 45v1m0 13v1m1-349v1m0 39v1m0 152v1m0 7v1m0 43v1m0 23v1m0 19v1m0 19v1m0 25v1m0 53v1m1-389v1m0 39v1m0 113v1m0 46v1m0 29v1m0 13v2m0 22v1m0 19v1m0 45v1m0 47v1m1-383v1m0 39v1m0 36v1m0 38v1m0 37v1m0 3v1m0 42v1m0 29v1m0 14v1m0 22v1m0 19v1m0 45v1m0 47v1m1-383v2m0 38v1m0 36v1m0 76v1m0 3v1m0 33v1m0 8v1m0 44v1m0 42v1m0 18v1m0 26v1m0 47v1m0 4v1m1-387v1m0 75v1m0 114v1m0 142v1m0 11v1m0 35v2m1-383v1m0 75v1m0 37v1m0 76v1m0 37v1m0 37v1m0 66v1m0 48v1m1-383v1m0 75v1m0 37v1m0 37v1m0 38v1m0 37v1m0 76v1m0 76v1m1-383v1m0 37v1m0 37v1m0 37v1m0 37v1m0 192v1m1-345v1m0 37v1m0 37v1m0 37v1m0 2v1m0 34v1m0 37v1m0 75v1m0 118v1m1-385v1m0 37v1m0 37v1m0 37v1m0 2v1m0 72v1m0 37v1m0 76v1m1-305v1m0 37v1m0 37v1m0 37v1m0 2v1m0 39v1m0 32v1m0 9v1m0 44v1m0 43v1m1-289v1m0 37v1m0 37v1m0 74v1m0 5v1m0 42v1m0 44v1m0 19v1m0 23v1m0 45v1m1-335v1m0 37v1m0 112v1m0 5v1m0 42v1m0 26v1m0 17v1m0 19v1m0 23v1m0 45v1m0 7v1m1-343v1m0 37v1m0 74v1m0 2v1m0 34v1m0 5v2m0 30v1m0 10v2m0 43v1m0 43v1m0 45v1m0 48v1m1-384v1m0 37v1m0 36v1m0 37v1m0 2v1m0 41v1m0 30v1m0 11v1m0 43v1m0 43v1m0 13v1m0 31v2m0 47v2m1-424v1m0 38v1m0 37v1m0 36v1m0 37v1m0 44v1m0 30v1m0 11v1m0 24v1m0 18v1m0 18v1m0 24v1m0 46v1m0 5v1m0 39v1m0 2v1m1-424v1m0 38v1m0 37v1m0 36v1m0 37v1m0 36v1m0 151v1m0 33v1m0 45v1m0 2v1m1-424v1m0 76v1m0 36v1m0 74v1m0 151v1m1-341v1m0 38v1m0 37v1m0 36v1m0 74v1m0 37v1m0 74v1m0 77v1m1-380v1m0 38v1m0 37v1m0 36v1m0 36v1m0 75v1m1-227v1m0 38v1m0 37v1m0 36v1m0 36v1m0 188v1m0 78v1m1-419v1m0 38v1m0 37v1m0 36v1m0 36v1m0 4v1m0 31v1m0 52v1m0 21v1m0 37v1m1-301v1m0 38v1m0 37v1m0 36v1m0 36v1m0 4v1m0 31v1m0 8v1m0 28v1m0 14v1m0 42v1m0 16v1m0 27v1m0 46v1m1-376v2m0 37v1m0 37v1m0 78v1m0 31v1m0 8v1m0 28v1m0 14v1m0 42v1m0 44v1m0 46v1m1-375v1m0 37v1m0 37v1m0 78v1m0 40v1m0 43v1m0 20v1m0 21v1m0 44v1m1-328v1m0 37v1m0 37v1m0 35v1m0 36v1m0 5v1m0 40v2m0 42v1m0 20v1m0 21v2m0 14v1m0 28v1m0 8v1m1-337v1m0 37v1m0 73v1m0 36v1m0 5v1m0 41v1m0 26v1m0 15v1m0 43v1m0 43v1m1-328v1m0 37v1m0 37v1m0 35v1m0 36v1m0 36v1m0 10v1m0 42v1m0 43v1m0 43v1m0 86v1m1-415v1m0 37v1m0 37v1m0 35v1m0 73v1m0 73v1m0 37v1m0 37v1m1-298v1m0 37v1m0 35v1m0 110v1m1-223v1m0 37v1m0 37v1m0 71v1m0 74v1m1-223v1m0 37v1m0 72v1m0 3v1m0 32v1m0 36v1m0 73v1m1-259v1m0 37v1m0 72v1m0 3v1m0 32v1m0 36v1m0 192v1m1-378v1m0 37v1m0 36v1m0 35v1m0 3v1m0 32v1m0 49v1m0 23v1m0 73v1m0 33v1m0 3v1m0 38v1m0 4v2m1-379v1m0 37v1m0 36v1m0 35v1m0 42v1m0 43v1m0 41v1m0 17v1m0 25v1m0 45v1m0 48v1m1-379v1m0 37v1m0 36v1m0 35v1m0 42v1m0 29v1m0 13v1m0 41v1m0 43v1m0 10v1m0 34v2m0 47v2m1-380v1m0 37v1m0 36v1m0 38v1m0 32v1m0 6v1m0 29v1m0 13v2m0 21v1m0 18v1m0 43v1m0 10v1m0 35v1m0 1v1m0 38v1m0 7v1m1-380v2m0 36v1m0 75v1m0 32v1m0 6v2m0 28v1m0 14v1m0 21v1m0 18v1m0 16v1m0 26v2m0 45v1m0 1v1m1-332v1m0 36v1m0 71v1m0 36v1m0 7v1m0 43v1m0 40v1m0 44v1m0 85v1m1-370v1m0 36v1m0 35v1m0 35v1m0 36v1m0 7v1m0 84v1m0 44v1m0 8v1m0 37v1m1-331v1m0 36v1m0 35v1m0 35v1m0 109v1m0 35v1m1-255v1m0 36v1m0 35v1m0 35v1m0 109v1m0 161v1m1-381v1m0 36v1m0 35v1m0 35v1m0 35v1m0 235v2m1-382v1m0 36v1m0 107v1m0 108v1m0 77v1m0 49v1m1-382v1m0 112v1m0 31v1m0 72v1m0 72v1m0 37v1m0 2v1m0 49v2m1-383v1m0 71v1m0 35v1m0 4v1m0 41v1m0 42v1m0 86v1m0 46v2m0 33v1m0 15v1m1-383v1m0 35v1m0 35v1m0 35v1m0 4v1m0 41v1m0 24v1m0 17v1m0 41v1m0 12v1m0 31v1m0 47v1m1-333v1m0 35v1m0 35v1m0 2v1m0 32v1m0 4v2m0 29v1m0 10v1m0 24v1m0 17v1m0 18v1m0 22v1m0 44v1m0 4v1m0 37v1m1-328v1m0 35v1m0 35v1m0 2v1m0 32v1m0 5v1m0 29v1m0 10v2m0 23v1m0 17v2m0 17v1m0 22v2m0 43v2m1-286v1m0 35v1m0 35v1m0 2v1m0 38v1m0 41v1m0 42v1m0 41v1m0 10v1m0 33v1m1-323v1m0 36v1m0 35v1m0 38v1m0 80v1m0 42v1m0 41v1m0 44v1m0 99v1m1-423v1m0 36v1m0 35v1m0 38v1m0 31v1m0 35v1m0 35v1m0 36v1m0 169v2m1-424v1m0 36v1m0 35v1m0 34v1m0 3v1m0 31v1m0 35v1m0 107v1m0 36v1m0 37v1m0 37v1m0 22v2m1-425v1m0 36v1m0 35v1m0 34v1m0 3v1m0 31v1m0 227v1m0 52v2m1-426v1m0 36v1m0 35v1m0 34v1m0 35v1m0 70v1m0 36v1m0 34v1m0 84v2m1-373v1m0 36v1m0 35v1m0 34v1m0 70v1m0 35v1m0 36v1m0 34v1m0 36v1m0 37v1m0 10v2m1-374v1m0 36v1m0 35v1m0 34v1m0 42v1m0 27v1m0 14v1m0 179v1m1-374v1m0 36v1m0 70v1m0 34v1m0 7v1m0 42v1m0 41v1m0 42v1m0 45v1m0 35v1m1-361v2m0 35v1m0 105v1m0 7v1m0 42v1m0 19v1m0 21v1m0 14v1m0 27v1m0 6v1m0 36v1m0 1v1m1-324v1m0 35v1m0 34v1m0 2v1m0 75v1m0 26v1m0 15v2m0 18v1m0 21v1m0 42v1m0 45v2m0 71v1m1-397v1m0 35v1m0 34v1m0 2v1m0 31v1m0 4v1m0 38v1m0 26v1m0 16v1m0 40v1m0 42v1m0 46v1m1-325v1m0 35v1m0 34v1m0 2v1m0 31v1m0 4v1m0 29v1m0 8v1m0 43v1m0 40v1m0 13v1m0 28v1m0 5v1m0 91v1m1-376v1m0 70v1m0 34v1m0 4v1m0 29v1m0 70v1m0 22v1m0 42v1m0 97v2m1-377v1m0 35v1m0 34v1m0 34v1m0 4v1m0 64v1m0 35v1m0 107v1m0 56v1m1-377v1m0 35v1m0 34v1m0 1v1m0 37v1m0 64v1m0 106v1m0 73v1m0 19v2m1-378v1m0 35v1m0 34v1m0 1v1m0 37v1m0 215v1m0 50v1m1-378v1m0 104v1m0 34v1m0 70v1m0 35v1m0 71v1m0 7v2m1-328v1m0 69v1m0 34v1m0 34v1m0 11v1m0 22v1m0 35v1m0 70v1m0 45v1m1-328v1m0 34v1m0 34v1m0 34v1m0 46v1m0 22v1m0 18v1m0 41v1m0 43v1m0 47v2m1-329v1m0 34v1m0 34v1m0 81v1m0 41v1m0 41v1m0 9v1m0 33v1m0 48v1m0 25v1m0 25v1m1-381v1m0 34v1m0 34v1m0 68v1m0 12v1m0 41v1m0 15v1m0 25v1m0 44v1m0 99v2m1-382v1m0 34v1m0 68v1m0 34v1m0 12v1m0 21v1m0 19v1m0 41v2m0 79v1m0 64v2m0 8v1m1-357v1m0 68v1m0 6v1m0 27v1m0 12v1m0 21v1m0 19v1m0 42v1m0 7v1m0 137v2m1-349v1m0 33v1m0 3v1m0 30v1m0 6v1m0 62v1m0 19v1m0 14v1m0 27v1m1-238v1m0 35v1m0 33v1m0 3v1m0 37v1m0 97v1m0 122v1m0 20v1m1-354v1m0 35v1m0 33v1m0 3v1m0 37v2m0 25v1m0 34v1m0 70v1m0 70v1m0 16v2m1-334v1m0 73v1m0 29v1m0 8v1m0 25v1m0 34v1m0 34v1m0 70v1m0 35v1m0 17v2m0 52v1m1-388v1m0 73v1m0 29v1m0 8v1m0 171v1m0 49v1m0 52v2m1-389v1m0 36v2m0 30v1m0 4v1m0 29v1m0 50v1m0 129v1m1-285v1m0 37v1m0 30v1m0 68v1m0 16v1m0 17v1m0 23v1m0 10v1m0 31v1m0 38v1m0 5v2m0 65v1m0 38v1m1-391v1m0 34v1m0 2v1m0 99v1m0 16v1m0 17v1m0 23v1m0 10v1m0 31v1m0 2v1m0 42v1m1-286v1m0 34v1m0 67v1m0 34v1m0 16v2m0 40v1m0 42v1m0 45v1m0 27v1m0 23v1m1-338v1m0 34v1m0 32v1m0 34v1m0 52v1m0 40v1m0 42v1m0 37v1m0 59v2m0 56v1m1-396v1m0 34v1m0 32v1m0 34v1m0 10v1m0 41v1m0 15v1m0 24v1m0 9v1m0 32v1m0 1v1m0 96v1m0 10v1m0 45v1m1-396v1m0 34v1m0 32v1m0 45v1m0 22v1m0 34v1m0 24v1m0 42v1m0 98v2m1-375v1m0 34v1m0 34v1m0 38v1m0 39v1m0 22v1m0 202v1m1-375v1m0 34v1m0 34v1m0 38v1m0 27v1m0 11v2m0 90v1m0 34v1m0 47v1m0 22v1m0 36v1m1-384v1m0 34v1m0 66v1m0 6v1m0 27v1m0 12v1m0 55v1m0 104v1m0 12v2m1-325v1m0 71v1m0 29v1m0 6v2m0 26v1m0 12v1m0 20v1m0 153v2m1-326v1m0 68v1m0 2v1m0 29v1m0 7v1m0 60v1m0 68v1m0 34v1m0 1v1m0 48v2m0 18v1m0 32v1m0 40v1m1-420v1m0 33v1m0 34v1m0 2v1m0 37v1m0 80v1m0 13v1m0 71v2m0 100v2m1-380v1m0 33v1m0 34v1m0 2v1m0 63v1m0 54v1m0 41v1m0 44v1m0 101v1m1-380v1m0 33v1m0 34v1m0 2v1m0 28v1m0 34v1m0 33v1m0 20v1m0 47v1m0 38v2m1-279v1m0 33v1m0 34v1m0 2v1m0 28v1m0 34v1m0 33v1m0 20v1m0 41v2m0 44v1m1-279v1m0 33v1m0 66v1m0 49v1m0 39v1m0 12v1m0 29v1m0 38v1m0 55v1m0 14v1m1-344v1m0 33v1m0 66v1m0 49v1m0 39v1m0 42v1m0 3v1m0 90v2m0 55v1m1-386v1m0 33v1m0 33v1m0 42v1m0 23v1m0 15v1m0 17v1m0 160v2m0 54v2m0 29v1m1-417v1m0 33v1m0 33v1m0 42v1m0 23v1m0 15v2m0 50v1m0 68v1m0 34v1m0 23v2m0 54v2m1-388v1m0 33v1m0 33v1m0 31v1m0 10v1m0 40v1m0 84v1m0 44v1m0 105v2m1-389v1m0 33v1m0 33v1m0 31v1m0 10v1m0 40v1m0 15v1m0 113v1m0 59v1m1-342v1m0 36v1m0 35v1m0 26v1m0 10v1m0 22v1m0 33v1m0 33v1m0 79v2m0 94v1m1-378v1m0 36v1m0 35v1m0 26v1m0 10v1m0 22v1m0 57v1m0 43v1m0 46v1m0 51v1m0 5v1m0 51v2m1-394v1m0 36v1m0 29v1m0 5v1m0 118v1m0 43v1m0 33v1m0 12v1m0 21v1m0 29v2m0 57v3m1-396v1m0 32v1m0 33v1m0 5v1m0 93v1m0 24v1m0 8v1m0 35v1m0 98v2m0 58v2m1-397v1m0 32v1m0 33v1m0 5v1m0 25v1m0 33v1m0 58v2m0 7v1m0 35v1m0 99v2m0 1v1m1-307v1m0 2v1m0 30v1m0 5v1m0 25v1m0 33v1m0 59v1m0 41v1m0 1v1m0 31v1m0 34v1m1-271v1m0 2v1m0 62v1m0 52v1m0 13v1m0 26v1m0 75v1m0 17v1m0 113v1m1-402v1m0 33v1m0 79v1m0 38v1m0 13v1m0 33v1m0 86v2m0 54v1m0 58v3m1-405v1m0 33v1m0 32v1m0 46v1m0 18v1m0 19v1m0 81v1m0 53v2m0 53v2m0 59v2m1-406v1m0 66v1m0 31v1m0 14v1m0 38v2m0 113v1m0 21v2m0 47v1m0 5v2m0 28v1m1-375v1m0 66v1m0 31v1m0 14v1m0 39v1m0 11v1m0 33v1m0 40v1m0 61v1m0 42v1m1-346v1m0 32v1m0 80v1m0 39v1m0 11v1m0 67v1m0 6v2m1-242v1m0 32v1m0 40v1m0 39v1m0 17v1m0 63v1m0 45v1m1-209v1m0 3v1m0 28v1m0 7v1m0 23v1m0 33v1m0 63v1m0 2v1m0 42v2m0 23v1m0 26v1m0 55v2m1-318v1m0 3v1m0 28v1m0 7v1m0 23v1m0 66v1m0 30v2m0 1v1m0 43v1m0 50v2m0 55v3m1-354v1m0 33v1m0 3v1m0 36v2m0 121v1m0 97v2m0 4v1m0 51v2m0 17v1m1-373v1m0 37v2m0 36v1m0 55v1m0 65v1m0 34v1m0 63v2m0 38v1m1-333v1m0 34v1m0 26v1m0 9v1m0 21v1m0 57v1m0 8v1m0 33v1m1-199v1m0 3v1m0 28v1m0 5v1m0 26v1m0 31v1m0 57v1m0 8v1m0 81v1m0 18v1m0 92v2m1-360v1m0 3v1m0 28v1m0 82v1m0 14v1m0 24v1m0 90v1m0 88v1m0 23v3m1-395v1m0 32v1m0 32v1m0 82v1m0 14v1m0 24v2m0 40v1m0 49v1m0 51v1m0 1v1m0 59v2m1-396v1m0 65v1m0 31v1m0 31v1m0 18v1m0 40v1m0 6v1m0 36v1m0 29v1m0 16v2m0 52v3m1-337v1m0 35v1m0 61v1m0 31v1m0 18v1m0 40v1m0 43v2m0 46v1m0 54v2m0 62v1m1-401v1m0 31v1m0 3v1m0 73v1m0 38v1m0 13v1m0 66v1m0 4v1m0 61v1m0 105v2m1-404v1m0 31v1m0 32v1m0 44v2m0 37v1m0 13v1m0 32v1m0 38v2m0 26v1m0 140v2m1-405v1m0 31v1m0 32v1m0 6v1m0 24v1m0 13v1m0 17v1m0 66v1m0 39v1m0 49v1m0 44v1m0 10v2m0 22v1m1-366v1m0 31v1m0 32v1m0 6v1m0 24v1m0 13v2m0 16v1m0 156v2m0 55v3m0 63v2m1-410v1m0 1v1m0 29v1m0 32v1m0 6v1m0 39v1m0 79v1m0 94v2m0 56v2m0 63v2m1-409v1m0 29v1m0 39v1m0 89v1m0 29v1m0 2v1m0 92v2m0 5v1m0 116v2m1-411v1m0 29v1m0 39v1m0 23v1m0 31v1m0 63v1m0 68v1m0 138v1m1-401v1m0 2v1m0 33v1m0 27v1m0 7v1m0 23v1m0 31v1m0 22v1m0 40v2m0 44v1m0 111v2m0 65v3m1-420v1m0 2v1m0 33v1m0 27v1m0 86v1m0 9v1m0 65v1m0 10v2m0 54v1m0 56v3m1-354v1m0 2v1m0 28v1m0 4v1m0 27v1m0 86v1m0 9v1m0 77v2m0 51v1m0 60v2m0 8v1m0 35v1m1-400v1m0 31v1m0 4v2m0 26v1m0 30v1m0 31v1m0 23v1m0 88v2m0 50v1m1-293v1m0 31v1m0 5v1m0 57v1m0 16v1m0 14v1m0 23v1m0 41v1m0 32v1m0 32v1m0 33v1m0 33v1m0 30v2m0 38v1m1-399v1m0 31v1m0 5v1m0 74v1m0 38v1m0 8v1m0 133v2m0 63v2m1-361v1m0 31v1m0 31v1m0 10v1m0 37v1m1-113v1m0 31v1m0 31v1m0 10v1m0 19v1m0 17v2m0 12v1m0 65v1m0 2v1m0 48v1m1-245v1m0 31v1m0 31v1m0 10v2m0 18v1m0 18v1m0 12v1m0 32v1m0 35v2m0 47v2m0 53v2m0 24v1m0 41v2m1-369v1m0 2v1m0 60v1m0 11v1m0 18v1m0 18v1m0 82v1m0 27v1m0 20v2m0 10v1m0 33v1m0 8v2m0 58v1m0 7v3m1-371v1m0 2v1m0 72v1m0 77v1m0 37v1m0 4v2m0 48v2m0 122v2m1-369v1m0 27v1m0 94v1m0 27v2m0 3v1m0 38v1m0 126v1m1-322v2m0 26v1m0 6v1m0 24v1m0 30v1m0 31v1m0 28v1m0 68v1m0 32v1m0 51v2m0 49v1m0 16v2m1-379v1m0 4v1m0 26v1m0 6v1m0 24v1m0 30v1m0 60v2m0 34v1m0 118v3m0 67v1m1-381v1m0 4v1m0 26v1m0 7v1m0 23v1m0 92v1m0 1v1m0 92v1m0 60v2m0 80v1m1-395v1m0 31v1m0 7v1m0 23v1m0 51v1m0 9v1m0 32v1m0 42v1m0 21v1m0 27v2m0 105v1m0 27v1m1-387v1m0 31v1m0 7v1m0 53v1m0 21v1m0 9v1m0 64v1m0 10v2m0 49v2m0 35v1m0 99v2m0 2v1m1-394v1m0 77v1m0 15v1m0 21v1m0 86v1m0 50v1m0 1v1m0 60v3m0 77v1m1-397v1m0 30v1m0 31v1m0 14v1m0 37v1m0 41v1m0 44v2m0 114v3m0 1v1m0 34v1m0 38v3m1-368v1m0 31v1m0 14v1m0 38v1m0 7v1m0 64v1m0 13v1m0 194v2m1-369v1m0 46v1m0 14v1m0 23v1m0 104v1m0 36v2m0 66v1m1-328v1m0 5v1m0 25v1m0 46v1m0 14v1m0 65v1m0 100v3m0 25v1m0 39v3m1-331v1m0 5v1m0 25v1m0 30v1m0 15v1m0 45v1m0 34v1m0 29v1m0 64v1m0 7v2m0 66v2m1-332v1m0 5v1m0 35v1m0 20v1m0 61v1m0 34v2m0 47v1m0 12v1m1-251v1m0 28v1m0 5v1m0 35v1m0 50v1m0 63v1m0 3v1m0 47v2m0 125v3m1-370v1m0 2v1m0 28v1m0 5v1m0 24v1m0 10v1m0 146v1m0 20v2m0 56v2m0 51v1m0 19v1m0 14v1m1-388v1m0 2v1m0 34v1m0 24v1m0 10v2m0 18v1m0 56v1m0 4v1m0 86v2m0 8v1m0 47v3m1-303v1m0 2v2m0 33v1m0 24v1m0 11v1m0 48v1m0 26v2m0 35v1m0 96v1m0 17v2m0 72v3m1-379v1m0 3v1m0 26v1m0 43v1m0 37v1m0 10v1m0 27v1m0 2v1m0 41v1m0 22v1m0 97v1m0 60v4m1-378v1m0 26v1m0 61v1m0 19v1m0 10v1m0 28v1m0 1v1m0 41v2m0 49v1m0 59v2m0 78v1m1-357v1m0 30v1m0 30v1m0 19v1m0 39v1m0 1v1m0 31v1m0 10v1m0 49v2m0 59v3m0 76v4m1-392v1m0 31v1m0 30v1m0 50v1m0 9v1m0 74v2m0 19v1m0 29v1m0 61v2m0 107v1m1-421v1m0 62v1m0 50v1m0 85v1m0 83v1m0 111v3m1-398v1m0 39v1m0 52v1m0 20v1m0 40v1m0 31v1m0 130v2m0 78v4m1-401v1m0 30v1m0 8v1m0 36v1m0 45v1m0 31v1m0 63v1m0 31v1m0 67v3m0 28v1m0 55v3m1-408v1m0 30v1m0 8v1m0 21v1m0 14v1m0 45v1m0 32v1m0 100v1m0 58v1m0 4v2m0 27v1m0 57v3m0 5v3m1-418v1m0 4v1m0 25v1m0 8v2m0 20v1m0 29v1m0 63v2m0 28v1m0 16v1m0 53v3m0 67v2m0 55v1m1-384v1m0 4v1m0 25v1m0 9v1m0 20v1m0 14v2m0 13v1m0 61v1m0 2v1m0 28v1m0 16v2m0 13v1m0 40v2m0 67v3m1-325v1m0 35v1m0 36v1m0 37v1m0 5v1m0 34v2m0 45v2m0 109v1m0 14v2m1-326v2m0 71v1m0 37v1m0 5v1m0 35v1m0 46v2m0 74v1m0 54v3m1-339v1m0 6v1m0 23v1m0 30v1m0 29v1m0 24v1m0 36v1m0 31v1m0 31v1m0 45v2m0 73v1m0 1v2m1-342v1m0 6v1m0 23v1m0 30v1m0 54v2m0 35v1m0 94v1m0 15v3m0 80v1m1-348v1m0 30v1m0 86v1m0 3v1m0 144v2m0 45v1m0 34v2m1-350v1m0 30v1m0 59v1m0 26v1m0 66v1m0 24v2m0 138v2m1-351v1m0 42v1m0 17v1m0 29v1m0 61v1m0 8v1m0 48v3m0 59v1m0 6v1m0 74v3m1-314v1m0 17v1m0 18v1m0 40v1m0 40v2m0 49v2m0 1v1m0 56v4m0 80v4m1-330v1m0 12v1m0 36v1m0 40v1m0 41v2m0 19v1m0 62v1m0 28v2m0 86v3m1-367v1m0 8v1m0 21v1m0 12v2m0 35v1m0 9v1m0 73v1m0 117v2m0 28v1m0 53v4m0 4v3m1-377v1m0 8v1m0 35v1m0 15v1m0 19v2m0 8v1m0 61v1m0 65v1m0 64v3m0 90v2m1-378v1m0 8v1m0 35v1m0 15v1m0 20v1m0 40v1m0 95v2m0 58v1m0 6v2m0 97v3m1-387v1m0 8v1m0 20v1m0 92v1m0 91v1m0 4v2m0 70v2m0 85v1m0 7v3m0 5v3m1-388v1m0 20v1m0 59v1m0 32v2m0 27v1m0 15v1m0 14v1m0 37v2m0 70v3m0 101v1m0 7v2m1-397v1m0 20v1m0 29v1m0 29v1m0 29v1m0 3v1m0 43v2m0 125v2m0 47v1m1-369v1m0 23v1m0 60v1m0 59v1m0 48v2m0 43v1m0 12v2m0 16v1m0 55v3m1-328v1m0 23v1m0 151v1m0 18v2m0 10v1m0 45v3m0 46v1m0 25v2m0 5v1m1-335v1m0 23v1m0 29v1m0 16v1m0 37v1m0 4v1m0 140v2m0 79v2m1-337v1m0 23v1m0 29v1m0 16v1m0 12v1m0 24v1m0 4v1m0 29v1m0 156v1m0 35v4m1-340v1m0 70v1m0 12v1m0 24v1m0 41v1m0 48v2m0 58v2m0 82v3m1-275v1m0 37v2m0 40v2m0 48v2m0 34v1m0 23v3m0 4v1m0 77v4m0 5v3m0 8v1m1-343v1m0 11v1m0 35v1m0 38v1m0 2v1m0 29v1m0 8v2m0 20v1m0 27v2m0 59v2m0 92v4m0 39v1m1-407v1m0 29v1m0 11v2m0 16v1m0 17v1m0 11v1m0 69v2m0 48v1m0 159v2m1-371v1m0 29v1m0 12v1m0 16v1m0 214v3m0 28v1m0 66v3m0 4v3m1-382v1m0 42v2m0 74v1m0 29v1m0 61v1m0 65v4m0 101v4m0 5v3m1-349v1m0 44v1m0 124v2m0 26v1m0 42v2m0 106v3m0 4v3m1-394v1m0 20v1m0 29v1m0 104v1m0 50v3m0 69v2m0 113v2m0 6v3m1-413v1m0 8v1m0 20v1m0 29v1m0 58v1m0 29v1m0 15v2m0 13v1m0 37v1m0 54v1m0 15v2m0 122v3m0 4v6m1-425v1m0 8v2m0 19v1m0 50v1m0 7v1m0 30v2m0 44v2m0 127v3m0 7v1m1-305v1m0 9v1m0 70v2m0 38v2m0 44v2m0 41v1m0 13v2m0 71v4m1-300v1m0 9v1m0 48v1m0 22v1m0 35v1m0 3v2m0 24v1m0 76v3m0 13v1m0 64v1m1-277v1m0 16v1m0 12v1m0 22v2m0 4v1m0 29v1m0 108v2m0 77v4m1-280v1m0 16v1m0 36v1m0 4v1m0 89v1m0 30v1m0 61v1m0 41v7m1-320v1m0 29v1m0 16v1m0 100v1m0 23v2m0 59v2m0 6v1m0 83v3m1-327v1m0 46v2m0 10v1m0 58v1m0 54v3m0 58v3m0 90v3m0 4v1m1-334v1m0 47v1m0 10v1m0 28v1m0 37v1m0 48v2m0 1v1m0 57v1m0 3v1m0 96v3m0 4v3m0 21v1m1-368v1m0 28v1m0 18v1m0 77v2m0 19v1m0 95v2m0 101v4m0 3v3m0 12v1m1-357v1m0 17v1m0 56v1m0 30v1m0 9v2m0 79v1m0 35v3m0 108v4m0 4v3m0 35v1m1-390v2m0 16v1m0 57v1m0 40v2m0 47v1m0 2v2m0 57v1m0 6v2m0 118v1m0 1v1m0 4v6m1-379v1m0 12v1m0 45v1m0 87v1m0 34v3m0 67v3m0 15v1m0 31v1m0 80v6m0 4v6m1-398v1m0 12v2m0 74v1m0 27v1m0 66v2m0 22v1m0 45v4m0 144v1m0 1v5m0 4v2m1-414v1m0 13v1m0 14v1m0 59v1m0 172v3m1-264v1m0 28v1m0 20v1m0 7v1m0 74v2m0 11v1m0 117v4m1-238v1m0 20v2m0 6v1m0 57v1m0 17v2m0 40v1m0 11v2m0 48v1m0 32v1m0 1v1m1-222v1m0 34v1m0 48v2m0 52v4m0 75v1m0 4v4m1-277v1m0 51v2m0 83v2m0 7v1m0 46v2m0 12v1m0 73v3m1-283v1m0 28v1m0 23v1m0 4v1m0 33v1m0 23v1m0 59v1m0 22v2m0 67v1m0 14v4m0 4v3m1-264v1m0 28v1m0 27v1m0 5v2m0 106v3m0 90v3m0 5v3m1-321v1m0 32v1m0 70v1m0 6v2m0 47v1m0 2v1m0 56v2m0 2v1m0 30v1m0 65v3m0 4v6m1-333v1m0 16v1m0 15v2m0 77v2m0 19v1m0 26v2m0 31v1m0 144v6m0 6v4m1-353v1m0 16v1m0 16v1m0 11v1m0 28v1m0 85v1m0 63v3m0 129v7m0 3v7m1-373v2m0 15v1m0 16v2m0 10v1m0 28v1m0 27v1m0 58v1m0 64v4m0 145v4m0 2v1m0 3v5m0 5v6m0 4v6m0 4v3m1-417v1m0 33v1m0 10v1m0 25v1m0 59v1m0 102v3m0 77v1m0 102v3m1-419v1m0 70v2m0 42v1m0 15v1m0 34v2m0 53v1m0 14v4m1-224v1m0 85v1m0 13v2m0 14v1m0 28v1m0 6v3m0 20v1m0 52v3m1-230v1m0 28v1m0 28v1m0 42v2m0 51v2m0 74v4m0 32v1m1-237v1m0 55v1m0 16v2m0 11v1m0 122v3m0 155v1m1-425v1m0 113v1m0 58v1m0 14v2m0 13v1m0 65v3m1-271v1m0 27v1m0 20v1m0 36v1m0 27v1m0 74v3m0 41v1m0 41v7m1-266v1m0 12v1m0 20v2m0 6v1m0 28v1m0 56v1m0 47v2m0 70v1m0 21v6m1-275v1m0 12v1m0 21v1m0 6v1m0 32v1m0 44v2m0 35v1m0 122v6m1-301v1m0 15v1m0 34v2m0 38v2m0 21v1m0 22v3m0 58v2m0 63v1m0 41v7m0 3v7m0 4v2m1-327v1m0 15v2m0 34v1m0 33v1m0 5v1m0 46v2m0 2v1m0 55v2m0 92v1m0 33v4m0 3v2m0 1v3m0 4v6m0 4v2m0 2v2m0 4v6m0 4v1m0 1v4m0 3v6m0 4v6m0 4v6m0 4v6m0 5v2m1-425v1m0 16v1m0 10v1m0 28v1m0 34v2m0 108v1m0 121v1m1-307v1m0 10v1m0 28v1m0 35v1m0 19v1m0 93v3m1-124v1m0 56v1m0 1v1m0 26v1m0 37v4m0 18v1m0 123v1m1-356v1m0 144v2m0 70v3m1-219v1m0 27v1m0 84v1m0 32v2m0 53v1m0 17v4m1-222v1m0 27v1m0 56v1m0 11v1m0 49v2m0 22v1m0 55v3m1-209v1m0 76v2m0 130v1m0 61v1m1-271v1m0 77v2m0 12v1m0 28v1m0 11v2m0 45v1m0 35v4m0 1v1m0 18v1m1-261v1m0 27v1m0 56v1m0 14v2m0 53v3m0 88v7m0 134v1m1-387v1m0 20v2m0 5v1m0 128v2m0 97v4m0 138v4m0 4v6m0 4v2m1-417v1m0 21v1m0 89v1m0 28v1m0 21v2m0 5v1m0 96v5m0 3v7m0 73v6m0 3v7m0 3v7m0 3v2m0 1v3m0 4v3m1-374v1m0 33v1m0 48v2m0 57v3m0 117v5m0 5v7m0 3v7m0 3v6m0 4v6m0 4v6m0 3v7m1-322v1m0 28v1m0 5v1m0 43v3m0 57v2m0 31v1m1-200v1m0 27v1m0 34v2m0 19v1m0 24v2m0 1v1m0 28v1m0 28v1m0 2v2m0 146v1m1-321v1m0 63v1m0 109v3m0 52v1m1-173v1m0 7v2m0 110v2m0 111v1m1-264v1m0 30v1m0 8v1m0 17v1m0 27v1m0 2v2m0 65v3m1-184v1m0 25v1m0 89v3m0 65v4m0 11v1m1-199v1m0 26v1m0 90v2m0 20v1m0 28v1m0 24v4m0 200v4m0 3v6m1-354v1m0 13v1m0 12v1m0 27v1m0 90v3m0 23v1m0 148v3m0 5v6m0 3v3m1-397v1m0 56v1m0 13v2m0 11v1m0 120v3m0 4v3m0 43v1m0 97v4m0 4v6m0 4v3m1-376v1m0 71v2m0 50v3m0 13v1m0 28v1m0 44v4m0 4v3m0 100v4m0 3v7m0 3v7m0 3v3m1-354v1m0 55v1m0 16v1m0 9v1m0 27v1m0 14v4m0 68v1m0 25v3m0 4v7m0 3v3m0 44v1m0 12v6m0 4v6m0 4v3m1-267v1m0 186v4m0 3v6m0 4v6m0 4v6m0 4v6m0 4v6m0 22v1m1-291v1m0 4v1m0 100v3m1-136v1m0 27v1m0 4v2m0 43v2m0 3v1m0 27v1m0 24v3m1-138v1m0 33v1m0 21v1m0 22v2m0 87v1m0 58v1m0 175v2m1-370v2m0 44v2m0 61v2m0 52v1m0 185v4m0 4v6m1-369v1m0 7v1m0 46v1m0 27v1m0 34v4m0 77v1m0 142v7m0 3v1m1-380v1m0 27v1m0 27v1m0 82v1m0 13v3m0 195v4m0 4v6m1-364v1m0 86v1m0 67v4m0 38v1m0 139v7m0 3v1m1-307v1m0 41v1m0 4v2m0 21v1m0 27v1m0 23v3m0 61v1m0 28v1m0 62v3m0 5v3m0 2v1m1-304v1m0 12v2m0 13v1m0 32v2m0 48v1m0 25v2m0 6v3m0 129v6m0 4v1m1-315v1m0 27v1m0 13v2m0 12v1m0 33v2m0 83v4m0 5v2m0 101v2m0 5v6m1-299v1m0 27v1m0 14v2m0 37v1m0 27v1m0 56v1m0 17v3m0 4v4m0 2v1m0 3v3m0 56v7m0 4v6m0 4v3m0 110v3m1-342v1m0 41v2m0 39v1m0 65v4m0 3v7m0 3v4m0 2v1m0 3v6m0 4v6m0 3v4m0 2v1m0 122v1m0 1v6m0 4v3m1-366v1m0 27v1m0 42v4m0 267v4m1-373v1m0 81v1m0 27v1m0 56v1m0 190v7m1-364v1m0 47v2m0 56v3m0 116v1m0 89v1m0 23v3m0 6v5m1-325v1m0 21v4m0 2v1m0 52v1m0 2v1m0 215v4m0 4v3m1-285v2m0 27v1m0 34v2m0 19v1m0 57v1m0 120v3m0 4v3m1-326v1m0 118v3m0 185v1m0 5v1m0 76v4m1-393v1m0 26v1m0 27v1m0 70v3m0 37v1m0 86v1m0 37v6m0 4v2m0 76v6m1-384v1m0 26v1m0 27v1m0 1v2m0 22v1m0 27v1m0 18v4m0 5v1m0 28v1m0 28v1m0 28v1m0 28v1m0 25v3m0 1v2m0 29v1m0 30v1m0 21v6m0 4v1"/>
<path id="dewpoint" stroke="#0000ff" d="M364 76.5h2m-3 5h2m-3 6h2m-3 5h2m-3 5h2m-3 5h2m-3 6h2m-3 5h2m-3 5h2m-3 4h2m-238 2h6m40 0h7m16 0h2m29 0h10m125 2h2m-224 3h6m40 0h5m12 0h5m3 0h5m24 0h5m6 0h5m2 0h5m4 0h7m-95 1h2m10 0h2m8 0h2m46 0h2m110 0h2m-209 1h2m17 0h6m-40 1h8m91 0h8m-107 3h2m132 0h2m-143 1h2m56 0h2m75 0h2m91 0h2m-235 1h5m10 0h3m42 0h3m25 0h2m24 0h3m25 0h3m87 5h2m-2 19h2m-1 10h2m-1 9h2m-1 8h2m-1 9h2m-1 5h2m-1 2h2m-1 2h2m-1 2h2m-1 2h2m-1 2h2m-1 2h2m-1 2h2m-1 3h2m-1 2h2m-1 2h2m-1 3h2m-1 2h2m-1 2h2m-1 2h2m-1 3h2m-1 2h2m-1 2h2m-1 2h2m-1 2h2m-1 2h2m-1 2h2m-1 2h2m-1 1h2m-1 2h2m-1 2h2m-1 2h2m-1 2h2m-1 2h2m-1 2h2m-1 2h2m-1 2h2m-1 2h2m-1 2h2m-1 2h2m-1 1h2m-1 2h2m-1 2h2m-1 2h2m-1 2h2m-1 2h2m-1 2h2m-1 2h2m-1 2h2m-1 2h2m-1 2h2m-1 2h2m-1 2h2m-1 2h2m-1 2h2m-1 2h2m-1 2h2m-1 2h2m-1 2h2m-1 2h2m-1 2h2m-1 2h2m-1 2h2m-1 2h2m-1 3h2m-1 2h2m-1 2h2m-2 10h2m-3 20h2m-3 15h2m-3 8h2m-3 8h2m-3 9h2m-2 5h2m-1 1h3m-2 1h3m-1 1h2m-1 1h3m-2 1h3m-1 1h2m-1 1h3m-2 1h3m-1 1h2m-1 1h2m-1 1h3m-2 1h3m-1 1h2m-1 1h3m-2 1h3m-1 1h2m-1 1h3m-2 1h3m-1 1h2m-1 1h3m-2 1h3m-1 1h2m-1 1h3m-2 1h3m-1 1h2m-1 1h3m-2 1h3m-1 1h2m-1 1h3m-2 1h3m-1 1h3m-2 1h4m-2 1h3m-1 1h3m-2 1h3m-1 1h3m-2 1h3m-1 1h3m-2 1h3m-1 1h3m-2 1h4m-2 1h3m-1 1h3m-2 1h3m-1 1h3m-2 1h4m-2 1h4m-2 1h4m-2 1h4m-2 1h4m-2 1h3m-1 1h3m-2 1h3m-1 1h3m-2 1h4m-2 1h3m-1 1h3m-2 1h3m-1 1h3m-2 1h4m-2 1h3m-1 1h3m-2 1h4m-2 1h4m-2 1h4m-2 1h5m-3 1h5m-2 1h4m-2 1h5m-3 1h6m-3 1h6m-3 1h5m-2 1h5m-3 1h6m-3 1h6m-3 1h6m-3 1h6m-3 1h6m-3 1h5m-2 1h4m-2 1h3m-1 1h2m-1 1h3m-2 1h3m-1 1h3m-2 1h3m-1 1h2m-1 1h3m-2 1h3m-1 1h2m-1 1h3m-2 1h3m-1 1h2m-1 1h3m-2 1h4m-2 1h3M119.5 125v12m6-12v1m1 0v1m0 8v1m1-9v8m4-5v2m0 1v2m2 1v1m4-7v1m0 5v1m1-6v1m0 3v1m3-7v2m1 0v3m1 0v2m1 0v2m1-6v4m1-7v2m1 1v2m1 0v2m1 0v2m1-6v4m1-7v3m14-7v6m0 1v6m7-13v2m1 0v3m3 2v3m1-5v2m0 3v1m1 0v1m6-6v5m4-11v1m0 3v9m5-9v1m0 1v7m6-8v1m1 0v7m5-14v5m0 1v6m1 0v1m17-12v13m7-5v2m1-5v2m0 3v1m1 0v1m4-7v1m0 5v1m1-6v1m0 3v1m4-7v1m0 1v7m6-8v1m1 0v7m1-8v1m5-1v8m5-8v6m0 1v5m5-6v1m2-7v5m85 8v18m1-24v5m0 20v9m1-40v5m0 36v3m0 2v3m1-53v3m0 51v7m1-65v3m0 63v8m1-78v3m0 76v4m1-88v4m0 85v1m1-95v4m0 92v1m1-103v5m0 99v1m1-110v4m0 107v1m1-117v4m0 114v1m1-124v4m0 121v1m1-132v5m0 128v1m1-139v4m0 136v2m1-145v2m0 144v1m1 1v1m1 1v2m1 1v1m1 1v1m1 1v1m1 1v2m1 1v1m1 1v1m1 1v1m1 1v1m1 1v1m1 1v1m1 1v1m2 2v1m1 1v1m1 1v1m1 1v1m1 1v1m1 1v1m1 1v1m1 1v1m1 1v1m1 1v1m1 1v1m2 2v1m1 1v1m1 1v1m1 1v1m1 1v1m1 1v1m1 1v1m1 1v1m1 1v1m1 1v1m1 1v1m1 1v1m1 1v1m1 1v1m1 1v1m1 1v1m1 1v1m1 1v1m1 1v1m1 1v1m1 1v1m0 82v4m1-85v1m0 71v8m1-78v1m0 61v7m1-67v2m0 50v7m1-56v1m0 33v14m1-46v1m0 11v19m1-29v9m156 162v1"/>
<path id="mixing-ratio-parcel" stroke="#4b0082" d="M271 74.5h2m-1 2h2m-1 1h2m-1 1h2m-1 2h2m-1 1h2m-1 1h2m-1 2h2m-1 1h2m-1 1h2m-1 2h2m-1 1h2m-1 2h2m-1 1h2m-1 1h2m-1 2h2m-1 1h2m-1 1h2m-1 2h2m-1 1h2m-1 1h2m-1 2h2m-1 1h2m-1 1h2m-1 2h2m-1 1h2m-1 1h2m-1 2h2m-1 1h2m-1 1h2m-1 2h2m-1 1h2m-1 1h2m-1 1h2m-1 2h2m-1 1h2m-1 1h2m-1 2h2m-1 1h2m-1 1h2m-1 2h2m-1 1h2m-1 1h2m-1 1h2m-1 2h2m-1 1h2m-1 1h2m-1 2h2m-1 1h2m-1 1h2m-1 1h2m-1 2h2m-1 1h2m-1 1h2m-197 1h2m21 0h7m58 0h9m99 1h2m-1 1h2m-1 1h2m-1 1h2m-194 1h4m25 0h5m7 0h4m3 0h5m6 0h5m29 0h6m6 0h5m1 0h5m5 0h6m66 0h2m-197 1h2m22 0h2m10 0h2m3 0h2m12 0h2m48 0h2m4 0h2m83 0h2m-180 1h6m173 0h2m-140 1h8m27 0h8m96 0h2m-215 1h7m207 1h2m-1 1h2m-167 1h3m16 0h2m39 0h2m26 0h2m76 0h2m-171 1h3m16 0h3m8 0h3m32 0h3m25 0h3m74 0h2m-1 1h2m-1 1h2m-1 1h2m-1 1h2m-1 1h2m-1 1h2m-1 1h2m-1 1h2m-1 1h2m-1 2h2m-1 1h2m-1 1h2m-1 1h2m-1 1h2m-1 1h2m-1 1h2m-1 1h2m-1 1h2m-1 1h2m-1 1h2m-1 2h2m-1 1h2m-1 1h2m-1 1h2m-1 1h2m-1 1h2m-1 1h2m-1 2h2m-1 1h2m-1 1h2m-1 1h2m-1 1h2m-1 1h2m-1 1h2m-1 1h3m-2 1h3m-1 1h2m-1 1h2m-1 1h2m-1 1h2m-1 1h2m-1 1h2m-1 1h2m-1 1h2m-1 1h2m-1 1h2m-1 1h2m-1 1h2m-1 1h2m-1 1h2m-1 1h2m-1 1h2m-1 1h2m-1 1h2m-1 1h2m-1 1h2m-1 1h2m-1 1h3m-2 1h2m-1 1h3m-2 1h3m-1 1h2m-1 1h2m-1 1h2m-1 1h2m-1 1h2m-1 1h2m-1 1h3m-2 1h3m-1 1h2m-1 1h2m-1 1h2m-1 1h2m-1 1h2m-1 1h2m-1 1h2m-1 1h2m-1 1h2m-1 1h3m-2 1h3m-1 1h2m-1 1h2m-1 1h2m-1 1h2m-1 1h2m-1 1h2m-1 1h2m-1 1h2m-1 1h2m-1 1h2m-1 1h2m-1 1h2m-1 1h2m-1 1h2m-1 1h2m-1 1h2m-1 1h2m-1 1h2m-1 1h2m-1 1h2m-1 1h2m-1 1h2m-1 1h2m-1 1h2m-1 1h2m-1 1h2m-1 1h2m-1 1h2m-1 1h2m-2 1h3m-1 1h2m-1 1h2m-1 1h2m-1 1h2m-1 1h2m-1 1h2m-1 1h2m-1 1h2m-1 1h2m-1 1h2m-1 1h2m-1 1h2m-1 1h2m-1 1h2m-1 1h2m-1 1h2m-1 1h2m-1 1h2m-1 1h2m-1 1h2m-1 1h2m-1 1h2m-1 1h2m-1 1h2m-1 1h2m-2 1h3m-1 1h2m-1 1h2m-1 2h2m-1 1h2m-1 1h2m-1 1h2m-1 1h2m-1 1h2m-1 1h2m-1 1h2m-1 2h2m-1 1h2m-1 1h2m-1 1h2m-1 1h2m-1 1h2m-1 1h2m-1 2h2m-1 1h2m-1 1h2m-1 1h2m-1 1h2m-1 1h2m-1 2h2m-1 1h2m-1 1h2m-1 1h2m-1 2h2m-1 1h2m-1 1h2m-1 2h2m-1 1h2m-1 2h2m-1 1h2m-1 1h2m-1 2h2m-1 1h2m-1 1h2m-1 2h2m-1 1h2m-1 1h2m-1 2h2m-1 1h2m-2 1h3m-1 2h2m-1 1h2m-1 1h2m-1 2h2m-1 2h2m-1 1h2m-1 2h2m-1 1h2m-1 2h2m-1 2h2m-1 1h2m-1 2h2m-1 2h2m-1 1h2m-1 2h2m-1 2h2m-1 2h2m-1 1h2m-1 2h2m-1 2h2m-1 2h2m-1 2h2m-1 2h2m-1 2h2m-1 2h2m-1 2h2m-1 2h2m-1 2h2m-1 2h2m-1 2h2m-1 3h2m-1 2h2m-1 3h2m-1 2h2m-1 3h2m-1 3h2m-1 3h2m-1 2h2m-1 3h2m-1 4h2m-1 5h2m-1 4h3m-2 1h2m-3 3h2m-1 1h2m-1 5h2m-1 4h2m-1 4h2m-1 4h2m-2 3h2m-1 1h2m-3 2h3m-4 2h5m-6 2h6m-7 2h8m-9 2h9m-10 2h11m-11 2h11m-9 2h10m-8 2h8m-6 2h6m-3 2h4m-2 2h2m-2 2h2m-2 1h3m-1 1h2m-2 1h4m-2 1h4m-2 1h2m9 18h2m76 0h3m-528 1h2m47 0h2m64 0h2m84 0h3m169 0h4m16 0h3m53 0h2m19 0h2m19 0h4m29 0h6m2 0h2m27 0h2m-561 1h2m113 0h2m79 0h3m190 0h2m24 0h2m53 0h4m47 0h2m3 0h3m-419 1h2m84 0h2m120 0h2m26 0h2m69 0h2m102 0h2m5 0h3m-314 1h4m32 0h2m25 0h2m107 0h2m77 0h2m58 0h2m5 0h3m16 0h4m-398 1h2m93 0h3m61 0h4m24 0h2m169 0h3m2 0h3m2 0h2m3 0h2m1 0h2m15 0h2m1 0h2m-510 1h2m148 0h4m53 0h2m90 0h4m21 0h2m67 0h2m42 0h2m3 0h2m25 0h3m3 0h4m1 0h2m-538 1h2m54 0h2m63 0h2m166 0h2m61 0h4m18 0h2m6 0h3m8 0h2m6 0h3m12 0h2m36 0h3m22 0h3m18 0h3m22 0h7m1 0h3m19 0h2m-559 1h2m2 0h2m42 0h2m62 0h2m85 0h2m90 0h2m124 0h2m77 0h2m1 0h2m27 0h3m1 0h2m-525 1h2m39 0h2m64 0h2m3 0h2m206 0h4m194 0h3m3 0h2m9 0h4m16 0h4m-513 1h2m173 0h3m34 0h2m88 0h3m168 0h3m2 0h2m-58 1h2m50 0h5m6 0h2m2 0h4m16 0h4m1 0h2m-119 1h2m23 0h2m50 0h4m-528 1h2m40 0h3m447 0h2m-496 1h2m110 0h3M117.5 157v2m1-4v2m1-5v2m1-5v3m1-5v2m1-4v2m1 0v2m1 0v3m1 0v2m1 1v2m1 0v2m3-13v1m0 3v9m4-9v1m0 1v7m1 366v3m1 0v1m1 0v1m3-5v1m1 0v3m2-13v1m0 1v1m4 0v1m1 0v1m1 0v1m2-24v1m1-353v6m0 1v6m0 338v1m1-3v2m1-3v1m1-2v1m1-2v1m3-347v2m1 0v3m3 2v3m0 329v1m1-335v2m0 3v1m0 326v2m1-328v1m0 324v1m1-3v2m1-3v1m4-330v1m0 1v5m0 1v1m3 313v1m1-323v1m0 1v7m0 312v1m1-3v2m1-3v1m1-2v1m1-2v1m2 59v3m1-376v3m0 369v1m1-375v2m0 3v1m1 0v1m1 301v1m0 70v1m1-73v1m0 72v1m1-76v2m0 68v1m0 3v1m1-76v1m0 71v3m1-76v1m0 63v3m1-365v1m0 296v1m0 63v1m1-2v1m2-363v2m0 362v4m0 2v1m1-374v2m0 3v1m1 0v1m0 363v1m1-2v1m1-75v1m0 51v1m1-55v2m0 51v1m1-341v1m0 285v1m0 51v2m1-346v2m0 3v1m0 284v2m0 51v1m1-55v1m0 52v1m1-2v1m2-348v14m4 273v1m0 52v1m1-55v1m0 52v1m1-55v1m0 51v2m1-55v1m0 51v1m1-54v1m0 51v1m1-54v1m0 51v1m6-61v1m0 52v1m1-55v1m0 52v1m1-326v13m0 258v1m0 51v2m1-55v1m0 51v1m1-54v1m0 51v1m1-54v1m0 51v1m4-316v2m0 1v3m2 250v1m0 51v1m1-54v1m0 51v1m1-54v1m0 50v2m1-54v1m0 50v1m1-305v1m0 5v1m0 245v1m0 50v1m1-303v1m0 3v1m0 245v1m0 50v1m1-53v1m3-252v1m0 1v7m2 287v1m1-54v1m0 51v1m1-54v1m0 50v2m1-54v1m0 50v1m1-291v7m0 231v1m0 50v1m1-53v1m0 50v1m1-53v1m0 136v3m1 0v1m1-6v1m0 5v1m1-6v1m1-374v1m1 0v7m0 273v1m1-53v1m0 50v1m0 94v2m0 1v1m1-151v1m0 50v1m0 87v1m0 9v1m1-151v1m0 50v1m0 87v1m1-141v1m0 50v1m0 87v1m0 3v1m1-370v6m0 1v5m0 213v1m0 50v1m0 87v1m0 2v1m1-144v1m0 146v1m2-1v1m1-4v3m1-365v1m1-7v2m0 3v1m0 341v1m1-346v3m0 263v1m0 77v1m1-131v1m0 50v1m0 76v2m1-131v1m0 49v2m0 76v1m1-130v1m0 49v1m0 77v1m1-130v1m0 49v1m0 77v1m1-130v1m1-2v1m2-288v1m2 331v1m0 77v1m1-407v1m0 326v1m0 76v2m1-131v1m0 49v2m0 76v1m1-130v1m0 49v1m0 76v2m1-399v1m0 268v1m0 49v1m0 76v1m1-129v1m0 49v1m1-52v1m1-264v1m0 261v1m2-260v1m1 381v1m1-80v1m0 77v1m1-378v1m0 297v1m0 76v2m1-80v1m0 76v1m1-128v1m0 48v1m0 76v1m1-370v1m0 241v1m0 48v1m0 76v1m1-129v2m0 48v1m1-52v1m1-236v1m0 233v1m1-2v1m2-230v1m0 352v1m1-3v2m1-79v1m0 75v1m1-347v1m0 268v1m0 74v2m1-128v1m0 48v2m0 74v1m1-127v1m0 48v1m1-263v1m0 211v1m0 48v1m1-51v1m1-2v1m1-2v1m0 198v1m1-404v1m0 202v1m0 123v1m0 73v1m1-76v1m1-3v2m0 77v1m1-400v1m0 243v1m0 74v1m0 80v1m1-158v1m0 74v1m0 82v1m1-160v1m0 74v1m0 84v1m1-399v1m0 236v1m1-51v1m0 48v1m1-51v1m0 48v1m1-52v2m1-181v1m0 177v1m1-2v1m0 122v1m1-125v1m0 122v1m0 66v1m1-363v1m0 293v1m0 66v1m1-144v1m0 74v1m0 65v2m1-144v1m0 74v1m0 65v1m1-143v1m0 74v1m0 65v1m1-353v1m0 209v1m0 140v1m1-143v1m1-51v1m0 48v1m1-205v1m0 153v1m1-3v2m1-3v1m0 122v1m0 65v1m1-191v1m0 122v1m0 65v1m1-191v1m0 121v2m0 64v2m1-143v1m0 73v1m0 65v1m1-142v1m0 73v1m0 65v1m1-143v2m0 139v1m1-326v1m0 182v1m0 188v1m1-191v1m0 186v1m0 1v1m1-191v1m1-49v1m0 237v2m1-241v1m0 120v1m0 119v1m1-244v2m0 120v1m0 65v1m0 55v1m1-246v1m0 120v2m0 64v2m0 57v1m1-248v1m0 120v1m0 65v1m0 47v1m1-237v1m0 120v1m0 64v2m0 47v1m1-189v1m0 72v1m0 64v1m0 48v1m0 4v1m0 4v1m1-199v1m1-3v2m1-3v1m1-157v1m0 154v1m0 197v1m1-200v1m0 195v3m1-248v1m0 119v1m0 65v1m1-188v1m0 119v1m0 64v2m1-189v2m0 118v2m0 64v1m1-188v1m0 119v1m0 64v2m0 42v1m1-231v1m0 119v1m0 64v1m0 42v2m1-231v1m0 227v1m1-182v1m0 178v2m1-182v1m0 178v1m1-182v2m1-133v1m0 129v1m1-2v1m0 70v1m0 65v1m1-139v1m0 70v1m0 64v2m1-186v1m0 117v1m0 64v1m1-185v1m0 117v1m0 63v2m0 42v1m0 35v3m1-267v2m0 117v1m0 63v1m0 42v2m1-229v1m0 118v1m0 106v1m1-295v1m0 66v1m0 224v2m1-228v1m0 45v1m0 178v1m0 41v5m0 1v1m1-229v1m1-2v1m1-2v1m0 134v1m0 92v1m1-230v1m0 70v1m0 63v1m0 92v1m1-230v1m0 70v1m0 62v2m0 41v1m1-179v1m0 70v1m0 62v1m0 42v1m1-226v1m0 117v1m0 62v1m0 41v2m1-226v1m0 117v1m0 104v1m1-226v2m0 117v1m0 104v1m1-2v1m1-226v1m0 256v1m1-259v1m0 46v1m0 208v2m1-212v1m0 132v1m0 75v1m1-212v2m0 132v1m0 74v2m1-212v1m0 70v1m0 62v1m0 74v1m1-211v1m0 70v1m0 62v1m0 41v1m1-178v1m0 70v1m0 62v1m0 41v1m1-107v1m0 62v1m0 40v2m1-107v1m0 103v1m1-223v1m0 116v1m0 103v1m0 31v1m1-255v1m0 251v2m1-255v1m0 251v1m1-254v1m0 177v1m0 72v2m1-254v1m0 44v1m0 132v1m0 72v1m1-253v1m0 176v2m0 39v1m1-176v2m0 69v1m0 61v1m0 40v1m1-176v1m0 70v1m0 61v1m0 39v2m1-176v1m0 69v2m0 61v1m0 39v1m1-175v1m0 69v1m0 102v1m1-105v1m0 135v1m1-138v1m0 134v2m1-3v1m0 52v1m1-305v1m0 248v2m0 52v1m1-306v2m0 175v1m0 72v1m0 52v1m1-305v1m0 176v1m0 39v1m0 93v1m1-313v1m0 45v1m0 129v2m0 39v1m0 95v1m1-315v1m0 45v1m0 68v1m0 60v1m0 40v1m1-174v2m0 68v1m0 60v1m0 40v1m0 92v1m0 2v1m1-270v1m0 68v2m0 101v1m0 94v2m1-270v1m0 68v1m0 102v1m0 30v1m1-205v1m0 68v1m0 133v1m1-136v1m0 132v2m1-3v1m1-250v1m0 174v1m0 72v1m1-250v1m0 174v1m0 39v1m1-218v2m0 173v2m0 39v1m1-218v1m0 174v1m0 40v1m0 80v1m1-299v1m0 45v1m0 67v1m0 60v1m0 40v1m0 79v2m1-299v1m0 45v1m0 67v1m0 101v1m0 29v1m0 49v1m1-253v2m0 66v2m0 101v1m0 29v1m0 48v2m1-253v1m0 67v1m0 131v2m0 48v1m1-252v1m0 67v1m0 131v1m1-134v1m0 131v1m2-74v1m1-176v1m0 173v1m0 39v1m0 78v1m1-295v1m0 172v2m0 38v2m0 77v2m1-295v1m0 172v1m0 39v1m0 78v1m1-294v1m0 172v1m0 39v1m0 30v1m0 46v2m1-294v1m0 43v1m0 67v1m0 100v1m0 29v2m0 46v1m0 39v1m0 1v2m1-336v1m0 43v1m0 67v1m0 130v1m0 94v1m1-340v1m0 43v1m0 66v2m0 129v2m0 91v1m1-226v1m0 130v1m0 94v1m1-295v1m0 66v1m0 225v1m0 1v1m1-297v1m0 66v1m0 59v1m0 38v1m0 78v1m0 51v1m1-172v1m0 38v1m0 77v2m1-121v2m0 37v2m0 77v1m1-120v1m0 38v1m0 77v2m1-291v1m0 170v1m0 38v1m0 31v1m0 45v1m1-290v1m1-3v2m0 110v1m0 129v1m1-244v1m0 44v1m0 66v1m0 128v2m1-244v1m0 44v1m0 65v2m0 128v1m0 83v1m1-327v1m0 43v2m0 65v1m0 212v2m1-283v1m0 66v1m0 58v1m0 38v1m0 77v1m0 36v1m1-282v1m0 66v1m0 58v1m0 38v1m0 77v1m0 35v2m1-282v1m0 124v2m0 38v1m0 76v2m0 35v1m1-156v1m0 39v1m0 76v1m1-119v1m0 39v1m0 29v1m0 46v1m1-119v1m0 39v1m0 29v1m1-242v1m0 238v2m1-242v1m0 109v1m0 128v1m0 82v1m1-324v1m0 109v1m0 128v1m0 81v2m1-324v1m0 43v1m0 239v1m0 36v1m1-323v1m0 43v1m0 239v1m0 35v2m1-323v1m0 42v2m0 124v1m0 38v1m0 74v2m0 35v1m1-279v1m0 66v1m0 58v1m0 38v1m0 74v1m1-242v1m0 66v1m0 57v2m0 37v2m0 27v1m0 46v1m1-242v1m0 124v1m0 38v1m0 28v1m1-70v1m0 38v1m0 28v1m1-70v1m0 67v1m0 81v1m1-84v1m0 80v2m1-321v1m0 236v1m0 44v1m0 35v1m1-320v1m0 109v1m0 170v2m0 34v2m1-320v1m0 109v1m0 170v1m0 35v1m1-319v1m0 43v1m0 64v2m0 95v1m0 73v2m0 91v1m1-375v1m0 43v1m0 64v1m0 57v1m0 38v1m0 73v1m0 92v1m0 1v1m1-377v1m0 42v2m0 64v1m0 57v1m0 37v2m0 27v1m0 142v2m1-380v1m0 42v1m0 65v1m0 56v2m0 37v1m0 28v1m0 142v1m1-336v1m0 122v1m0 38v1m0 28v1m1-193v1m0 122v1m0 67v1m0 80v1m1-151v1m0 67v1m0 79v2m0 64v1m1-148v1m0 44v1m0 33v2m0 67v2m1-107v2m0 33v1m1-37v1m1-281v1m0 108v1m0 94v1m0 73v2m1-281v1m0 107v2m0 93v2m0 73v1m1-281v2m0 42v1m0 64v1m0 56v1m0 37v1m0 28v1m1-235v1m0 43v1m0 63v2m0 56v1m0 36v2m0 28v1m1-235v1m0 42v2m0 63v1m0 57v1m0 36v1m0 29v1m1-235v1m0 42v1m0 189v1m0 79v1m1-272v1m0 121v1m0 67v1m0 78v2m0 53v2m1-327v1m0 121v1m0 67v1m0 43v1m0 34v1m0 53v2m1-197v1m0 104v1m0 34v1m0 52v2m1-92v2m0 87v1m1-165v1m0 73v1m1-171v1m0 94v1m0 73v1m1-278v1m0 106v1m0 93v2m0 27v1m1-232v1m0 106v1m0 56v1m0 36v1m0 28v1m0 79v1m1-312v1m0 41v1m0 64v1m0 56v1m0 36v1m0 28v1m0 78v2m0 52v1m1-365v1m0 41v1m0 64v1m0 55v2m0 36v1m0 28v1m0 78v1m0 52v2m1-365v1m0 41v1m0 64v1m0 55v1m0 25v1m0 40v1m0 42v1m0 34v2m0 52v1m1-364v1m0 41v1m0 120v1m0 66v1m0 42v1m0 34v1m0 52v2m1-364v1m0 41v1m0 120v1m0 108v2m0 87v1m0 41v2m1-364v1m0 229v1m0 130v1m1-133v1m0 135v2m1-6v1m1-208v1m0 106v1m1-202v1m0 91v2m0 4v1m0 23v1m0 76v2m0 52v1m1-363v1m0 107v1m0 54v1m0 36v1m0 28v2m0 76v1m0 52v2m0 53v1m1-417v1m0 106v2m0 54v1m0 36v1m0 28v1m0 76v2m0 52v1m0 53v2m1-417v1m0 42v1m0 63v1m0 54v2m0 36v1m0 27v2m0 42v1m0 33v1m0 52v2m1-362v1m0 42v1m0 63v1m0 54v1m0 65v1m0 43v1m0 86v1m1-361v1m0 41v2m0 63v1m0 54v1m0 108v2m1-274v1m0 41v1m0 119v1m0 56v1m0 51v1m1-273v1m0 41v1m0 228v1m1-231v1m1 154v1m0 105v1m0 51v1m1-160v1m0 29v1m0 75v1m0 51v1m1-253v1m0 91v2m0 27v2m0 75v2m0 50v2m0 41v1m1-295v1m0 55v1m0 35v1m0 28v1m0 41v1m0 34v1m0 51v1m0 41v2m1-296v2m0 55v1m0 35v1m0 27v2m0 8v1m0 32v1m0 34v1m0 51v1m0 41v1m1-400v1m0 104v1m0 55v2m0 35v1m0 27v1m0 41v2m0 127v2m1-400v1m0 41v1m0 62v1m0 55v1m0 79v1m0 26v1m0 128v1m1-399v1m0 41v1m0 62v1m0 55v1m0 106v1m1-270v1m0 41v1m0 118v1m0 106v1m0 160v1m0 1v1m1-433v1m0 41v1m0 205v1m0 52v1m0 51v1m1-355v1m0 41v1m0 258v1m0 51v1m0 79v1m1-393v1m0 154v1m0 26v1m0 75v2m0 50v2m0 40v2m0 39v1m1-395v1m0 154v1m0 26v1m0 30v1m0 44v1m0 51v1m0 40v2m0 35v1m0 6v1m1-243v2m0 25v2m0 41v1m0 33v1m0 51v1m0 39v2m0 36v1m0 1v1m0 6v1m1-336v1m0 90v1m0 26v1m0 42v1m0 125v1m0 41v1m1-331v1m0 54v1m0 35v1m0 26v1m0 38v1m0 3v1m1-164v2m0 53v2m0 35v1m0 26v1m1-121v1m0 54v1m0 274v1m1-436v1m0 40v1m0 62v1m0 53v2m0 106v1m0 2v1m0 27v1m0 52v1m0 85v1m0 2v1m1-441v1m0 40v1m0 62v1m0 53v1m0 138v1m0 51v2m0 39v1m0 47v2m1-442v2m0 40v1m0 254v2m0 51v1m0 39v1m1-392v1m0 41v1m0 234v1m0 19v1m0 51v2m0 39v1m1-392v1m0 41v1m0 152v1m0 26v1m0 57v1m0 16v1m0 51v1m0 39v2m1-392v1m0 41v1m0 151v2m0 26v1m0 41v1m0 124v1m1-349v1m0 151v1m0 26v2m0 41v1m0 20v1m1-94v2m0 26v1m0 41v2m0 157v2m1-321v1m0 53v1m0 34v1m0 27v1m0 41v1m0 26v1m0 130v2m1-320v1m0 53v1m0 62v1m0 41v1m0 29v1m0 53v1m0 72v2m0 27v1m0 1v1m1-350v2m0 52v2m0 187v2m0 38v1m0 33v1m1-319v1m0 53v1m0 136v2m0 2v1m0 47v1m0 39v1m0 66v1m1-415v1m0 62v1m0 53v1m0 136v1m0 6v1m0 43v2m0 38v2m0 68v1m1-417v1m0 62v1m0 189v2m0 50v1m0 39v1m0 64v1m0 6v1m1-419v1m0 252v1m0 12v1m0 78v1m0 73v1m1-421v1m0 152v1m0 26v1m0 40v1m0 47v1m0 108v1m1-380v1m0 151v2m0 25v2m0 40v1m0 50v1m0 104v2m1-380v1m0 151v1m0 26v1m0 40v2m0 155v1m0 35v5m0 1v1m1-421v1m0 150v2m0 25v2m0 40v1m0 56v1m0 24v1m0 73v2m1-318v1m0 54v1m0 34v1m0 26v1m0 41v1m0 59v1m0 21v1m0 39v1m0 33v1m1-317v1m0 54v1m0 103v1m0 31v1m0 30v1m0 17v2m0 38v2m0 77v1m1-361v1m0 53v2m0 135v1m0 33v1m0 14v1m0 38v2m0 78v1m1-361v1m0 53v1m0 135v2m0 36v1m0 11v1m0 38v1m1-281v1m0 53v1m0 135v1m0 40v1m1-233v1m0 53v1m0 135v1m0 43v1m0 77v2m1-377v1m0 176v1m0 121v1m0 73v2m1-376v1m0 150v1m0 25v1m0 41v1m0 82v1m0 69v2m0 28v2m1-405v1m0 149v2m0 24v2m0 40v2m0 79v1m0 5v1m0 33v1m0 32v1m0 28v2m1-404v1m0 149v1m0 25v1m0 41v1m0 80v1m0 8v1m0 29v2m0 60v2m1-403v1m0 148v2m0 25v1m0 40v2m0 30v1m0 48v2m0 11v1m0 26v1m0 61v1m1-402v1m0 113v1m0 34v1m0 26v1m0 40v1m0 31v1m0 48v1m0 15v2m0 21v2m1-279v1m0 52v1m0 133v2m0 48v1m0 19v1m0 18v1m1-278v1m0 51v2m0 133v1m0 72v2m0 46v1m0 63v1m1-375v2m0 51v1m0 134v1m0 76v1m0 43v1m1-311v1m0 52v1m0 214v2m0 38v2m0 67v1m1-379v1m0 52v1m0 218v2m0 34v1m0 27v2m0 35v1m0 5v1m1-381v1m0 114v1m0 39v1m0 79v1m0 40v2m0 30v1m0 26v2m0 36v1m0 1v1m0 5v1m1-444v1m0 148v1m0 26v1m0 39v1m0 79v1m0 38v2m0 4v1m0 54v1m0 37v1m0 3v1m0 5v1m1-446v1m0 148v1m0 25v2m0 38v2m0 78v2m0 38v1m0 8v2m0 88v1m0 2v2m1-441v2m0 147v2m0 25v1m0 39v1m0 31v1m0 47v1m0 38v2m0 12v3m0 91v1m1-445v1m0 148v1m0 26v1m0 39v1m0 31v1m0 47v1m0 38v1m0 18v4m0 87v1m1-447v1m0 148v1m0 26v1m0 39v1m0 30v2m0 111v3m0 82v1m1-447v1m0 114v1m0 131v1m0 118v2m0 27v1m0 47v3m1-386v1m0 52v2m0 131v1m0 123v4m0 19v2m1-336v1m0 52v1m0 132v1m0 117v1m0 11v3m0 14v1m1-336v2m0 51v2m0 217v1m0 49v3m0 8v2m1-336v1m0 52v1m0 100v1m0 79v1m0 92v3m1-331v1m0 113v1m0 39v1m0 78v2m0 36v2m0 59v2m1-335v1m0 87v1m0 24v2m0 38v2m0 78v1m0 37v1m0 65v1m0 1v1m1-254v2m0 24v1m0 39v1m0 30v1m0 47v2m0 37v1m0 31v1m0 38v1m0 1v1m1-259v1m0 24v2m0 39v1m0 30v1m0 47v1m0 69v2m0 43v1m0 1v1m0 18v2m1-285v2m0 24v1m0 40v1m0 29v2m0 117v1m0 49v1m0 1v1m0 12v1m1-283v1m0 96v1m0 117v2m0 54v1m0 1v1m0 1v1m1-311v1m0 130v1m0 117v1m0 27v1m0 34v1m0 1v1m1-316v1m0 130v1m0 84v1m0 59v1m1-330v1m0 50v2m0 177v1m0 37v1m1-270v1m0 50v1m0 178v1m0 36v2m1-271v2m0 50v1m0 99v1m0 77v2m0 36v1m0 95v1m1-366v1m0 51v1m0 59v1m0 38v2m0 77v1m0 37v1m0 30v2m0 62v2m1-366v1m0 85v1m0 25v1m0 38v1m0 78v1m0 67v2m0 26v1m0 36v1m1-365v1m0 85v1m0 24v2m0 37v2m0 30v1m0 114v2m0 26v2m0 35v2m1-280v2m0 24v1m0 38v1m0 31v1m0 114v1m0 26v2m0 36v1m1-279v1m0 25v1m0 69v2m0 141v1m0 82v3m1-326v1m0 95v1m0 83v1m0 141v1m1-359v1m0 34v1m0 95v1m0 45v1m0 37v1m0 141v1m1-359v1m0 176v1m0 36v2m0 93v1m1-363v1m0 51v1m0 175v2m0 36v1m0 93v2m0 51v5m0 1v1m1-421v1m0 51v1m0 98v1m0 76v1m0 37v1m0 30v1m0 26v1m0 35v1m0 48v3m1-414v2m0 51v1m0 98v1m0 76v1m0 67v2m0 25v2m0 34v2m0 48v1m0 3v1m0 5v1m1-422v1m0 52v1m0 59v1m0 37v2m0 143v2m0 26v1m0 35v1m0 55v1m0 3v1m1-422v1m0 86v1m0 24v2m0 37v1m0 30v1m0 113v1m0 26v2m0 95v1m1-422v1m0 86v1m0 24v1m0 38v1m0 29v2m0 140v1m1-239v2m0 23v2m0 38v1m0 29v1m0 82v1m0 150v1m1-331v1m0 24v1m0 68v2m0 81v2m0 152v2m0 1v1m1-336v1m0 93v1m0 46v1m0 35v1m0 93v1m0 62v1m1-336v1m0 139v2m0 34v2m0 29v1m0 62v2m1-307v1m0 173v1m0 35v1m0 30v1m0 26v2m0 33v2m1-306v1m0 172v2m0 65v2m0 25v2m0 34v1m1-358v1m0 51v2m0 96v1m0 75v1m0 66v1m0 25v2m1-322v1m0 51v1m0 57v1m0 38v2m0 142v1m0 25v1m1-321v1m0 51v1m0 57v1m0 38v1m0 29v1m1-181v1m0 51v1m0 32v1m0 23v2m0 37v2m0 28v2m0 81v1m0 142v2m1-407v1m0 84v1m0 23v1m0 38v1m0 29v1m0 82v1m0 91v1m0 49v2m1-406v1m0 83v2m0 23v1m0 67v2m0 81v2m0 90v2m0 48v2m1-321v1m0 24v1m0 67v1m0 46v1m0 35v1m0 29v1m0 25v1m0 34v2m0 49v1m1-320v1m0 138v2m0 35v1m0 29v1m0 25v1m0 34v1m1-269v1m0 138v1m0 65v2m0 24v2m1-268v1m0 171v2m0 65v1m0 25v1m0 120v3m1-390v1m0 171v1m0 66v1m0 25v1m0 83v1m0 36v1m1-389v2m0 96v1m0 250v2m0 36v1m1-439v1m0 49v1m0 58v1m0 38v1m0 27v1m0 81v1m0 90v2m0 48v1m0 39v1m1-441v1m0 49v1m0 58v1m0 37v2m0 27v1m0 81v1m0 89v2m0 48v2m0 36v1m0 4v4m0 2v1m1-449v1m0 49v1m0 32v1m0 24v2m0 37v1m0 28v1m0 80v2m0 88v2m0 49v1m0 39v1m1-440v1m0 82v1m0 24v1m0 38v1m0 28v1m0 80v1m0 29v1m0 25v1m0 33v1m0 93v1m0 4v1m1-448v1m0 82v1m0 24v1m0 67v1m0 44v1m0 35v1m0 28v2m0 25v1m0 123v1m0 2v1m0 5v1m1-448v1m0 82v1m0 24v1m0 67v1m0 44v1m0 64v1m0 25v2m1-315v1m0 82v1m0 136v2m0 63v2m0 25v1m0 81v2m1-314v1m0 136v1m0 64v1m0 26v1m0 80v2m1-176v1m0 124v1m0 46v2m0 50v4m1-399v1m0 94v1m0 198v2m0 46v1m1-344v1m0 94v1m0 109v1m0 88v1m1-297v2m0 93v2m0 28v1m0 79v2m0 87v2m1-297v1m0 57v1m0 36v1m0 28v2m0 79v1m0 28v1m0 25v1m0 33v1m1-296v1m0 31v1m0 24v2m0 36v1m0 28v1m0 79v2m0 28v1m0 24v2m1-262v1m0 31v1m0 24v1m0 37v1m0 27v2m0 44v1m0 34v1m0 28v2m0 23v2m0 80v1m1-311v2m0 23v2m0 65v1m0 44v2m0 63v1m0 24v1m0 80v2m1-311v1m0 24v1m0 111v1m0 64v1m0 104v2m0 41v2m1-353v1m0 135v2m0 122v1m0 46v1m0 41v2m0 27v1m1-380v1m0 135v1m0 122v2m0 87v2m0 28v1m1-210v1m0 87v2m0 88v1m1-383v1m0 94v1m0 106v2m0 53v1m0 33v1m0 119v1m0 1v1m0 4v1m1-420v1m0 94v1m0 27v1m0 78v1m0 29v1m0 23v2m1-260v2m0 93v2m0 27v1m0 77v2m0 29v1m0 23v1m0 80v1m0 73v1m0 3v1m1-418v1m0 57v1m0 36v1m0 28v1m0 77v1m0 29v2m0 22v2m0 79v2m0 39v2m0 32v1m0 1v1m0 6v2m1-424v1m0 57v1m0 36v1m0 28v1m0 43v1m0 63v1m0 23v1m0 79v2m0 39v2m0 37v1m0 3v2m1-423v1m0 32v1m0 23v2m0 36v1m0 28v1m0 42v2m0 63v1m0 56v1m0 46v1m0 39v2m1-346v1m0 23v1m0 66v1m0 42v1m0 121v1m0 86v1m1-346v2m0 23v1m0 108v2m0 120v2m0 126v1m1-386v1m0 133v1m0 121v1m0 129v1m1-388v1m0 167v1m0 53v1m0 33v1m0 131v3m1-392v1m0 60v1m0 106v1m0 28v1m0 24v1m0 78v2m0 38v1m1-282v1m0 105v2m0 27v2m0 23v2m0 77v2m0 38v2m1-376v1m0 92v2m0 28v1m0 76v1m0 28v1m0 24v1m0 77v2m0 39v1m1-375v1m0 92v1m0 28v2m0 76v1m0 27v2m0 24v1m0 30v1m0 46v1m0 39v2m1-375v1m0 56v1m0 35v1m0 28v1m0 42v1m0 62v1m0 56v1m0 86v1m1-374v1m0 55v2m0 35v1m0 27v2m0 42v1m0 118v2m1-287v1m0 31v1m0 23v1m0 64v1m0 42v2m0 118v1m0 120v2m1-408v1m0 31v1m0 22v2m0 107v1m0 119v1m0 119v2m1-376v2m0 22v1m0 108v1m0 86v1m0 77v2m0 37v1m0 34v2m1-375v1m0 166v1m0 26v1m0 25v1m0 76v2m0 37v2m0 34v1m1-374v1m0 165v2m0 26v1m0 24v2m0 75v2m0 37v2m1-338v1m0 165v1m0 26v2m0 24v1m0 76v1m0 38v1m1-276v1m0 26v1m0 76v2m0 26v1m0 25v1m0 30v1m1-192v2m0 26v1m0 76v1m0 27v1m0 55v2m0 117v2m1-403v1m0 91v1m0 26v2m0 42v1m0 61v1m0 55v1m0 117v2m1-402v1m0 54v1m0 35v2m0 26v1m0 42v2m0 116v2m0 116v2m1-402v2m0 54v1m0 35v1m0 27v1m0 42v1m0 117v1m0 44v1m0 38v1m0 33v1m1-401v1m0 30v1m0 23v2m0 63v1m0 41v2m0 85v1m0 76v1m0 37v2m1-367v1m0 30v1m0 23v1m0 106v1m0 32v1m0 52v2m0 75v2m0 36v2m1-366v1m0 29v2m0 23v1m0 139v1m0 27v1m0 24v1m0 76v1m0 37v1m1-335v1m0 24v1m0 138v2m0 27v1m0 23v2m0 76v1m0 122v1m1-420v1m0 163v1m0 27v2m0 23v1m0 31v1m0 116v2m1-369v1m0 59v1m0 103v1m0 27v1m0 55v2m0 115v2m1-308v1m0 28v1m0 74v1m0 27v1m0 54v2m0 115v2m1-307v1m0 27v2m0 40v1m0 116v1m0 43v1m0 38v2m0 32v1m1-306v1m0 27v1m0 41v1m0 160v1m0 37v2m0 93v1m0 3v1m1-406v1m0 35v1m0 26v2m0 40v2m0 83v1m0 75v2m0 36v2m0 90v1m1-398v1m0 35v1m0 26v1m0 41v1m0 83v2m0 75v1m0 37v1m1-307v2m0 104v1m0 83v1m0 76v1m0 69v1m0 61v1m1-425v1m0 23v1m0 138v1m0 27v1m0 21v2m0 30v1m0 114v2m0 61v1m1-425v1m0 23v1m0 138v1m0 26v2m0 21v1m0 31v1m0 113v2m0 68v1m1-432v2m0 23v1m0 137v2m0 26v1m0 53v2m0 80v1m0 32v1m1-362v1m0 162v1m0 26v2m0 53v1m0 42v1m0 37v2m1-329v1m0 59v1m0 26v1m0 75v1m0 26v1m0 54v1m0 42v1m0 37v1m0 105v3m1-376v1m0 26v1m0 41v1m0 157v2m0 36v2m0 101v1m0 7v1m1-379v2m0 25v2m0 41v1m0 157v1m0 37v1m1-268v1m0 26v1m0 41v2m0 82v1m0 74v1m0 69v1m1-336v1m0 35v1m0 26v1m0 41v1m0 83v1m0 143v2m0 77v3m1-416v1m0 35v1m0 26v1m0 41v1m0 31v1m0 26v1m0 23v2m0 29v1m0 112v2m1-336v2m0 104v1m0 31v1m0 25v2m0 23v1m0 29v2m0 78v1m0 33v1m0 56v2m1-416v1m0 22v1m0 136v2m0 25v1m0 24v1m0 29v1m0 79v1m0 89v2m1-415v1m0 22v1m0 136v1m0 25v2m0 53v2m0 41v2m0 35v2m0 88v2m0 27v3m0 1v1m1-447v2m0 22v1m0 136v1m0 25v1m0 54v1m0 41v2m0 36v1m0 89v1m1-414v1m0 160v1m0 121v2m0 37v1m0 30v2m0 93v1m1-450v1m0 58v1m0 26v1m0 196v1m0 68v2m0 93v2m1-450v1m0 58v1m0 26v1m0 41v1m0 81v1m0 140v2m0 93v2m1-391v2m0 25v2m0 40v2m0 80v2m0 140v1m0 56v2m0 36v1m1-390v1m0 26v1m0 41v1m0 81v1m0 29v1m0 78v1m0 88v2m0 36v2m1-426v1m0 35v1m0 26v1m0 40v2m0 57v1m0 22v2m0 28v2m0 78v1m0 87v2m0 36v2m1-425v1m0 35v1m0 67v1m0 32v1m0 25v1m0 22v1m0 29v1m0 42v1m0 35v2m0 87v1m0 37v1m1-424v1m0 136v1m0 24v2m0 51v2m0 42v1m0 35v1m1-297v1m0 135v2m0 24v1m0 52v1m0 42v2m0 35v1m0 30v2m0 97v5m0 1v2m1-434v1m0 135v1m0 25v1m0 95v1m0 66v2m1-328v1m0 135v1m0 121v1m0 65v2m0 54v2m0 49v1m1-109v1m0 54v2m0 50v1m0 1v2m1-401v1m0 26v1m0 39v1m0 81v1m0 106v1m0 86v2m0 51v1m0 4v1m2-4v3m4-3v3m0 1v1m4-9v3m0 3v3m1-6v3"/>
</svg>
</body></html>
